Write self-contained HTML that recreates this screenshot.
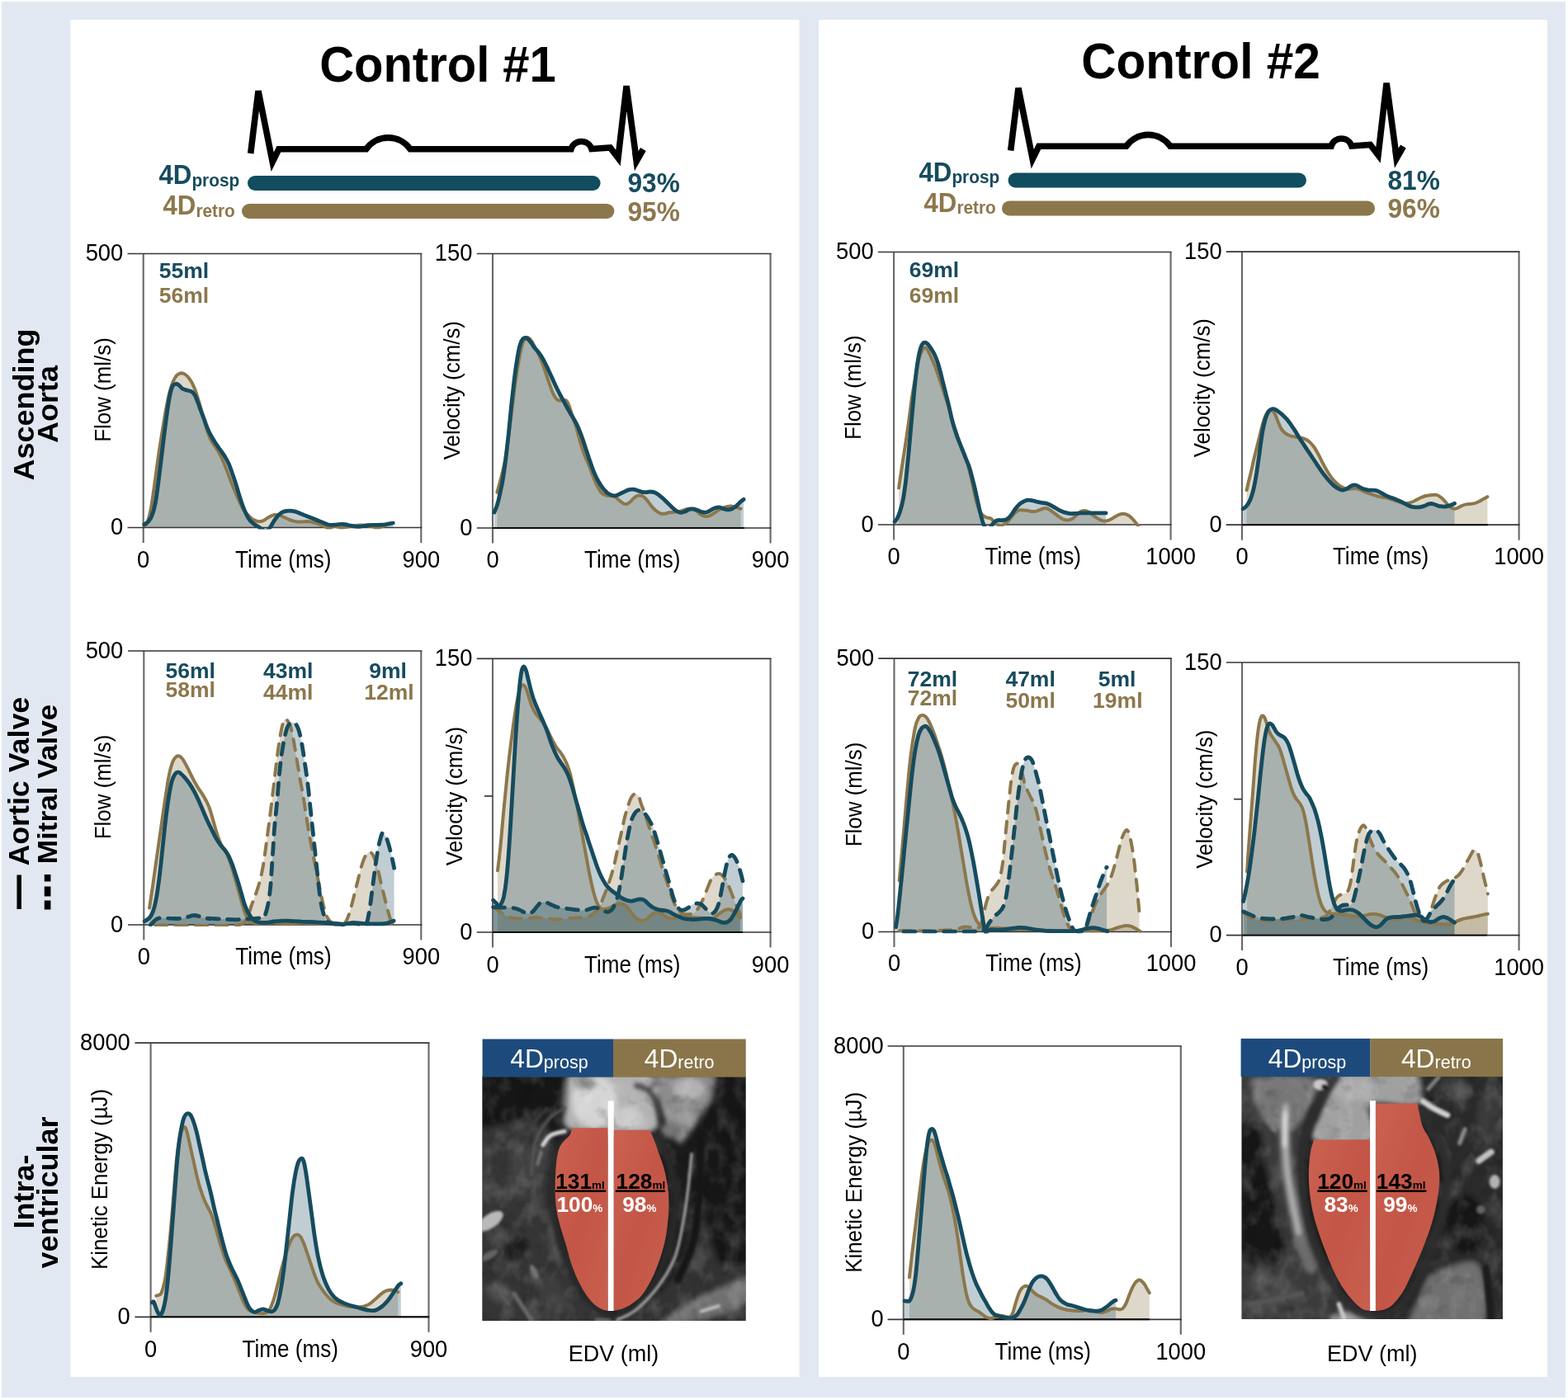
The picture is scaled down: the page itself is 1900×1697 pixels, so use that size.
<!DOCTYPE html>
<html lang="en"><head><meta charset="utf-8"><title>4D flow: prospective vs retrospective gating</title>
<style>html,body{margin:0;padding:0;background:#fff}body{width:1900px;height:1697px;overflow:hidden}svg{display:block}text{font-family:'Liberation Sans', Arial, Helvetica, sans-serif}</style>
</head><body>
<svg width="1900" height="1697" viewBox="0 0 1900 1697">
<rect width="1900" height="1697" fill="#fff"/>
<rect x="2" y="2" width="1895" height="1692" fill="#e2e8f2"/>
<g>
<rect x="85.3" y="24" width="883.2" height="1645" fill="#fff"/>
<rect x="992" y="24" width="883" height="1645" fill="#fff"/>
<text font-size="58" font-weight="bold" text-anchor="middle" transform="translate(530.5 98.7) scale(1 1.04)">Control #1</text>
<text font-size="58.6" font-weight="bold" text-anchor="middle" transform="translate(1455 95) scale(1 1.04)">Control #2</text>
<g transform="translate(0 0)">
<path d="M303.7 186L313 110.2L330.2 196.3L337.8 180.8H443.7A32.6 32.6 0 0 1 497.1 180.8H692A13 13 0 0 1 716.9 180.6L739.4 179L749 191.5L759.1 104.2L770.1 186" fill="none" stroke="#000" stroke-width="7.6" stroke-linejoin="miter" stroke-miterlimit="4"/>
<path d="M768.9 207.2L782.7 183.1L776.2 178.9L773.2 183.5L770 186L765.9 185Z" fill="#000"/>
</g>
<g transform="translate(921 -3.5)">
<path d="M303.7 186L313 110.2L330.2 196.3L337.8 180.8H443.7A32.6 32.6 0 0 1 497.1 180.8H692A13 13 0 0 1 716.9 180.6L739.4 179L749 191.5L759.1 104.2L770.1 186" fill="none" stroke="#000" stroke-width="7.6" stroke-linejoin="miter" stroke-miterlimit="4"/>
<path d="M768.9 207.2L782.7 183.1L776.2 178.9L773.2 183.5L770 186L765.9 185Z" fill="#000"/>
</g>
<path d="M309 222H718.6" stroke="#0f4d5f" stroke-width="18" stroke-linecap="round"/>
<path d="M302 256H735.4" stroke="#8c774c" stroke-width="18" stroke-linecap="round"/>
<text transform="translate(192.5 223) scale(1 1.04)" font-size="31.2" font-weight="bold" fill="#164b5e">4D<tspan font-size="20.8" dy="2.4">prosp</tspan></text>
<text transform="translate(197.5 260) scale(1 1.04)" font-size="31.2" font-weight="bold" fill="#8c774c">4D<tspan font-size="20.8" dy="2.4">retro</tspan></text>
<text transform="translate(760.5 233.4) scale(1 1.055)" font-size="31.6" font-weight="bold" fill="#164b5e">93%</text>
<text transform="translate(760.5 267.9) scale(1 1.055)" font-size="31.6" font-weight="bold" fill="#8c774c">95%</text>
<path d="M1230.5 218.5H1574" stroke="#0f4d5f" stroke-width="18" stroke-linecap="round"/>
<path d="M1223 252.5H1657" stroke="#8c774c" stroke-width="18" stroke-linecap="round"/>
<text transform="translate(1113.5 219.5) scale(1 1.04)" font-size="31.2" font-weight="bold" fill="#164b5e">4D<tspan font-size="20.8" dy="2.4">prosp</tspan></text>
<text transform="translate(1119.5 256.5) scale(1 1.04)" font-size="31.2" font-weight="bold" fill="#8c774c">4D<tspan font-size="20.8" dy="2.4">retro</tspan></text>
<text transform="translate(1681.5 229.9) scale(1 1.055)" font-size="31.6" font-weight="bold" fill="#164b5e">81%</text>
<text transform="translate(1681.5 264.4) scale(1 1.055)" font-size="31.6" font-weight="bold" fill="#8c774c">96%</text>
<text font-size="34.6" font-weight="bold" text-anchor="middle" transform="translate(40.5 490.5) rotate(-90) scale(1.04 1)">Ascending</text>
<text font-size="34.6" font-weight="bold" text-anchor="middle" transform="translate(69.5 490) rotate(-90) scale(1.04 1)">Aorta</text>
<text font-size="34.4" font-weight="bold" text-anchor="middle" transform="translate(35 947.2) rotate(-90) scale(1.04 1)">Aortic Valve</text>
<text font-size="34" font-weight="bold" text-anchor="middle" transform="translate(68.8 950.5) rotate(-90) scale(1.035 1)">Mitral Valve</text>
<path d="M23.2 1060.5V1102" stroke="#000" stroke-width="5.5"/>
<path d="M57.6 1060V1102.6" stroke="#000" stroke-width="7.7" stroke-dasharray="8.5 6 12 5 11 20"/>
<text font-size="34.6" font-weight="bold" text-anchor="middle" transform="translate(40.5 1444.5) rotate(-90) scale(1.04 1)">Intra-</text>
<text font-size="34.6" font-weight="bold" text-anchor="middle" transform="translate(69.7 1445.5) rotate(-90) scale(1.04 1)">ventricular</text>
<g>
<clipPath id="c1"><rect x="171.7" y="307.5" width="340.6" height="334"/></clipPath>
<g clip-path="url(#c1)">
<path d="M175.6 637.1C176 636.5 177.2 636.7 178.4 633.6C179.6 630.4 181.2 625.3 182.6 618C184 610.7 185.5 599.6 186.9 589.7C188.3 579.8 189.7 568.5 191.1 558.6C192.5 548.7 193.9 539.3 195.4 530.3C196.8 521.4 198.2 512.9 199.6 504.9C201 496.8 202.4 488.6 203.8 482.2C205.3 475.9 206.7 470.8 208.1 466.7C209.5 462.5 210.9 459.7 212.3 457.5C213.7 455.2 215.3 454.1 216.6 453.2C217.9 452.4 218.9 452.2 220.1 452.2C221.3 452.3 222.3 452.6 223.6 453.4C224.9 454.2 226.5 455.4 227.9 457.1C229.3 458.7 230.7 460.6 232.1 463.1C233.5 465.7 235.2 469.4 236.4 472.3C237.5 475.3 238 477 239.2 480.8C240.4 484.6 242 490 243.4 495C244.9 499.9 246.3 505.6 247.7 510.5C249.1 515.5 250.5 520.6 251.9 524.7C253.3 528.7 254.8 531.8 256.2 534.6C257.6 537.3 259 538.8 260.4 540.9C261.8 543 263.2 544.8 264.7 547.3C266.1 549.8 267.5 552.7 268.9 555.8C270.3 558.8 271.7 562.1 273.1 565.7C274.6 569.2 276 573.2 277.4 577C278.8 580.8 280.2 584.8 281.6 588.3C283 591.8 284.5 594.9 285.9 598.2C287.3 601.5 288.7 605 290.1 608.1C291.5 611.2 292.9 614.2 294.4 616.6C295.8 618.9 297.2 620.6 298.6 622.2C300 623.9 301.4 625.2 302.8 626.5C304.3 627.8 305.7 629.1 307.1 630C308.5 630.9 309.9 631.4 311.3 631.7C312.7 632.1 314.2 632.3 315.6 632.1C317 632 318.4 631.4 319.8 630.7C321.2 630 322.4 628.9 324.1 627.9C325.7 626.9 327.8 625.5 329.7 624.8C331.6 624.1 333.7 623.7 335.4 623.7C337 623.6 338.2 624.1 339.6 624.6C341 625.2 342.2 626 343.9 626.8C345.5 627.5 347.6 628.5 349.5 629.3C351.4 630.1 353.3 630.9 355.2 631.4C357.1 632 358.9 632.4 360.8 632.6C362.7 632.7 364.6 632.5 366.5 632.4C368.4 632.4 370.3 632.1 372.1 632.1C374 632.2 375.9 632.5 377.8 632.8C379.7 633.2 381.6 633.7 383.5 634.3C385.3 634.8 387.2 635.6 389.1 636.4C391 637.2 393.1 638.2 394.8 638.9C396.4 639.6 397.3 640.8 399 640.6C400.8 640.4 402.8 637.9 405.3 637.8C407.8 637.7 410.6 639.8 413.9 639.8C417.3 639.8 421.7 638.3 425.5 637.8C429.4 637.3 433.2 636.6 437.1 636.6C441 636.6 445.3 637.3 448.7 637.8C452.1 638.3 454.5 639.9 457.4 639.8C460.3 639.7 464.6 637.6 466.1 637.2L466.1 639.5L175.6 639.5Z" fill="#8c774c" fill-opacity="0.29"/>
<path d="M174.8 635.7C175.7 635.1 178.3 633.9 179.8 632.1C181.3 630.4 182.6 628.8 184 625.1C185.5 621.3 186.9 617.1 188.3 609.5C189.7 602 191.1 590.7 192.5 579.8C193.9 569 195.4 556 196.8 544.5C198.2 532.9 199.8 519.5 201 510.5C202.2 501.6 202.9 496.6 203.8 490.7C204.8 484.8 205.7 479 206.7 475.2C207.6 471.3 208.4 469 209.5 467.4C210.6 465.7 211.9 465.4 213 465.3C214.2 465.1 215.3 465.7 216.6 466.7C217.9 467.6 219.4 469.9 220.8 470.9C222.2 471.9 223.6 472.1 225.1 472.6C226.5 473.1 228 473.3 229.3 473.7C230.6 474.2 231.7 474.2 232.8 475.2C234 476.1 235.3 477.5 236.4 479.4C237.4 481.3 238 483.4 239.2 486.5C240.4 489.5 242 494 243.4 497.8C244.9 501.6 246.3 505.3 247.7 509.1C249.1 512.9 250.5 517.1 251.9 520.4C253.3 523.7 254.8 526.3 256.2 528.9C257.6 531.5 259 533.7 260.4 536C261.8 538.2 263.2 540.3 264.7 542.3C266.1 544.3 267.5 546 268.9 548C270.3 550 271.7 551.9 273.1 554.4C274.6 556.8 276 559.5 277.4 562.8C278.8 566.1 280.2 570.1 281.6 574.2C283 578.2 284.5 582.4 285.9 586.9C287.3 591.4 288.7 596.5 290.1 601C291.5 605.5 292.9 610 294.4 613.8C295.8 617.5 297.2 620.8 298.6 623.7C300 626.5 301.2 628.7 302.8 630.7C304.5 632.7 306.6 634.3 308.5 635.7C310.4 637.1 312.4 638 314.2 639.2C315.9 640.4 317.8 641.8 319.1 642.7C320.4 643.7 321 644.9 321.9 644.9C322.9 644.8 323.7 643.5 324.8 642.3C325.8 641.1 327 639.7 328.3 637.8C329.6 635.9 330.9 633.1 332.5 630.7C334.2 628.4 336.3 625.4 338.2 623.7C340.1 621.9 341.7 620.9 343.9 620.1C346 619.4 348.6 619.1 350.9 619.1C353.3 619.1 355.6 619.5 358 620.1C360.4 620.8 362.7 622 365.1 622.9C367.4 623.9 369.8 624.8 372.1 625.8C374.5 626.7 376.9 627.7 379.2 628.6C381.6 629.5 383.9 630.5 386.3 631.4C388.6 632.4 391.1 633.4 393.4 634.3C395.6 635.1 397.5 636.1 400 636.4C402.5 636.6 405.4 635.9 408.2 635.8C411 635.6 413.9 635.2 416.8 635.5C419.7 635.7 422.6 636.7 425.5 637.2C428.4 637.7 430.8 638.5 434.2 638.4C437.6 638.3 441.9 637 445.8 636.6C449.6 636.3 454 636.5 457.4 636.3C460.7 636.2 462.9 636.1 466.1 635.8C469.2 635.4 474.5 634.3 476.2 634L476.2 639.5L174.8 639.5Z" fill="#164b5e" fill-opacity="0.27"/>
</g>
<path d="M510.3 307.5V658M173.7 307.5V658" fill="none" stroke="#686868" stroke-width="2.1"/>
<path d="M154.5 307.5H511.3M154.5 639.5H511.3" fill="none" stroke="#363636" stroke-width="1.7"/>
<g clip-path="url(#c1)">
<path d="M175.6 637.1C176 636.5 177.2 636.7 178.4 633.6C179.6 630.4 181.2 625.3 182.6 618C184 610.7 185.5 599.6 186.9 589.7C188.3 579.8 189.7 568.5 191.1 558.6C192.5 548.7 193.9 539.3 195.4 530.3C196.8 521.4 198.2 512.9 199.6 504.9C201 496.8 202.4 488.6 203.8 482.2C205.3 475.9 206.7 470.8 208.1 466.7C209.5 462.5 210.9 459.7 212.3 457.5C213.7 455.2 215.3 454.1 216.6 453.2C217.9 452.4 218.9 452.2 220.1 452.2C221.3 452.3 222.3 452.6 223.6 453.4C224.9 454.2 226.5 455.4 227.9 457.1C229.3 458.7 230.7 460.6 232.1 463.1C233.5 465.7 235.2 469.4 236.4 472.3C237.5 475.3 238 477 239.2 480.8C240.4 484.6 242 490 243.4 495C244.9 499.9 246.3 505.6 247.7 510.5C249.1 515.5 250.5 520.6 251.9 524.7C253.3 528.7 254.8 531.8 256.2 534.6C257.6 537.3 259 538.8 260.4 540.9C261.8 543 263.2 544.8 264.7 547.3C266.1 549.8 267.5 552.7 268.9 555.8C270.3 558.8 271.7 562.1 273.1 565.7C274.6 569.2 276 573.2 277.4 577C278.8 580.8 280.2 584.8 281.6 588.3C283 591.8 284.5 594.9 285.9 598.2C287.3 601.5 288.7 605 290.1 608.1C291.5 611.2 292.9 614.2 294.4 616.6C295.8 618.9 297.2 620.6 298.6 622.2C300 623.9 301.4 625.2 302.8 626.5C304.3 627.8 305.7 629.1 307.1 630C308.5 630.9 309.9 631.4 311.3 631.7C312.7 632.1 314.2 632.3 315.6 632.1C317 632 318.4 631.4 319.8 630.7C321.2 630 322.4 628.9 324.1 627.9C325.7 626.9 327.8 625.5 329.7 624.8C331.6 624.1 333.7 623.7 335.4 623.7C337 623.6 338.2 624.1 339.6 624.6C341 625.2 342.2 626 343.9 626.8C345.5 627.5 347.6 628.5 349.5 629.3C351.4 630.1 353.3 630.9 355.2 631.4C357.1 632 358.9 632.4 360.8 632.6C362.7 632.7 364.6 632.5 366.5 632.4C368.4 632.4 370.3 632.1 372.1 632.1C374 632.2 375.9 632.5 377.8 632.8C379.7 633.2 381.6 633.7 383.5 634.3C385.3 634.8 387.2 635.6 389.1 636.4C391 637.2 393.1 638.2 394.8 638.9C396.4 639.6 397.3 640.8 399 640.6C400.8 640.4 402.8 637.9 405.3 637.8C407.8 637.7 410.6 639.8 413.9 639.8C417.3 639.8 421.7 638.3 425.5 637.8C429.4 637.3 433.2 636.6 437.1 636.6C441 636.6 445.3 637.3 448.7 637.8C452.1 638.3 454.5 639.9 457.4 639.8C460.3 639.7 464.6 637.6 466.1 637.2" fill="none" stroke="#8c774c" stroke-width="4.0" stroke-linecap="round" stroke-linejoin="round"/>
<path d="M174.8 635.7C175.7 635.1 178.3 633.9 179.8 632.1C181.3 630.4 182.6 628.8 184 625.1C185.5 621.3 186.9 617.1 188.3 609.5C189.7 602 191.1 590.7 192.5 579.8C193.9 569 195.4 556 196.8 544.5C198.2 532.9 199.8 519.5 201 510.5C202.2 501.6 202.9 496.6 203.8 490.7C204.8 484.8 205.7 479 206.7 475.2C207.6 471.3 208.4 469 209.5 467.4C210.6 465.7 211.9 465.4 213 465.3C214.2 465.1 215.3 465.7 216.6 466.7C217.9 467.6 219.4 469.9 220.8 470.9C222.2 471.9 223.6 472.1 225.1 472.6C226.5 473.1 228 473.3 229.3 473.7C230.6 474.2 231.7 474.2 232.8 475.2C234 476.1 235.3 477.5 236.4 479.4C237.4 481.3 238 483.4 239.2 486.5C240.4 489.5 242 494 243.4 497.8C244.9 501.6 246.3 505.3 247.7 509.1C249.1 512.9 250.5 517.1 251.9 520.4C253.3 523.7 254.8 526.3 256.2 528.9C257.6 531.5 259 533.7 260.4 536C261.8 538.2 263.2 540.3 264.7 542.3C266.1 544.3 267.5 546 268.9 548C270.3 550 271.7 551.9 273.1 554.4C274.6 556.8 276 559.5 277.4 562.8C278.8 566.1 280.2 570.1 281.6 574.2C283 578.2 284.5 582.4 285.9 586.9C287.3 591.4 288.7 596.5 290.1 601C291.5 605.5 292.9 610 294.4 613.8C295.8 617.5 297.2 620.8 298.6 623.7C300 626.5 301.2 628.7 302.8 630.7C304.5 632.7 306.6 634.3 308.5 635.7C310.4 637.1 312.4 638 314.2 639.2C315.9 640.4 317.8 641.8 319.1 642.7C320.4 643.7 321 644.9 321.9 644.9C322.9 644.8 323.7 643.5 324.8 642.3C325.8 641.1 327 639.7 328.3 637.8C329.6 635.9 330.9 633.1 332.5 630.7C334.2 628.4 336.3 625.4 338.2 623.7C340.1 621.9 341.7 620.9 343.9 620.1C346 619.4 348.6 619.1 350.9 619.1C353.3 619.1 355.6 619.5 358 620.1C360.4 620.8 362.7 622 365.1 622.9C367.4 623.9 369.8 624.8 372.1 625.8C374.5 626.7 376.9 627.7 379.2 628.6C381.6 629.5 383.9 630.5 386.3 631.4C388.6 632.4 391.1 633.4 393.4 634.3C395.6 635.1 397.5 636.1 400 636.4C402.5 636.6 405.4 635.9 408.2 635.8C411 635.6 413.9 635.2 416.8 635.5C419.7 635.7 422.6 636.7 425.5 637.2C428.4 637.7 430.8 638.5 434.2 638.4C437.6 638.3 441.9 637 445.8 636.6C449.6 636.3 454 636.5 457.4 636.3C460.7 636.2 462.9 636.1 466.1 635.8C469.2 635.4 474.5 634.3 476.2 634" fill="none" stroke="#164b5e" stroke-width="4.8" stroke-linecap="round" stroke-linejoin="round"/>
</g>
<text font-size="27.3" text-anchor="end" transform="translate(149.2 316.1) scale(1 1.05)">500</text>
<text font-size="27.3" text-anchor="end" transform="translate(149.2 648.1) scale(1 1.05)">0</text>
<text font-size="27.3" text-anchor="middle" transform="translate(173.7 687.8) scale(1 1.05)">0</text>
<text font-size="27.3" text-anchor="middle" transform="translate(510.3 687.8) scale(1 1.05)">900</text>
<text font-size="26.1" text-anchor="middle" transform="translate(343.3 687.8) scale(1 1.1)">Time (ms)</text>
<text font-size="25.9" text-anchor="middle" transform="translate(134.3 472.5) rotate(-90) scale(1 1.1)">Flow (ml/s)</text>
</g>
<text x="223" y="337" font-size="26.5" font-weight="bold" fill="#164b5e" text-anchor="middle">55ml</text>
<text x="223" y="367.2" font-size="26.5" font-weight="bold" fill="#8c774c" text-anchor="middle">56ml</text>
<g>
<clipPath id="c2"><rect x="595" y="307.5" width="340.6" height="334.5"/></clipPath>
<g clip-path="url(#c2)">
<path d="M602.4 596.7C603.2 593.5 605.8 584.8 607.6 577.6C609.3 570.3 611.1 563.7 612.8 553.3C614.5 542.8 616.3 528.4 618 515.1C619.7 501.7 621.5 486.1 623.2 473.4C624.9 460.6 626.8 447.9 628.4 438.6C630 429.4 631.3 422.6 632.8 417.8C634.2 413 635.8 411.4 637.1 410C638.4 408.6 639.4 408.9 640.6 409.5C641.7 410 642.6 411.2 644.1 413.4C645.5 415.7 647.5 419.7 649.3 423C651 426.3 652.7 429.4 654.5 433.4C656.2 437.5 657.9 442.4 659.7 447.3C661.4 452.2 663.2 458 664.9 462.9C666.6 467.9 668.4 473.2 670.1 476.8C671.8 480.5 673.6 483.2 675.3 484.7C677.1 486.1 678.8 485.4 680.5 485.5C682.3 485.6 684.3 484.3 685.7 485.2C687.2 486 688.1 488.1 689.2 490.7C690.4 493.4 691.2 496.8 692.7 501.2C694.1 505.5 696.2 511 697.9 516.8C699.6 522.6 701.4 530.1 703.1 535.9C704.8 541.7 706.6 546.9 708.3 551.5C710.1 556.2 711.8 559.3 713.5 563.7C715.3 568 717 573.2 718.7 577.6C720.5 581.9 722.2 586.4 723.9 589.7C725.7 593.1 727.4 595.8 729.2 597.6C730.9 599.3 732.6 599.9 734.4 600.5C736.1 601.1 737.8 600.8 739.6 601C741.3 601.3 743.1 601 744.8 601.9C746.5 602.8 748.3 604.8 750 606.2C751.7 607.6 753.6 609.5 755.2 610.2C756.8 611 758.1 611.3 759.6 610.9C761 610.5 762.3 609.3 763.9 608C765.5 606.6 767.4 604 769.1 602.8C770.8 601.5 772.6 600.6 774.3 600.5C776.1 600.4 777.8 600.8 779.5 601.9C781.3 603 783 605.1 784.7 607.1C786.5 609.1 788.2 612 789.9 614.1C791.7 616.1 793.4 617.9 795.2 619.3C796.9 620.7 798.6 621.8 800.4 622.4C802.1 623 803.8 622.9 805.6 622.7C807.3 622.6 808.8 621.7 810.8 621.3C812.8 621 815.7 620.9 817.7 620.7C819.8 620.5 821.2 620.5 822.9 620.1C824.7 619.8 826.4 619 828.2 618.4C829.9 617.8 831.6 616.9 833.4 616.7C835.1 616.4 836.8 616.2 838.6 616.7C840.3 617.1 842.1 618.1 843.8 619.3C845.5 620.4 847.3 622.5 849 623.6C850.7 624.7 852.5 625.6 854.2 625.9C855.9 626.2 857.7 625.9 859.4 625.3C861.2 624.8 862.9 623.5 864.6 622.4C866.4 621.3 868.1 620 869.8 618.9C871.6 617.8 873.3 616.6 875.1 615.8C876.8 615 878.5 614.4 880.3 614.1C882 613.7 883.7 613.5 885.5 613.5C887.2 613.6 888.9 614 890.7 614.4C892.4 614.8 894.7 615.8 895.9 616.1C897.1 616.5 897.3 616.6 897.6 616.7L897.6 640L602.4 640Z" fill="#8c774c" fill-opacity="0.29"/>
<path d="M598.9 621C599.5 619.6 601.2 616.1 602.4 612.3C603.5 608.6 604.7 603.6 605.8 598.4C607 593.2 608.2 588 609.3 581.1C610.5 574.1 611.6 566 612.8 556.7C613.9 547.5 615.1 536.5 616.3 525.5C617.4 514.5 618.6 501.7 619.7 490.7C620.9 479.7 622.1 468.7 623.2 459.5C624.4 450.2 625.5 442.1 626.7 435.2C627.8 428.2 629 421.8 630.2 417.8C631.3 413.7 632.5 412.2 633.6 410.8C634.8 409.5 635.9 409.3 637.1 409.5C638.3 409.6 639.4 410.6 640.6 411.7C641.7 412.8 642.9 414.5 644.1 416.1C645.2 417.6 646.1 419.4 647.5 421.3C649 423.1 651 425 652.7 427.3C654.5 429.7 656.2 432.1 657.9 435.2C659.7 438.2 661.4 442 663.2 445.6C664.9 449.2 666.6 453.1 668.4 456.9C670.1 460.6 671.8 464.5 673.6 468.2C675.3 471.8 677.1 475.2 678.8 478.6C680.5 481.9 682.3 484.9 684 488.1C685.7 491.3 687.5 494.6 689.2 497.7C690.9 500.7 692.7 503.3 694.4 506.4C696.2 509.4 697.9 512.2 699.6 515.9C701.4 519.7 703.1 524.2 704.8 528.9C706.6 533.7 708.3 539.4 710.1 544.6C711.8 549.8 713.5 555.3 715.3 560.2C717 565.1 718.7 570.1 720.5 574.1C722.2 578.2 723.9 581.5 725.7 584.5C727.4 587.6 729.2 590.2 730.9 592.3C732.6 594.5 734.4 596.2 736.1 597.6C737.8 598.9 739.6 599.6 741.3 600.2C743.1 600.7 744.8 601 746.5 600.7C748.3 600.4 750 599.2 751.7 598.4C753.5 597.6 755.2 596.6 756.9 595.8C758.7 595 760.4 594 762.2 593.6C763.9 593.1 765.6 593 767.4 593.2C769.1 593.4 770.8 594.1 772.6 594.6C774.3 595.1 776.1 596 777.8 596.3C779.5 596.7 781.3 596.7 783 596.7C784.7 596.6 786.5 595.9 788.2 596C789.9 596 791.7 596.3 793.4 597C795.2 597.7 796.9 598.9 798.6 600.2C800.4 601.4 802.1 602.9 803.8 604.5C805.6 606.1 807.3 608 809.1 609.7C810.8 611.4 812.5 613.3 814.3 614.9C816 616.5 817.7 618.2 819.5 619.3C821.2 620.3 822.9 621.2 824.7 621.3C826.4 621.5 828.2 620.8 829.9 620.1C831.6 619.5 833.4 618 835.1 617.5C836.8 617 838.6 616.9 840.3 617C842.1 617.1 843.8 617.8 845.5 618.4C847.3 619 849 620.2 850.7 620.7C852.5 621.1 854.2 621.4 855.9 621C857.7 620.6 859.4 619.3 861.2 618.4C862.9 617.5 864.6 616.4 866.4 615.8C868.1 615.2 869.8 614.8 871.6 614.9C873.3 615.1 875.1 616.2 876.8 616.7C878.5 617.1 880.3 617.9 882 617.9C883.7 617.9 885.5 617.4 887.2 616.7C888.9 615.9 890.7 614.6 892.4 613.2C894.2 611.7 896.2 609.3 897.6 608C899.1 606.7 900.5 605.8 901.1 605.4L901.1 640L598.9 640Z" fill="#164b5e" fill-opacity="0.27"/>
</g>
<path d="M933.6 307.5V658.5M597 307.5V658.5" fill="none" stroke="#686868" stroke-width="2.1"/>
<path d="M577.8 307.5H934.6M577.8 640H934.6" fill="none" stroke="#363636" stroke-width="1.7"/>
<path d="M597 640H902" stroke="#0d0d0d" stroke-width="1.9"/>
<g clip-path="url(#c2)">
<path d="M602.4 596.7C603.2 593.5 605.8 584.8 607.6 577.6C609.3 570.3 611.1 563.7 612.8 553.3C614.5 542.8 616.3 528.4 618 515.1C619.7 501.7 621.5 486.1 623.2 473.4C624.9 460.6 626.8 447.9 628.4 438.6C630 429.4 631.3 422.6 632.8 417.8C634.2 413 635.8 411.4 637.1 410C638.4 408.6 639.4 408.9 640.6 409.5C641.7 410 642.6 411.2 644.1 413.4C645.5 415.7 647.5 419.7 649.3 423C651 426.3 652.7 429.4 654.5 433.4C656.2 437.5 657.9 442.4 659.7 447.3C661.4 452.2 663.2 458 664.9 462.9C666.6 467.9 668.4 473.2 670.1 476.8C671.8 480.5 673.6 483.2 675.3 484.7C677.1 486.1 678.8 485.4 680.5 485.5C682.3 485.6 684.3 484.3 685.7 485.2C687.2 486 688.1 488.1 689.2 490.7C690.4 493.4 691.2 496.8 692.7 501.2C694.1 505.5 696.2 511 697.9 516.8C699.6 522.6 701.4 530.1 703.1 535.9C704.8 541.7 706.6 546.9 708.3 551.5C710.1 556.2 711.8 559.3 713.5 563.7C715.3 568 717 573.2 718.7 577.6C720.5 581.9 722.2 586.4 723.9 589.7C725.7 593.1 727.4 595.8 729.2 597.6C730.9 599.3 732.6 599.9 734.4 600.5C736.1 601.1 737.8 600.8 739.6 601C741.3 601.3 743.1 601 744.8 601.9C746.5 602.8 748.3 604.8 750 606.2C751.7 607.6 753.6 609.5 755.2 610.2C756.8 611 758.1 611.3 759.6 610.9C761 610.5 762.3 609.3 763.9 608C765.5 606.6 767.4 604 769.1 602.8C770.8 601.5 772.6 600.6 774.3 600.5C776.1 600.4 777.8 600.8 779.5 601.9C781.3 603 783 605.1 784.7 607.1C786.5 609.1 788.2 612 789.9 614.1C791.7 616.1 793.4 617.9 795.2 619.3C796.9 620.7 798.6 621.8 800.4 622.4C802.1 623 803.8 622.9 805.6 622.7C807.3 622.6 808.8 621.7 810.8 621.3C812.8 621 815.7 620.9 817.7 620.7C819.8 620.5 821.2 620.5 822.9 620.1C824.7 619.8 826.4 619 828.2 618.4C829.9 617.8 831.6 616.9 833.4 616.7C835.1 616.4 836.8 616.2 838.6 616.7C840.3 617.1 842.1 618.1 843.8 619.3C845.5 620.4 847.3 622.5 849 623.6C850.7 624.7 852.5 625.6 854.2 625.9C855.9 626.2 857.7 625.9 859.4 625.3C861.2 624.8 862.9 623.5 864.6 622.4C866.4 621.3 868.1 620 869.8 618.9C871.6 617.8 873.3 616.6 875.1 615.8C876.8 615 878.5 614.4 880.3 614.1C882 613.7 883.7 613.5 885.5 613.5C887.2 613.6 888.9 614 890.7 614.4C892.4 614.8 894.7 615.8 895.9 616.1C897.1 616.5 897.3 616.6 897.6 616.7" fill="none" stroke="#8c774c" stroke-width="4.0" stroke-linecap="round" stroke-linejoin="round"/>
<path d="M598.9 621C599.5 619.6 601.2 616.1 602.4 612.3C603.5 608.6 604.7 603.6 605.8 598.4C607 593.2 608.2 588 609.3 581.1C610.5 574.1 611.6 566 612.8 556.7C613.9 547.5 615.1 536.5 616.3 525.5C617.4 514.5 618.6 501.7 619.7 490.7C620.9 479.7 622.1 468.7 623.2 459.5C624.4 450.2 625.5 442.1 626.7 435.2C627.8 428.2 629 421.8 630.2 417.8C631.3 413.7 632.5 412.2 633.6 410.8C634.8 409.5 635.9 409.3 637.1 409.5C638.3 409.6 639.4 410.6 640.6 411.7C641.7 412.8 642.9 414.5 644.1 416.1C645.2 417.6 646.1 419.4 647.5 421.3C649 423.1 651 425 652.7 427.3C654.5 429.7 656.2 432.1 657.9 435.2C659.7 438.2 661.4 442 663.2 445.6C664.9 449.2 666.6 453.1 668.4 456.9C670.1 460.6 671.8 464.5 673.6 468.2C675.3 471.8 677.1 475.2 678.8 478.6C680.5 481.9 682.3 484.9 684 488.1C685.7 491.3 687.5 494.6 689.2 497.7C690.9 500.7 692.7 503.3 694.4 506.4C696.2 509.4 697.9 512.2 699.6 515.9C701.4 519.7 703.1 524.2 704.8 528.9C706.6 533.7 708.3 539.4 710.1 544.6C711.8 549.8 713.5 555.3 715.3 560.2C717 565.1 718.7 570.1 720.5 574.1C722.2 578.2 723.9 581.5 725.7 584.5C727.4 587.6 729.2 590.2 730.9 592.3C732.6 594.5 734.4 596.2 736.1 597.6C737.8 598.9 739.6 599.6 741.3 600.2C743.1 600.7 744.8 601 746.5 600.7C748.3 600.4 750 599.2 751.7 598.4C753.5 597.6 755.2 596.6 756.9 595.8C758.7 595 760.4 594 762.2 593.6C763.9 593.1 765.6 593 767.4 593.2C769.1 593.4 770.8 594.1 772.6 594.6C774.3 595.1 776.1 596 777.8 596.3C779.5 596.7 781.3 596.7 783 596.7C784.7 596.6 786.5 595.9 788.2 596C789.9 596 791.7 596.3 793.4 597C795.2 597.7 796.9 598.9 798.6 600.2C800.4 601.4 802.1 602.9 803.8 604.5C805.6 606.1 807.3 608 809.1 609.7C810.8 611.4 812.5 613.3 814.3 614.9C816 616.5 817.7 618.2 819.5 619.3C821.2 620.3 822.9 621.2 824.7 621.3C826.4 621.5 828.2 620.8 829.9 620.1C831.6 619.5 833.4 618 835.1 617.5C836.8 617 838.6 616.9 840.3 617C842.1 617.1 843.8 617.8 845.5 618.4C847.3 619 849 620.2 850.7 620.7C852.5 621.1 854.2 621.4 855.9 621C857.7 620.6 859.4 619.3 861.2 618.4C862.9 617.5 864.6 616.4 866.4 615.8C868.1 615.2 869.8 614.8 871.6 614.9C873.3 615.1 875.1 616.2 876.8 616.7C878.5 617.1 880.3 617.9 882 617.9C883.7 617.9 885.5 617.4 887.2 616.7C888.9 615.9 890.7 614.6 892.4 613.2C894.2 611.7 896.2 609.3 897.6 608C899.1 606.7 900.5 605.8 901.1 605.4" fill="none" stroke="#164b5e" stroke-width="4.8" stroke-linecap="round" stroke-linejoin="round"/>
</g>
<text font-size="27.3" text-anchor="end" transform="translate(572.4 316.1) scale(1 1.05)">150</text>
<text font-size="27.3" text-anchor="end" transform="translate(572.4 648.6) scale(1 1.05)">0</text>
<text font-size="27.3" text-anchor="middle" transform="translate(597 687.8) scale(1 1.05)">0</text>
<text font-size="27.3" text-anchor="middle" transform="translate(933.6 687.8) scale(1 1.05)">900</text>
<text font-size="26.1" text-anchor="middle" transform="translate(766.2 687.8) scale(1 1.1)">Time (ms)</text>
<text font-size="25.9" text-anchor="middle" transform="translate(557.1 473.2) rotate(-90) scale(1 1.1)">Velocity (cm/s)</text>
</g>
<g>
<clipPath id="c3"><rect x="172.3" y="789" width="340" height="334"/></clipPath>
<g clip-path="url(#c3)">
<path d="M181.1 1100.5C181.8 1096.1 183.8 1082.3 185.1 1073.7C186.3 1065 187.4 1057 188.6 1048.6C189.8 1040.3 191 1031.9 192.2 1023.6C193.4 1015.2 194.6 1006.9 195.8 998.5C197 990.2 198.2 981.5 199.4 973.5C200.6 965.4 201.8 957.1 202.9 950.2C204.1 943.4 205.3 937.1 206.5 932.3C207.7 927.5 208.9 924.1 210.1 921.6C211.3 919 212.6 918 213.7 917.1C214.7 916.2 215.3 916 216.4 916.2C217.4 916.4 218.6 916.9 219.9 918.4C221.3 919.8 222.8 922.2 224.4 925.2C226.1 928.1 228 932.3 229.8 935.9C231.6 939.5 233.4 943.4 235.2 946.6C236.9 949.9 238.7 952.7 240.5 955.6C242.3 958.4 244.1 960.6 245.9 963.6C247.7 966.6 249.8 970.3 251.3 973.5C252.8 976.6 253.6 978.8 254.8 982.4C256 986 257.2 990.8 258.4 994.9C259.6 999.1 260.8 1003.6 262 1007.5C263.2 1011.4 264.4 1015.1 265.6 1018.2C266.8 1021.3 267.7 1023.6 269.2 1026.3C270.6 1028.9 273 1031.5 274.5 1034.3C276 1037.1 276.9 1040 278.1 1043.3C279.3 1046.5 280.5 1050.1 281.7 1054C282.9 1057.9 284.1 1062.4 285.3 1066.5C286.5 1070.7 287.6 1074.9 288.8 1079.1C290 1083.2 291.2 1087.4 292.4 1091.6C293.6 1095.8 294.8 1100.5 296 1104.1C297.2 1107.7 298.4 1110.8 299.6 1113.1C300.8 1115.3 301.7 1116.5 303.2 1117.5C304.6 1118.5 306.7 1118.7 308.5 1119C310.3 1119.3 311.8 1119.3 313.9 1119.3C316 1119.3 318.4 1119.1 321.1 1119C323.7 1118.8 327 1118.4 330 1118.4C333 1118.4 336 1118.7 338.9 1119C341.9 1119.3 344.9 1120.2 347.9 1120.2C350.9 1120.3 353.9 1119.6 356.8 1119.3C359.8 1119 362.8 1118.5 365.8 1118.4C368.8 1118.4 371.8 1118.8 374.7 1119C377.7 1119.1 380.7 1119.3 383.7 1119.3C386.7 1119.3 389.9 1119.1 392.6 1119C395.3 1118.8 396.8 1118.4 399.8 1118.4C402.8 1118.5 405.8 1119.1 410.5 1119.3C415.3 1119.6 422.5 1119.8 428.4 1119.9C434.4 1119.9 440.4 1119.9 446.3 1119.9C452.3 1119.9 459.4 1119.9 464.2 1119.9C469 1119.8 473.2 1119.6 474.9 1119.5L474.9 1121L181.1 1121Z" fill="#8c774c" fill-opacity="0.29"/>
<path d="M188.6 1121.6C191.3 1121.6 199.1 1121.6 204.7 1121.6C210.4 1121.7 216.7 1121.9 222.6 1122C228.6 1122.1 234.6 1122 240.5 1122C246.5 1122 252.5 1122.1 258.4 1122C264.4 1121.9 271.2 1121.8 276.3 1121.6C281.4 1121.5 285.6 1121.6 288.8 1121.1C292.1 1120.6 293.9 1120.7 296 1118.4C298.1 1116.2 299.9 1111.3 301.4 1107.7C302.9 1104.1 303.8 1100.2 304.9 1096.9C306.1 1093.7 307.3 1091.3 308.5 1088C309.7 1084.7 310.9 1081.1 312.1 1077.3C313.3 1073.4 314.5 1069.8 315.7 1064.7C316.9 1059.7 318.1 1054 319.3 1046.8C320.5 1039.7 321.6 1030.4 322.8 1021.8C324 1013.1 325.2 1004.2 326.4 994.9C327.6 985.7 328.8 976.2 330 966.3C331.2 956.5 332.4 945.7 333.6 935.9C334.8 926.1 336 915.6 337.2 907.3C338.4 898.9 339.7 891.2 340.7 885.8C341.8 880.4 342.5 877.4 343.4 875.1C344.3 872.7 345.2 871.6 346.1 871.5C347 871.3 347.9 873 348.8 874.2C349.7 875.4 350.6 876.1 351.5 878.6C352.4 881.2 353.3 885.2 354.2 889.4C355.1 893.5 355.8 897.7 356.8 903.7C357.9 909.6 359.2 918 360.4 925.2C361.6 932.3 362.8 939.8 364 946.6C365.2 953.5 366.4 959.2 367.6 966.3C368.8 973.5 370 982.1 371.2 989.6C372.4 997 373.5 1004.2 374.7 1011.1C375.9 1017.9 377.1 1024.5 378.3 1030.7C379.5 1037 380.7 1042.7 381.9 1048.6C383.1 1054.6 384.3 1060.6 385.5 1066.5C386.7 1072.5 387.9 1078.8 389.1 1084.4C390.2 1090.1 391.4 1096.1 392.6 1100.5C393.8 1105 395 1108.6 396.2 1111.3C397.4 1113.9 398.3 1115.3 399.8 1116.6C401.3 1118 403.4 1118.7 405.2 1119.3C406.9 1119.9 408.7 1120.1 410.5 1120.2C412.3 1120.4 414.4 1120.8 415.9 1120.2C417.4 1119.6 418.3 1118.7 419.5 1116.6C420.7 1114.5 421.9 1111.3 423.1 1107.7C424.2 1104.1 425.4 1099.6 426.6 1095.2C427.8 1090.7 429 1085.6 430.2 1080.8C431.4 1076.1 432.6 1071.3 433.8 1066.5C435 1061.8 436.2 1056.4 437.4 1052.2C438.6 1048 439.8 1044.3 440.9 1041.5C442.1 1038.6 443.3 1036.7 444.5 1035.2C445.7 1033.7 446.9 1032.4 448.1 1032.5C449.3 1032.7 450.5 1034 451.7 1036.1C452.9 1038.2 454.1 1041.5 455.3 1045.1C456.5 1048.6 457.6 1052.8 458.8 1057.6C460 1062.4 461.2 1068.6 462.4 1073.7C463.6 1078.8 464.8 1083.2 466 1088C467.2 1092.8 468.4 1097.8 469.6 1102.3C470.8 1106.8 472.1 1111.9 473.2 1114.8C474.2 1117.8 475.4 1119.3 475.8 1120.2L475.8 1121L188.6 1121Z" fill="#8c774c" fill-opacity="0.29"/>
<path d="M175.2 1116.6C176 1116.2 178.3 1115.1 179.7 1113.9C181 1112.8 182.1 1111.7 183.3 1109.5C184.5 1107.2 185.6 1105 186.8 1100.5C188 1096.1 189.2 1090.1 190.4 1082.6C191.6 1075.2 192.8 1065.9 194 1055.8C195.2 1045.6 196.4 1032.8 197.6 1021.8C198.8 1010.8 200 999.1 201.2 989.6C202.4 980 203.5 971.7 204.7 964.5C205.9 957.4 207.1 951 208.3 946.6C209.5 942.3 210.7 940.4 211.9 938.6C213.1 936.8 214.3 936 215.5 935.9C216.7 935.7 217.6 936.5 219.1 937.7C220.5 938.9 222.6 941 224.4 943.1C226.2 945.1 228 947.5 229.8 950.2C231.6 952.9 233.4 955.9 235.2 959.2C236.9 962.4 238.7 966 240.5 969.9C242.3 973.8 244.1 978.2 245.9 982.4C247.7 986.6 249.5 991.1 251.3 994.9C253.1 998.8 254.8 1002.1 256.6 1005.7C258.4 1009.3 260.2 1013.3 262 1016.4C263.8 1019.6 265.6 1022.1 267.4 1024.5C269.2 1026.9 271.1 1028.5 272.7 1030.7C274.4 1033 275.7 1034.9 277.2 1037.9C278.7 1040.9 280.3 1045.1 281.7 1048.6C283 1052.2 284.1 1055.8 285.3 1059.4C286.5 1062.9 287.6 1066.2 288.8 1070.1C290 1074 291.2 1078.5 292.4 1082.6C293.6 1086.8 294.8 1091.6 296 1095.2C297.2 1098.7 298.4 1101.6 299.6 1104.1C300.8 1106.6 302 1108.6 303.2 1110.4C304.4 1112.2 305.2 1113.6 306.7 1114.8C308.2 1116 310.3 1116.9 312.1 1117.5C313.9 1118.1 315.4 1118.3 317.5 1118.4C319.6 1118.5 322.2 1118.3 324.6 1118.1C327 1117.8 329.4 1117.3 331.8 1117C334.2 1116.7 336.3 1116.4 338.9 1116.3C341.6 1116.1 344.9 1116 347.9 1116.1C350.9 1116.2 353.9 1116.5 356.8 1116.6C359.8 1116.8 362.8 1117 365.8 1117.2C368.8 1117.3 371.8 1117.4 374.7 1117.5C377.7 1117.6 380.7 1117.7 383.7 1117.9C386.7 1118 389.6 1118.2 392.6 1118.4C395.6 1118.7 398.6 1119 401.6 1119.3C404.6 1119.6 408.1 1120 410.5 1120.2C412.9 1120.4 414.1 1120.7 415.9 1120.6C417.7 1120.4 419.2 1119.7 421.3 1119.3C423.4 1119 425.4 1118.4 428.4 1118.4C431.4 1118.4 435.6 1119.1 439.2 1119.3C442.7 1119.6 446.3 1119.8 449.9 1119.9C453.5 1119.9 457.6 1119.9 460.6 1119.9C463.6 1119.8 465.7 1119.7 467.8 1119.3C469.9 1118.9 471.6 1118.1 473.2 1117.5C474.7 1117 476.4 1116.3 477.1 1116.1L477.1 1121L175.2 1121Z" fill="#164b5e" fill-opacity="0.27"/>
<path d="M182.4 1121.1C183.1 1120.4 185.2 1118 186.8 1116.6C188.5 1115.3 189.2 1113.6 192.2 1113.1C195.2 1112.5 200.3 1113 204.7 1113.1C209.2 1113.1 215.2 1113.7 219.1 1113.4C222.9 1113.1 225.3 1111.9 228 1111.3C230.7 1110.6 232.8 1109.5 235.2 1109.5C237.5 1109.4 239.9 1110.3 242.3 1110.9C244.7 1111.5 245.3 1112.5 249.5 1113.1C253.6 1113.6 261.4 1113.6 267.4 1113.9C273.3 1114.2 279.9 1114.8 285.3 1114.8C290.6 1114.8 295.1 1114.2 299.6 1113.9C304.1 1113.6 309.1 1113.4 312.1 1113.1C315.1 1112.8 316 1112.8 317.5 1112.2C319 1111.6 319.9 1112 321.1 1109.5C322.2 1106.9 323.6 1102 324.6 1096.9C325.7 1091.9 326.6 1085.9 327.3 1079.1C328.1 1072.2 328.5 1064.1 329.1 1055.8C329.7 1047.4 330.3 1037.9 330.9 1028.9C331.5 1020 331.9 1011.1 332.7 1002.1C333.4 993.2 334.5 985.1 335.4 975.3C336.3 965.4 337.2 952.6 338.1 943.1C338.9 933.5 339.7 925.8 340.7 918C341.8 910.2 343.1 902.5 344.3 896.5C345.5 890.6 346.7 885.5 347.9 882.2C349.1 878.9 350.3 877.9 351.5 876.8C352.7 875.8 353.9 875.8 355.1 875.9C356.2 876.1 357.4 876.1 358.6 877.7C359.8 879.4 361 881.8 362.2 885.8C363.4 889.8 364.6 895.3 365.8 901.9C367 908.5 368.2 917.1 369.4 925.2C370.6 933.2 371.9 941.9 372.9 950.2C374 958.6 374.7 966.9 375.6 975.3C376.5 983.6 377.4 992 378.3 1000.3C379.2 1008.7 380.1 1017 381 1025.4C381.9 1033.7 382.8 1042.1 383.7 1050.4C384.6 1058.8 385.5 1068 386.4 1075.5C387.3 1082.9 388 1089.5 389.1 1095.2C390.1 1100.8 391.4 1105.9 392.6 1109.5C393.8 1113.1 394.7 1115 396.2 1116.6C397.7 1118.3 399.2 1118.7 401.6 1119.3C404 1119.9 406.1 1120.2 410.5 1120.2C415 1120.2 423.4 1119.2 428.4 1119.3C433.5 1119.5 438.3 1121.3 440.9 1121.1C443.6 1121 443.3 1121.9 444.5 1118.4C445.7 1115 446.9 1108 448.1 1100.5C449.3 1093.1 450.5 1082.6 451.7 1073.7C452.9 1064.7 454.1 1054.9 455.3 1046.8C456.5 1038.8 457.6 1031.2 458.8 1025.4C460 1019.6 461.5 1014.5 462.4 1011.9C463.3 1009.4 463.3 1009.7 464.2 1010.2C465.1 1010.6 466.6 1012.1 467.8 1014.6C469 1017.2 470.2 1021.2 471.4 1025.4C472.6 1029.5 473.9 1035.2 474.9 1039.7C476 1044.2 477.2 1050.1 477.6 1052.2L477.6 1121L182.4 1121Z" fill="#164b5e" fill-opacity="0.27"/>
</g>
<path d="M510.3 789V1139.5M174.3 789V1139.5" fill="none" stroke="#686868" stroke-width="2.1"/>
<path d="M155.1 789H511.3M155.1 1121H511.3" fill="none" stroke="#363636" stroke-width="1.7"/>
<g clip-path="url(#c3)">
<path d="M181.1 1100.5C181.8 1096.1 183.8 1082.3 185.1 1073.7C186.3 1065 187.4 1057 188.6 1048.6C189.8 1040.3 191 1031.9 192.2 1023.6C193.4 1015.2 194.6 1006.9 195.8 998.5C197 990.2 198.2 981.5 199.4 973.5C200.6 965.4 201.8 957.1 202.9 950.2C204.1 943.4 205.3 937.1 206.5 932.3C207.7 927.5 208.9 924.1 210.1 921.6C211.3 919 212.6 918 213.7 917.1C214.7 916.2 215.3 916 216.4 916.2C217.4 916.4 218.6 916.9 219.9 918.4C221.3 919.8 222.8 922.2 224.4 925.2C226.1 928.1 228 932.3 229.8 935.9C231.6 939.5 233.4 943.4 235.2 946.6C236.9 949.9 238.7 952.7 240.5 955.6C242.3 958.4 244.1 960.6 245.9 963.6C247.7 966.6 249.8 970.3 251.3 973.5C252.8 976.6 253.6 978.8 254.8 982.4C256 986 257.2 990.8 258.4 994.9C259.6 999.1 260.8 1003.6 262 1007.5C263.2 1011.4 264.4 1015.1 265.6 1018.2C266.8 1021.3 267.7 1023.6 269.2 1026.3C270.6 1028.9 273 1031.5 274.5 1034.3C276 1037.1 276.9 1040 278.1 1043.3C279.3 1046.5 280.5 1050.1 281.7 1054C282.9 1057.9 284.1 1062.4 285.3 1066.5C286.5 1070.7 287.6 1074.9 288.8 1079.1C290 1083.2 291.2 1087.4 292.4 1091.6C293.6 1095.8 294.8 1100.5 296 1104.1C297.2 1107.7 298.4 1110.8 299.6 1113.1C300.8 1115.3 301.7 1116.5 303.2 1117.5C304.6 1118.5 306.7 1118.7 308.5 1119C310.3 1119.3 311.8 1119.3 313.9 1119.3C316 1119.3 318.4 1119.1 321.1 1119C323.7 1118.8 327 1118.4 330 1118.4C333 1118.4 336 1118.7 338.9 1119C341.9 1119.3 344.9 1120.2 347.9 1120.2C350.9 1120.3 353.9 1119.6 356.8 1119.3C359.8 1119 362.8 1118.5 365.8 1118.4C368.8 1118.4 371.8 1118.8 374.7 1119C377.7 1119.1 380.7 1119.3 383.7 1119.3C386.7 1119.3 389.9 1119.1 392.6 1119C395.3 1118.8 396.8 1118.4 399.8 1118.4C402.8 1118.5 405.8 1119.1 410.5 1119.3C415.3 1119.6 422.5 1119.8 428.4 1119.9C434.4 1119.9 440.4 1119.9 446.3 1119.9C452.3 1119.9 459.4 1119.9 464.2 1119.9C469 1119.8 473.2 1119.6 474.9 1119.5" fill="none" stroke="#8c774c" stroke-width="4.0" stroke-linecap="round" stroke-linejoin="round"/>
<path d="M188.6 1121.6C191.3 1121.6 199.1 1121.6 204.7 1121.6C210.4 1121.7 216.7 1121.9 222.6 1122C228.6 1122.1 234.6 1122 240.5 1122C246.5 1122 252.5 1122.1 258.4 1122C264.4 1121.9 271.2 1121.8 276.3 1121.6C281.4 1121.5 285.6 1121.6 288.8 1121.1C292.1 1120.6 293.9 1120.7 296 1118.4C298.1 1116.2 299.9 1111.3 301.4 1107.7C302.9 1104.1 303.8 1100.2 304.9 1096.9C306.1 1093.7 307.3 1091.3 308.5 1088C309.7 1084.7 310.9 1081.1 312.1 1077.3C313.3 1073.4 314.5 1069.8 315.7 1064.7C316.9 1059.7 318.1 1054 319.3 1046.8C320.5 1039.7 321.6 1030.4 322.8 1021.8C324 1013.1 325.2 1004.2 326.4 994.9C327.6 985.7 328.8 976.2 330 966.3C331.2 956.5 332.4 945.7 333.6 935.9C334.8 926.1 336 915.6 337.2 907.3C338.4 898.9 339.7 891.2 340.7 885.8C341.8 880.4 342.5 877.4 343.4 875.1C344.3 872.7 345.2 871.6 346.1 871.5C347 871.3 347.9 873 348.8 874.2C349.7 875.4 350.6 876.1 351.5 878.6C352.4 881.2 353.3 885.2 354.2 889.4C355.1 893.5 355.8 897.7 356.8 903.7C357.9 909.6 359.2 918 360.4 925.2C361.6 932.3 362.8 939.8 364 946.6C365.2 953.5 366.4 959.2 367.6 966.3C368.8 973.5 370 982.1 371.2 989.6C372.4 997 373.5 1004.2 374.7 1011.1C375.9 1017.9 377.1 1024.5 378.3 1030.7C379.5 1037 380.7 1042.7 381.9 1048.6C383.1 1054.6 384.3 1060.6 385.5 1066.5C386.7 1072.5 387.9 1078.8 389.1 1084.4C390.2 1090.1 391.4 1096.1 392.6 1100.5C393.8 1105 395 1108.6 396.2 1111.3C397.4 1113.9 398.3 1115.3 399.8 1116.6C401.3 1118 403.4 1118.7 405.2 1119.3C406.9 1119.9 408.7 1120.1 410.5 1120.2C412.3 1120.4 414.4 1120.8 415.9 1120.2C417.4 1119.6 418.3 1118.7 419.5 1116.6C420.7 1114.5 421.9 1111.3 423.1 1107.7C424.2 1104.1 425.4 1099.6 426.6 1095.2C427.8 1090.7 429 1085.6 430.2 1080.8C431.4 1076.1 432.6 1071.3 433.8 1066.5C435 1061.8 436.2 1056.4 437.4 1052.2C438.6 1048 439.8 1044.3 440.9 1041.5C442.1 1038.6 443.3 1036.7 444.5 1035.2C445.7 1033.7 446.9 1032.4 448.1 1032.5C449.3 1032.7 450.5 1034 451.7 1036.1C452.9 1038.2 454.1 1041.5 455.3 1045.1C456.5 1048.6 457.6 1052.8 458.8 1057.6C460 1062.4 461.2 1068.6 462.4 1073.7C463.6 1078.8 464.8 1083.2 466 1088C467.2 1092.8 468.4 1097.8 469.6 1102.3C470.8 1106.8 472.1 1111.9 473.2 1114.8C474.2 1117.8 475.4 1119.3 475.8 1120.2" fill="none" stroke="#8c774c" stroke-width="4.0" stroke-linecap="round" stroke-linejoin="round" stroke-dasharray="13.8 10.5"/>
<path d="M175.2 1116.6C176 1116.2 178.3 1115.1 179.7 1113.9C181 1112.8 182.1 1111.7 183.3 1109.5C184.5 1107.2 185.6 1105 186.8 1100.5C188 1096.1 189.2 1090.1 190.4 1082.6C191.6 1075.2 192.8 1065.9 194 1055.8C195.2 1045.6 196.4 1032.8 197.6 1021.8C198.8 1010.8 200 999.1 201.2 989.6C202.4 980 203.5 971.7 204.7 964.5C205.9 957.4 207.1 951 208.3 946.6C209.5 942.3 210.7 940.4 211.9 938.6C213.1 936.8 214.3 936 215.5 935.9C216.7 935.7 217.6 936.5 219.1 937.7C220.5 938.9 222.6 941 224.4 943.1C226.2 945.1 228 947.5 229.8 950.2C231.6 952.9 233.4 955.9 235.2 959.2C236.9 962.4 238.7 966 240.5 969.9C242.3 973.8 244.1 978.2 245.9 982.4C247.7 986.6 249.5 991.1 251.3 994.9C253.1 998.8 254.8 1002.1 256.6 1005.7C258.4 1009.3 260.2 1013.3 262 1016.4C263.8 1019.6 265.6 1022.1 267.4 1024.5C269.2 1026.9 271.1 1028.5 272.7 1030.7C274.4 1033 275.7 1034.9 277.2 1037.9C278.7 1040.9 280.3 1045.1 281.7 1048.6C283 1052.2 284.1 1055.8 285.3 1059.4C286.5 1062.9 287.6 1066.2 288.8 1070.1C290 1074 291.2 1078.5 292.4 1082.6C293.6 1086.8 294.8 1091.6 296 1095.2C297.2 1098.7 298.4 1101.6 299.6 1104.1C300.8 1106.6 302 1108.6 303.2 1110.4C304.4 1112.2 305.2 1113.6 306.7 1114.8C308.2 1116 310.3 1116.9 312.1 1117.5C313.9 1118.1 315.4 1118.3 317.5 1118.4C319.6 1118.5 322.2 1118.3 324.6 1118.1C327 1117.8 329.4 1117.3 331.8 1117C334.2 1116.7 336.3 1116.4 338.9 1116.3C341.6 1116.1 344.9 1116 347.9 1116.1C350.9 1116.2 353.9 1116.5 356.8 1116.6C359.8 1116.8 362.8 1117 365.8 1117.2C368.8 1117.3 371.8 1117.4 374.7 1117.5C377.7 1117.6 380.7 1117.7 383.7 1117.9C386.7 1118 389.6 1118.2 392.6 1118.4C395.6 1118.7 398.6 1119 401.6 1119.3C404.6 1119.6 408.1 1120 410.5 1120.2C412.9 1120.4 414.1 1120.7 415.9 1120.6C417.7 1120.4 419.2 1119.7 421.3 1119.3C423.4 1119 425.4 1118.4 428.4 1118.4C431.4 1118.4 435.6 1119.1 439.2 1119.3C442.7 1119.6 446.3 1119.8 449.9 1119.9C453.5 1119.9 457.6 1119.9 460.6 1119.9C463.6 1119.8 465.7 1119.7 467.8 1119.3C469.9 1118.9 471.6 1118.1 473.2 1117.5C474.7 1117 476.4 1116.3 477.1 1116.1" fill="none" stroke="#164b5e" stroke-width="4.8" stroke-linecap="round" stroke-linejoin="round"/>
<path d="M182.4 1121.1C183.1 1120.4 185.2 1118 186.8 1116.6C188.5 1115.3 189.2 1113.6 192.2 1113.1C195.2 1112.5 200.3 1113 204.7 1113.1C209.2 1113.1 215.2 1113.7 219.1 1113.4C222.9 1113.1 225.3 1111.9 228 1111.3C230.7 1110.6 232.8 1109.5 235.2 1109.5C237.5 1109.4 239.9 1110.3 242.3 1110.9C244.7 1111.5 245.3 1112.5 249.5 1113.1C253.6 1113.6 261.4 1113.6 267.4 1113.9C273.3 1114.2 279.9 1114.8 285.3 1114.8C290.6 1114.8 295.1 1114.2 299.6 1113.9C304.1 1113.6 309.1 1113.4 312.1 1113.1C315.1 1112.8 316 1112.8 317.5 1112.2C319 1111.6 319.9 1112 321.1 1109.5C322.2 1106.9 323.6 1102 324.6 1096.9C325.7 1091.9 326.6 1085.9 327.3 1079.1C328.1 1072.2 328.5 1064.1 329.1 1055.8C329.7 1047.4 330.3 1037.9 330.9 1028.9C331.5 1020 331.9 1011.1 332.7 1002.1C333.4 993.2 334.5 985.1 335.4 975.3C336.3 965.4 337.2 952.6 338.1 943.1C338.9 933.5 339.7 925.8 340.7 918C341.8 910.2 343.1 902.5 344.3 896.5C345.5 890.6 346.7 885.5 347.9 882.2C349.1 878.9 350.3 877.9 351.5 876.8C352.7 875.8 353.9 875.8 355.1 875.9C356.2 876.1 357.4 876.1 358.6 877.7C359.8 879.4 361 881.8 362.2 885.8C363.4 889.8 364.6 895.3 365.8 901.9C367 908.5 368.2 917.1 369.4 925.2C370.6 933.2 371.9 941.9 372.9 950.2C374 958.6 374.7 966.9 375.6 975.3C376.5 983.6 377.4 992 378.3 1000.3C379.2 1008.7 380.1 1017 381 1025.4C381.9 1033.7 382.8 1042.1 383.7 1050.4C384.6 1058.8 385.5 1068 386.4 1075.5C387.3 1082.9 388 1089.5 389.1 1095.2C390.1 1100.8 391.4 1105.9 392.6 1109.5C393.8 1113.1 394.7 1115 396.2 1116.6C397.7 1118.3 399.2 1118.7 401.6 1119.3C404 1119.9 406.1 1120.2 410.5 1120.2C415 1120.2 423.4 1119.2 428.4 1119.3C433.5 1119.5 438.3 1121.3 440.9 1121.1C443.6 1121 443.3 1121.9 444.5 1118.4C445.7 1115 446.9 1108 448.1 1100.5C449.3 1093.1 450.5 1082.6 451.7 1073.7C452.9 1064.7 454.1 1054.9 455.3 1046.8C456.5 1038.8 457.6 1031.2 458.8 1025.4C460 1019.6 461.5 1014.5 462.4 1011.9C463.3 1009.4 463.3 1009.7 464.2 1010.2C465.1 1010.6 466.6 1012.1 467.8 1014.6C469 1017.2 470.2 1021.2 471.4 1025.4C472.6 1029.5 473.9 1035.2 474.9 1039.7C476 1044.2 477.2 1050.1 477.6 1052.2" fill="none" stroke="#164b5e" stroke-width="4.8" stroke-linecap="round" stroke-linejoin="round" stroke-dasharray="13.8 10.5"/>
</g>
<text font-size="27.3" text-anchor="end" transform="translate(149.2 797.6) scale(1 1.05)">500</text>
<text font-size="27.3" text-anchor="end" transform="translate(149.2 1129.6) scale(1 1.05)">0</text>
<text font-size="27.3" text-anchor="middle" transform="translate(174.3 1168.9) scale(1 1.05)">0</text>
<text font-size="27.3" text-anchor="middle" transform="translate(510.3 1168.9) scale(1 1.05)">900</text>
<text font-size="26.1" text-anchor="middle" transform="translate(343.4 1168.9) scale(1 1.1)">Time (ms)</text>
<text font-size="25.9" text-anchor="middle" transform="translate(134.4 954) rotate(-90) scale(1 1.1)">Flow (ml/s)</text>
</g>
<text x="230.7" y="845.4" font-size="26.5" font-weight="bold" fill="#8c774c" text-anchor="middle">58ml</text>
<text x="230.7" y="821.7" font-size="26.5" font-weight="bold" fill="#164b5e" text-anchor="middle">56ml</text>
<text x="349.2" y="848.3" font-size="26.5" font-weight="bold" fill="#8c774c" text-anchor="middle">44ml</text>
<text x="349.2" y="821.7" font-size="26.5" font-weight="bold" fill="#164b5e" text-anchor="middle">43ml</text>
<text x="471.4" y="848.3" font-size="26.5" font-weight="bold" fill="#8c774c" text-anchor="middle">12ml</text>
<text x="470.1" y="821.7" font-size="26.5" font-weight="bold" fill="#164b5e" text-anchor="middle">9ml</text>
<g>
<clipPath id="c4"><rect x="595" y="798.4" width="340.6" height="333.6"/></clipPath>
<g clip-path="url(#c4)">
<path d="M603 1055.2C603.6 1050.6 605 1040 606.2 1027.6C607.5 1015.2 609 995.8 610.5 980.9C611.9 966.1 613.3 951.6 614.7 938.5C616.1 925.4 617.5 913.7 618.9 902.4C620.4 891.1 621.8 880.2 623.2 870.6C624.6 861.1 626.2 851.3 627.4 845.2C628.7 839 629.5 836 630.6 833.5C631.7 831 632.7 830.3 633.8 830.3C634.9 830.3 635.9 831.4 637 833.5C638 835.6 638.9 839.3 640.2 843C641.4 846.7 643 852.2 644.4 855.8C645.8 859.3 647.2 862 648.6 864.2C650.1 866.5 651.5 867.8 652.9 869.6C654.3 871.3 655.7 872.9 657.1 874.9C658.5 876.8 660 878.7 661.4 881.2C662.8 883.7 664.2 886.9 665.6 889.7C667 892.5 668.4 895.5 669.9 898.2C671.3 900.8 672.7 903.5 674.1 905.6C675.5 907.7 676.9 909 678.3 910.9C679.8 912.9 681.2 914.8 682.6 917.3C684 919.8 685.4 922.2 686.8 925.8C688.2 929.3 689.7 933.2 691.1 938.5C692.5 943.8 693.9 950.9 695.3 957.6C696.7 964.3 698.1 971.4 699.6 978.8C701 986.2 702.4 994.4 703.8 1002.1C705.2 1009.9 706.6 1017.7 708 1025.5C709.5 1033.3 710.9 1041.4 712.3 1048.8C713.7 1056.2 715.1 1063.7 716.5 1070C717.9 1076.4 719.4 1082.4 720.8 1087C722.2 1091.6 723.6 1095.1 725 1097.6C726.4 1100.1 727.8 1101.1 729.3 1101.8C730.7 1102.6 732.1 1102 733.5 1101.8C734.9 1101.7 736.3 1101.3 737.7 1100.8C739.2 1100.3 740.6 1099.4 742 1098.7C743.4 1098 744.8 1097.1 746.2 1096.5C747.6 1096 749.1 1095.6 750.5 1095.5C751.9 1095.4 753.3 1095.4 754.7 1095.9C756.1 1096.4 757.5 1097.3 759 1098.7C760.4 1100 761.8 1102.2 763.2 1104C764.6 1105.7 766 1107.7 767.4 1109.3C768.9 1110.9 770.3 1112.5 771.7 1113.5C773.1 1114.6 774.5 1115.3 775.9 1115.6C777.3 1116 778.8 1116 780.2 1115.6C781.6 1115.3 783 1114.6 784.4 1113.5C785.8 1112.5 787.2 1110.4 788.7 1109.3C790.1 1108.1 791.5 1107 792.9 1106.5C794.3 1106 795.7 1106 797.1 1106.1C798.6 1106.2 800 1106.4 801.4 1107.1C802.8 1107.9 804.2 1109.4 805.6 1110.3C807 1111.2 808.5 1111.9 809.9 1112.5C811.3 1113 812.7 1113.5 814.1 1113.5C815.5 1113.5 816.9 1113 818.4 1112.5C819.8 1111.9 821.2 1110.9 822.6 1110.3C824 1109.8 825.4 1109.3 826.8 1109.3C828.3 1109.3 829.7 1110 831.1 1110.3C832.5 1110.7 833.9 1111.1 835.3 1111.4C836.7 1111.7 837.8 1111.9 839.6 1112C841.3 1112.2 843.8 1112.3 845.9 1112.5C848.1 1112.6 850.2 1112.7 852.3 1112.9C854.4 1113.1 856.5 1113.6 858.7 1113.5C860.8 1113.4 863.3 1113.2 865 1112.5C866.8 1111.7 867.9 1110.3 869.3 1109.3C870.7 1108.2 872.1 1107 873.5 1106.1C874.9 1105.1 876.3 1104.2 877.8 1103.5C879.2 1102.9 880.6 1102.4 882 1102.3C883.4 1102.2 884.8 1102.3 886.2 1102.9C887.7 1103.5 889.1 1104.8 890.5 1106.1C891.9 1107.3 893.7 1109.3 894.7 1110.3C895.8 1111.4 896.5 1112.1 896.8 1112.5L896.8 1130L603 1130Z" fill="#8c774c" fill-opacity="0.29"/>
<path d="M597.7 1098.7C598.8 1099.5 602 1102.4 604.1 1104C606.2 1105.6 608.3 1107 610.5 1108.2C612.6 1109.4 614.7 1110.6 616.8 1111.4C618.9 1112.2 620.7 1112.5 623.2 1112.9C625.7 1113.2 628.8 1113.5 631.7 1113.5C634.5 1113.5 637.3 1113.1 640.2 1112.9C643 1112.6 645.8 1112.1 648.6 1112C651.5 1112 654.3 1112.2 657.1 1112.5C660 1112.7 662.8 1113.2 665.6 1113.5C668.4 1113.9 671.3 1114.5 674.1 1114.6C676.9 1114.7 679.8 1114.4 682.6 1114.1C685.4 1113.9 688.2 1113.2 691.1 1112.9C693.9 1112.6 696.7 1112.6 699.6 1112.5C702.4 1112.3 705.6 1112.4 708 1112C710.5 1111.7 712.3 1111.3 714.4 1110.3C716.5 1109.3 718.6 1108.2 720.8 1106.1C722.9 1104 725.4 1100.8 727.1 1097.6C728.9 1094.4 730 1090.5 731.4 1087C732.8 1083.5 734.2 1080.3 735.6 1076.4C737 1072.5 738.4 1068.3 739.9 1063.7C741.3 1059.1 742.7 1054.5 744.1 1048.8C745.5 1043.2 746.9 1036.1 748.3 1029.7C749.8 1023.4 751.2 1017 752.6 1010.6C754 1004.3 755.4 997.2 756.8 991.5C758.2 985.9 759.7 980.9 761.1 976.7C762.5 972.4 763.9 968.5 765.3 966.1C766.7 963.7 768.1 962.4 769.6 962.3C771 962.1 772.6 963 773.8 965C775 967.1 775.9 971.6 777 974.6C778 977.6 778.9 979.5 780.2 983C781.4 986.6 783 991.5 784.4 995.8C785.8 1000 787.2 1004.3 788.7 1008.5C790.1 1012.7 791.5 1017 792.9 1021.2C794.3 1025.5 795.7 1029.4 797.1 1034C798.6 1038.6 800 1044.2 801.4 1048.8C802.8 1053.4 804.2 1057.3 805.6 1061.5C807 1065.8 808.5 1070 809.9 1074.3C811.3 1078.5 812.7 1083.1 814.1 1087C815.5 1090.9 816.9 1094.8 818.4 1097.6C819.8 1100.4 821.2 1102.4 822.6 1104C824 1105.6 825.4 1106.4 826.8 1107.1C828.3 1107.9 829.7 1108 831.1 1108.2C832.5 1108.4 833.9 1108.4 835.3 1108.2C836.7 1108 838.2 1107.9 839.6 1107.1C841 1106.4 842.4 1105.6 843.8 1104C845.2 1102.4 846.6 1100.1 848.1 1097.6C849.5 1095.1 850.9 1092.3 852.3 1089.1C853.7 1085.9 855.1 1082 856.5 1078.5C858 1075 859.4 1070.7 860.8 1067.9C862.2 1065.1 863.4 1063 865 1061.5C866.6 1060.1 868.7 1059.2 870.3 1059C871.9 1058.8 873.2 1059.3 874.6 1060.5C876 1061.6 877.4 1063.5 878.8 1065.8C880.2 1068.1 881.6 1071.1 883.1 1074.3C884.5 1077.4 885.9 1081.3 887.3 1084.9C888.7 1088.4 890.1 1091.9 891.5 1095.5C893 1099 894.9 1103.6 895.8 1106.1C896.7 1108.6 896.7 1109.6 896.8 1110.3L896.8 1130L597.7 1130Z" fill="#8c774c" fill-opacity="0.29"/>
<path d="M597.7 1091.2C598.3 1091.8 599.8 1093.4 600.9 1094.4C602 1095.5 603 1097.4 604.1 1097.6C605.2 1097.8 606.2 1097.2 607.3 1095.5C608.3 1093.7 609.4 1091.9 610.5 1087C611.5 1082 612.6 1075.7 613.6 1065.8C614.7 1055.9 615.8 1042.4 616.8 1027.6C617.9 1012.7 618.9 994.4 620 976.7C621.1 959 622.1 939.2 623.2 921.5C624.2 903.8 625.3 885.5 626.4 870.6C627.4 855.8 628.6 842 629.5 832.4C630.5 822.9 631.2 817.4 632.1 813.3C633 809.3 633.9 808 634.9 808C635.8 808 636.7 810.7 637.6 813.3C638.5 816 639.2 820.1 640.2 823.9C641.1 827.8 642.3 832.8 643.3 836.7C644.4 840.6 645.3 843.7 646.5 847.3C647.8 850.8 649.3 854.5 650.8 857.9C652.2 861.2 653.6 864.2 655 867.4C656.4 870.6 657.8 873.6 659.2 877C660.7 880.3 662.1 883.7 663.5 887.6C664.9 891.5 666.3 896.4 667.7 900.3C669.1 904.2 670.6 907.7 672 910.9C673.4 914.1 674.8 916.9 676.2 919.4C677.6 921.9 679 923.6 680.5 925.8C681.9 927.9 683.3 929.7 684.7 932.1C686.1 934.6 687.5 937.1 688.9 940.6C690.4 944.2 691.8 948.8 693.2 953.3C694.6 957.9 696 963.2 697.4 968.2C698.8 973.1 700.3 978.1 701.7 983C703.1 988 704.5 993.3 705.9 997.9C707.3 1002.5 708.7 1006.4 710.2 1010.6C711.6 1014.9 713 1019.1 714.4 1023.4C715.8 1027.6 717.2 1031.8 718.6 1036.1C720.1 1040.3 721.5 1044.9 722.9 1048.8C724.3 1052.7 725.7 1056.2 727.1 1059.4C728.5 1062.6 730 1065.4 731.4 1067.9C732.8 1070.4 734.2 1072.5 735.6 1074.3C737 1076 738.4 1077.3 739.9 1078.5C741.3 1079.7 742.7 1080.6 744.1 1081.7C745.5 1082.8 746.9 1083.8 748.3 1084.9C749.8 1085.9 751.2 1087.2 752.6 1088.1C754 1088.9 755.4 1089.6 756.8 1090.2C758.2 1090.8 759.7 1091.3 761.1 1091.7C762.5 1092 763.9 1092.4 765.3 1092.3C766.7 1092.2 768.1 1091.6 769.6 1091.2C771 1090.9 772.4 1090.4 773.8 1090.2C775.2 1090 776.6 1089.8 778 1090.2C779.5 1090.5 780.9 1091.2 782.3 1092.3C783.7 1093.4 785.1 1095.3 786.5 1096.5C787.9 1097.8 789.4 1098.8 790.8 1099.7C792.2 1100.6 793.6 1101.3 795 1101.8C796.4 1102.4 797.8 1102.6 799.3 1102.9C800.7 1103.2 802.1 1103.4 803.5 1103.5C804.9 1103.7 806.3 1103.6 807.7 1104C809.2 1104.3 810.6 1105 812 1105.7C813.4 1106.4 814.8 1107.4 816.2 1108.2C817.6 1109 819.1 1109.7 820.5 1110.3C821.9 1111 823.3 1111.5 824.7 1112C826.1 1112.6 827.5 1113.2 829 1113.5C830.4 1113.9 831.4 1114 833.2 1114.1C835 1114.3 837.4 1114.6 839.6 1114.6C841.7 1114.6 843.8 1114.3 845.9 1114.1C848.1 1114 850.2 1113.6 852.3 1113.5C854.4 1113.4 856.5 1113.3 858.7 1113.5C860.8 1113.7 862.9 1114 865 1114.6C867.1 1115.1 869.4 1116.1 871.4 1116.7C873.3 1117.3 875.1 1118.2 876.7 1118.4C878.3 1118.6 879.5 1118.4 880.9 1117.8C882.3 1117.1 883.8 1116.2 885.2 1114.6C886.6 1113 888 1110.7 889.4 1108.2C890.8 1105.7 892.2 1102.6 893.7 1099.7C895.1 1096.9 896.8 1093 897.9 1091.2C899 1089.5 899.7 1089.5 900 1089.1L900 1130L597.7 1130Z" fill="#164b5e" fill-opacity="0.27"/>
<path d="M597.7 1099.7C599.1 1099.8 603.4 1100.1 606.2 1100.1C609 1100.2 611.9 1100 614.7 1100.1C617.5 1100.3 620.7 1100.3 623.2 1100.8C625.7 1101.2 627.4 1102 629.5 1102.9C631.7 1103.8 633.8 1105.4 635.9 1106.1C638 1106.8 640.5 1107.5 642.3 1107.1C644 1106.8 645.1 1105.4 646.5 1104C647.9 1102.6 649.3 1100.3 650.8 1098.7C652.2 1097.1 653.6 1095.3 655 1094.4C656.4 1093.5 657.8 1093.4 659.2 1093.4C660.7 1093.4 662.1 1093.9 663.5 1094.4C664.9 1094.9 666 1095.7 667.7 1096.5C669.5 1097.4 671.6 1098.6 674.1 1099.3C676.6 1100 679.8 1100.4 682.6 1100.8C685.4 1101.2 688.2 1101.5 691.1 1101.8C693.9 1102.2 696.7 1102.6 699.6 1102.9C702.4 1103.2 705.6 1103.7 708 1103.5C710.5 1103.4 712.3 1102.4 714.4 1101.8C716.5 1101.3 718.6 1100.1 720.8 1100.1C722.9 1100.1 725 1101 727.1 1101.8C729.3 1102.7 731.7 1104.5 733.5 1105C735.3 1105.6 736.3 1105.6 737.7 1105C739.2 1104.5 740.6 1103.8 742 1101.8C743.4 1099.9 745 1096.5 746.2 1093.4C747.5 1090.2 748.3 1087.3 749.4 1082.8C750.5 1078.2 751.5 1072.1 752.6 1065.8C753.7 1059.4 754.7 1051.6 755.8 1044.6C756.8 1037.5 757.9 1029.7 759 1023.4C760 1017 761.1 1011.3 762.1 1006.4C763.2 1001.4 764.1 997.2 765.3 993.7C766.6 990.1 768.1 987.1 769.6 985.2C771 983.2 772.4 982.3 773.8 982C775.2 981.6 776.6 982.2 778 983C779.5 983.9 780.9 985.5 782.3 987.3C783.7 989.1 785.1 991.2 786.5 993.7C787.9 996.1 789.4 998.6 790.8 1002.1C792.2 1005.7 793.6 1010.3 795 1014.9C796.4 1019.5 797.8 1024.8 799.3 1029.7C800.7 1034.7 802.1 1039.6 803.5 1044.6C804.9 1049.5 806.3 1054.5 807.7 1059.4C809.2 1064.4 810.6 1069.3 812 1074.3C813.4 1079.2 814.8 1085.1 816.2 1089.1C817.6 1093.2 819.1 1096.4 820.5 1098.7C821.9 1101 823.3 1102.2 824.7 1102.9C826.1 1103.6 827.5 1103.3 829 1102.9C830.4 1102.6 831.8 1101.7 833.2 1100.8C834.6 1099.9 836 1098.5 837.4 1097.6C838.9 1096.7 840.3 1095.9 841.7 1095.5C843.1 1095.1 844.5 1094.9 845.9 1095.1C847.3 1095.2 848.8 1095.6 850.2 1096.5C851.6 1097.5 853 1099.4 854.4 1100.8C855.8 1102.2 857.2 1104 858.7 1105C860.1 1106.1 861.5 1107.3 862.9 1107.1C864.3 1107 865.7 1106.3 867.1 1104C868.6 1101.7 870 1098.7 871.4 1093.4C872.8 1088.1 874.4 1078.5 875.6 1072.1C876.9 1065.8 877.8 1060.1 878.8 1055.2C879.9 1050.2 880.9 1045.5 882 1042.4C883.1 1039.4 884.1 1038 885.2 1037.1C886.2 1036.3 887.3 1036.4 888.4 1037.1C889.4 1037.8 890.5 1039.4 891.5 1041.4C892.6 1043.3 893.7 1045.8 894.7 1048.8C895.8 1051.8 897 1056.2 897.9 1059.4C898.8 1062.6 899.7 1066.5 900 1067.9L900 1130L597.7 1130Z" fill="#164b5e" fill-opacity="0.27"/>
</g>
<path d="M933.6 798.4V1148.5M597 798.4V1148.5" fill="none" stroke="#686868" stroke-width="2.1"/>
<path d="M577.8 798.4H934.6M577.8 1130H934.6" fill="none" stroke="#363636" stroke-width="1.7"/>
<path d="M597 1130H900" stroke="#0d0d0d" stroke-width="1.9"/>
<path d="M587 965H597" stroke="#363636" stroke-width="1.7"/>
<g clip-path="url(#c4)">
<path d="M603 1055.2C603.6 1050.6 605 1040 606.2 1027.6C607.5 1015.2 609 995.8 610.5 980.9C611.9 966.1 613.3 951.6 614.7 938.5C616.1 925.4 617.5 913.7 618.9 902.4C620.4 891.1 621.8 880.2 623.2 870.6C624.6 861.1 626.2 851.3 627.4 845.2C628.7 839 629.5 836 630.6 833.5C631.7 831 632.7 830.3 633.8 830.3C634.9 830.3 635.9 831.4 637 833.5C638 835.6 638.9 839.3 640.2 843C641.4 846.7 643 852.2 644.4 855.8C645.8 859.3 647.2 862 648.6 864.2C650.1 866.5 651.5 867.8 652.9 869.6C654.3 871.3 655.7 872.9 657.1 874.9C658.5 876.8 660 878.7 661.4 881.2C662.8 883.7 664.2 886.9 665.6 889.7C667 892.5 668.4 895.5 669.9 898.2C671.3 900.8 672.7 903.5 674.1 905.6C675.5 907.7 676.9 909 678.3 910.9C679.8 912.9 681.2 914.8 682.6 917.3C684 919.8 685.4 922.2 686.8 925.8C688.2 929.3 689.7 933.2 691.1 938.5C692.5 943.8 693.9 950.9 695.3 957.6C696.7 964.3 698.1 971.4 699.6 978.8C701 986.2 702.4 994.4 703.8 1002.1C705.2 1009.9 706.6 1017.7 708 1025.5C709.5 1033.3 710.9 1041.4 712.3 1048.8C713.7 1056.2 715.1 1063.7 716.5 1070C717.9 1076.4 719.4 1082.4 720.8 1087C722.2 1091.6 723.6 1095.1 725 1097.6C726.4 1100.1 727.8 1101.1 729.3 1101.8C730.7 1102.6 732.1 1102 733.5 1101.8C734.9 1101.7 736.3 1101.3 737.7 1100.8C739.2 1100.3 740.6 1099.4 742 1098.7C743.4 1098 744.8 1097.1 746.2 1096.5C747.6 1096 749.1 1095.6 750.5 1095.5C751.9 1095.4 753.3 1095.4 754.7 1095.9C756.1 1096.4 757.5 1097.3 759 1098.7C760.4 1100 761.8 1102.2 763.2 1104C764.6 1105.7 766 1107.7 767.4 1109.3C768.9 1110.9 770.3 1112.5 771.7 1113.5C773.1 1114.6 774.5 1115.3 775.9 1115.6C777.3 1116 778.8 1116 780.2 1115.6C781.6 1115.3 783 1114.6 784.4 1113.5C785.8 1112.5 787.2 1110.4 788.7 1109.3C790.1 1108.1 791.5 1107 792.9 1106.5C794.3 1106 795.7 1106 797.1 1106.1C798.6 1106.2 800 1106.4 801.4 1107.1C802.8 1107.9 804.2 1109.4 805.6 1110.3C807 1111.2 808.5 1111.9 809.9 1112.5C811.3 1113 812.7 1113.5 814.1 1113.5C815.5 1113.5 816.9 1113 818.4 1112.5C819.8 1111.9 821.2 1110.9 822.6 1110.3C824 1109.8 825.4 1109.3 826.8 1109.3C828.3 1109.3 829.7 1110 831.1 1110.3C832.5 1110.7 833.9 1111.1 835.3 1111.4C836.7 1111.7 837.8 1111.9 839.6 1112C841.3 1112.2 843.8 1112.3 845.9 1112.5C848.1 1112.6 850.2 1112.7 852.3 1112.9C854.4 1113.1 856.5 1113.6 858.7 1113.5C860.8 1113.4 863.3 1113.2 865 1112.5C866.8 1111.7 867.9 1110.3 869.3 1109.3C870.7 1108.2 872.1 1107 873.5 1106.1C874.9 1105.1 876.3 1104.2 877.8 1103.5C879.2 1102.9 880.6 1102.4 882 1102.3C883.4 1102.2 884.8 1102.3 886.2 1102.9C887.7 1103.5 889.1 1104.8 890.5 1106.1C891.9 1107.3 893.7 1109.3 894.7 1110.3C895.8 1111.4 896.5 1112.1 896.8 1112.5" fill="none" stroke="#8c774c" stroke-width="4.0" stroke-linecap="round" stroke-linejoin="round"/>
<path d="M597.7 1098.7C598.8 1099.5 602 1102.4 604.1 1104C606.2 1105.6 608.3 1107 610.5 1108.2C612.6 1109.4 614.7 1110.6 616.8 1111.4C618.9 1112.2 620.7 1112.5 623.2 1112.9C625.7 1113.2 628.8 1113.5 631.7 1113.5C634.5 1113.5 637.3 1113.1 640.2 1112.9C643 1112.6 645.8 1112.1 648.6 1112C651.5 1112 654.3 1112.2 657.1 1112.5C660 1112.7 662.8 1113.2 665.6 1113.5C668.4 1113.9 671.3 1114.5 674.1 1114.6C676.9 1114.7 679.8 1114.4 682.6 1114.1C685.4 1113.9 688.2 1113.2 691.1 1112.9C693.9 1112.6 696.7 1112.6 699.6 1112.5C702.4 1112.3 705.6 1112.4 708 1112C710.5 1111.7 712.3 1111.3 714.4 1110.3C716.5 1109.3 718.6 1108.2 720.8 1106.1C722.9 1104 725.4 1100.8 727.1 1097.6C728.9 1094.4 730 1090.5 731.4 1087C732.8 1083.5 734.2 1080.3 735.6 1076.4C737 1072.5 738.4 1068.3 739.9 1063.7C741.3 1059.1 742.7 1054.5 744.1 1048.8C745.5 1043.2 746.9 1036.1 748.3 1029.7C749.8 1023.4 751.2 1017 752.6 1010.6C754 1004.3 755.4 997.2 756.8 991.5C758.2 985.9 759.7 980.9 761.1 976.7C762.5 972.4 763.9 968.5 765.3 966.1C766.7 963.7 768.1 962.4 769.6 962.3C771 962.1 772.6 963 773.8 965C775 967.1 775.9 971.6 777 974.6C778 977.6 778.9 979.5 780.2 983C781.4 986.6 783 991.5 784.4 995.8C785.8 1000 787.2 1004.3 788.7 1008.5C790.1 1012.7 791.5 1017 792.9 1021.2C794.3 1025.5 795.7 1029.4 797.1 1034C798.6 1038.6 800 1044.2 801.4 1048.8C802.8 1053.4 804.2 1057.3 805.6 1061.5C807 1065.8 808.5 1070 809.9 1074.3C811.3 1078.5 812.7 1083.1 814.1 1087C815.5 1090.9 816.9 1094.8 818.4 1097.6C819.8 1100.4 821.2 1102.4 822.6 1104C824 1105.6 825.4 1106.4 826.8 1107.1C828.3 1107.9 829.7 1108 831.1 1108.2C832.5 1108.4 833.9 1108.4 835.3 1108.2C836.7 1108 838.2 1107.9 839.6 1107.1C841 1106.4 842.4 1105.6 843.8 1104C845.2 1102.4 846.6 1100.1 848.1 1097.6C849.5 1095.1 850.9 1092.3 852.3 1089.1C853.7 1085.9 855.1 1082 856.5 1078.5C858 1075 859.4 1070.7 860.8 1067.9C862.2 1065.1 863.4 1063 865 1061.5C866.6 1060.1 868.7 1059.2 870.3 1059C871.9 1058.8 873.2 1059.3 874.6 1060.5C876 1061.6 877.4 1063.5 878.8 1065.8C880.2 1068.1 881.6 1071.1 883.1 1074.3C884.5 1077.4 885.9 1081.3 887.3 1084.9C888.7 1088.4 890.1 1091.9 891.5 1095.5C893 1099 894.9 1103.6 895.8 1106.1C896.7 1108.6 896.7 1109.6 896.8 1110.3" fill="none" stroke="#8c774c" stroke-width="4.0" stroke-linecap="round" stroke-linejoin="round" stroke-dasharray="13.8 10.5"/>
<path d="M597.7 1091.2C598.3 1091.8 599.8 1093.4 600.9 1094.4C602 1095.5 603 1097.4 604.1 1097.6C605.2 1097.8 606.2 1097.2 607.3 1095.5C608.3 1093.7 609.4 1091.9 610.5 1087C611.5 1082 612.6 1075.7 613.6 1065.8C614.7 1055.9 615.8 1042.4 616.8 1027.6C617.9 1012.7 618.9 994.4 620 976.7C621.1 959 622.1 939.2 623.2 921.5C624.2 903.8 625.3 885.5 626.4 870.6C627.4 855.8 628.6 842 629.5 832.4C630.5 822.9 631.2 817.4 632.1 813.3C633 809.3 633.9 808 634.9 808C635.8 808 636.7 810.7 637.6 813.3C638.5 816 639.2 820.1 640.2 823.9C641.1 827.8 642.3 832.8 643.3 836.7C644.4 840.6 645.3 843.7 646.5 847.3C647.8 850.8 649.3 854.5 650.8 857.9C652.2 861.2 653.6 864.2 655 867.4C656.4 870.6 657.8 873.6 659.2 877C660.7 880.3 662.1 883.7 663.5 887.6C664.9 891.5 666.3 896.4 667.7 900.3C669.1 904.2 670.6 907.7 672 910.9C673.4 914.1 674.8 916.9 676.2 919.4C677.6 921.9 679 923.6 680.5 925.8C681.9 927.9 683.3 929.7 684.7 932.1C686.1 934.6 687.5 937.1 688.9 940.6C690.4 944.2 691.8 948.8 693.2 953.3C694.6 957.9 696 963.2 697.4 968.2C698.8 973.1 700.3 978.1 701.7 983C703.1 988 704.5 993.3 705.9 997.9C707.3 1002.5 708.7 1006.4 710.2 1010.6C711.6 1014.9 713 1019.1 714.4 1023.4C715.8 1027.6 717.2 1031.8 718.6 1036.1C720.1 1040.3 721.5 1044.9 722.9 1048.8C724.3 1052.7 725.7 1056.2 727.1 1059.4C728.5 1062.6 730 1065.4 731.4 1067.9C732.8 1070.4 734.2 1072.5 735.6 1074.3C737 1076 738.4 1077.3 739.9 1078.5C741.3 1079.7 742.7 1080.6 744.1 1081.7C745.5 1082.8 746.9 1083.8 748.3 1084.9C749.8 1085.9 751.2 1087.2 752.6 1088.1C754 1088.9 755.4 1089.6 756.8 1090.2C758.2 1090.8 759.7 1091.3 761.1 1091.7C762.5 1092 763.9 1092.4 765.3 1092.3C766.7 1092.2 768.1 1091.6 769.6 1091.2C771 1090.9 772.4 1090.4 773.8 1090.2C775.2 1090 776.6 1089.8 778 1090.2C779.5 1090.5 780.9 1091.2 782.3 1092.3C783.7 1093.4 785.1 1095.3 786.5 1096.5C787.9 1097.8 789.4 1098.8 790.8 1099.7C792.2 1100.6 793.6 1101.3 795 1101.8C796.4 1102.4 797.8 1102.6 799.3 1102.9C800.7 1103.2 802.1 1103.4 803.5 1103.5C804.9 1103.7 806.3 1103.6 807.7 1104C809.2 1104.3 810.6 1105 812 1105.7C813.4 1106.4 814.8 1107.4 816.2 1108.2C817.6 1109 819.1 1109.7 820.5 1110.3C821.9 1111 823.3 1111.5 824.7 1112C826.1 1112.6 827.5 1113.2 829 1113.5C830.4 1113.9 831.4 1114 833.2 1114.1C835 1114.3 837.4 1114.6 839.6 1114.6C841.7 1114.6 843.8 1114.3 845.9 1114.1C848.1 1114 850.2 1113.6 852.3 1113.5C854.4 1113.4 856.5 1113.3 858.7 1113.5C860.8 1113.7 862.9 1114 865 1114.6C867.1 1115.1 869.4 1116.1 871.4 1116.7C873.3 1117.3 875.1 1118.2 876.7 1118.4C878.3 1118.6 879.5 1118.4 880.9 1117.8C882.3 1117.1 883.8 1116.2 885.2 1114.6C886.6 1113 888 1110.7 889.4 1108.2C890.8 1105.7 892.2 1102.6 893.7 1099.7C895.1 1096.9 896.8 1093 897.9 1091.2C899 1089.5 899.7 1089.5 900 1089.1" fill="none" stroke="#164b5e" stroke-width="4.8" stroke-linecap="round" stroke-linejoin="round"/>
<path d="M597.7 1099.7C599.1 1099.8 603.4 1100.1 606.2 1100.1C609 1100.2 611.9 1100 614.7 1100.1C617.5 1100.3 620.7 1100.3 623.2 1100.8C625.7 1101.2 627.4 1102 629.5 1102.9C631.7 1103.8 633.8 1105.4 635.9 1106.1C638 1106.8 640.5 1107.5 642.3 1107.1C644 1106.8 645.1 1105.4 646.5 1104C647.9 1102.6 649.3 1100.3 650.8 1098.7C652.2 1097.1 653.6 1095.3 655 1094.4C656.4 1093.5 657.8 1093.4 659.2 1093.4C660.7 1093.4 662.1 1093.9 663.5 1094.4C664.9 1094.9 666 1095.7 667.7 1096.5C669.5 1097.4 671.6 1098.6 674.1 1099.3C676.6 1100 679.8 1100.4 682.6 1100.8C685.4 1101.2 688.2 1101.5 691.1 1101.8C693.9 1102.2 696.7 1102.6 699.6 1102.9C702.4 1103.2 705.6 1103.7 708 1103.5C710.5 1103.4 712.3 1102.4 714.4 1101.8C716.5 1101.3 718.6 1100.1 720.8 1100.1C722.9 1100.1 725 1101 727.1 1101.8C729.3 1102.7 731.7 1104.5 733.5 1105C735.3 1105.6 736.3 1105.6 737.7 1105C739.2 1104.5 740.6 1103.8 742 1101.8C743.4 1099.9 745 1096.5 746.2 1093.4C747.5 1090.2 748.3 1087.3 749.4 1082.8C750.5 1078.2 751.5 1072.1 752.6 1065.8C753.7 1059.4 754.7 1051.6 755.8 1044.6C756.8 1037.5 757.9 1029.7 759 1023.4C760 1017 761.1 1011.3 762.1 1006.4C763.2 1001.4 764.1 997.2 765.3 993.7C766.6 990.1 768.1 987.1 769.6 985.2C771 983.2 772.4 982.3 773.8 982C775.2 981.6 776.6 982.2 778 983C779.5 983.9 780.9 985.5 782.3 987.3C783.7 989.1 785.1 991.2 786.5 993.7C787.9 996.1 789.4 998.6 790.8 1002.1C792.2 1005.7 793.6 1010.3 795 1014.9C796.4 1019.5 797.8 1024.8 799.3 1029.7C800.7 1034.7 802.1 1039.6 803.5 1044.6C804.9 1049.5 806.3 1054.5 807.7 1059.4C809.2 1064.4 810.6 1069.3 812 1074.3C813.4 1079.2 814.8 1085.1 816.2 1089.1C817.6 1093.2 819.1 1096.4 820.5 1098.7C821.9 1101 823.3 1102.2 824.7 1102.9C826.1 1103.6 827.5 1103.3 829 1102.9C830.4 1102.6 831.8 1101.7 833.2 1100.8C834.6 1099.9 836 1098.5 837.4 1097.6C838.9 1096.7 840.3 1095.9 841.7 1095.5C843.1 1095.1 844.5 1094.9 845.9 1095.1C847.3 1095.2 848.8 1095.6 850.2 1096.5C851.6 1097.5 853 1099.4 854.4 1100.8C855.8 1102.2 857.2 1104 858.7 1105C860.1 1106.1 861.5 1107.3 862.9 1107.1C864.3 1107 865.7 1106.3 867.1 1104C868.6 1101.7 870 1098.7 871.4 1093.4C872.8 1088.1 874.4 1078.5 875.6 1072.1C876.9 1065.8 877.8 1060.1 878.8 1055.2C879.9 1050.2 880.9 1045.5 882 1042.4C883.1 1039.4 884.1 1038 885.2 1037.1C886.2 1036.3 887.3 1036.4 888.4 1037.1C889.4 1037.8 890.5 1039.4 891.5 1041.4C892.6 1043.3 893.7 1045.8 894.7 1048.8C895.8 1051.8 897 1056.2 897.9 1059.4C898.8 1062.6 899.7 1066.5 900 1067.9" fill="none" stroke="#164b5e" stroke-width="4.8" stroke-linecap="round" stroke-linejoin="round" stroke-dasharray="13.8 10.5"/>
</g>
<text font-size="27.3" text-anchor="end" transform="translate(572.4 807) scale(1 1.05)">150</text>
<text font-size="27.3" text-anchor="end" transform="translate(572.4 1138.6) scale(1 1.05)">0</text>
<text font-size="27.3" text-anchor="middle" transform="translate(597 1178.5) scale(1 1.05)">0</text>
<text font-size="27.3" text-anchor="middle" transform="translate(933.6 1178.5) scale(1 1.05)">900</text>
<text font-size="26.1" text-anchor="middle" transform="translate(766.2 1178.5) scale(1 1.1)">Time (ms)</text>
<text font-size="25.9" text-anchor="middle" transform="translate(560.3 965) rotate(-90) scale(1 1.1)">Velocity (cm/s)</text>
</g>
<g>
<clipPath id="c5"><rect x="180.6" y="1264.2" width="340.9" height="334.1"/></clipPath>
<g clip-path="url(#c5)">
<path d="M189.3 1570.7C189.8 1570.5 191.4 1570.2 192.4 1569.8C193.3 1569.3 194.2 1569.5 195.1 1568C195.9 1566.5 196.8 1564.1 197.7 1560.8C198.6 1557.6 199.5 1554 200.4 1548.3C201.3 1542.6 202.2 1534.6 203.1 1526.8C204 1519.1 204.9 1511 205.8 1501.8C206.7 1492.5 207.6 1482.1 208.5 1471.4C209.4 1460.6 210.3 1448.1 211.2 1437.4C212.1 1426.6 212.9 1415.6 213.8 1406.9C214.7 1398.3 215.6 1391.1 216.5 1385.5C217.4 1379.8 218.3 1375.9 219.2 1372.9C220.1 1370 221 1368.6 221.9 1367.6C222.8 1366.5 223.7 1365.5 224.6 1366.7C225.5 1367.9 226.2 1370.7 227.3 1374.7C228.3 1378.8 229.6 1385.5 230.8 1390.8C232 1396.2 233.2 1401.6 234.4 1406.9C235.6 1412.3 236.8 1418 238 1423.1C239.2 1428.1 240.4 1433.2 241.6 1437.4C242.8 1441.5 244 1444.8 245.2 1448.1C246.4 1451.4 247.5 1454.4 248.7 1457.1C249.9 1459.7 251.1 1461.8 252.3 1464.2C253.5 1466.6 254.7 1468.4 255.9 1471.4C257.1 1474.4 258.3 1478.2 259.5 1482.1C260.7 1486 261.9 1490.5 263.1 1494.6C264.2 1498.8 265.4 1503.3 266.6 1507.2C267.8 1511 269 1514.3 270.2 1517.9C271.4 1521.5 272.6 1525.6 273.8 1528.6C275 1531.6 276.2 1533.3 277.4 1535.8C278.6 1538.3 279.8 1541.2 280.9 1543.8C282.1 1546.5 283.3 1549.1 284.5 1551.9C285.7 1554.7 286.9 1557.9 288.1 1560.8C289.3 1563.8 290.5 1566.8 291.7 1569.8C292.9 1572.8 294.1 1576.2 295.3 1578.7C296.5 1581.3 297.6 1583.4 298.8 1585C300 1586.6 300.9 1587.7 302.4 1588.6C303.9 1589.5 306 1589.9 307.8 1590.4C309.6 1590.9 311.4 1591.3 313.2 1591.6C314.9 1591.9 316.7 1592.4 318.5 1592.2C320.3 1591.9 322.4 1591.4 323.9 1590.4C325.4 1589.3 326.3 1588.1 327.5 1585.9C328.7 1583.7 329.9 1580.5 331.1 1576.9C332.2 1573.4 333.4 1568.9 334.6 1564.4C335.8 1559.9 337 1554.9 338.2 1550.1C339.4 1545.3 340.6 1540.3 341.8 1535.8C343 1531.3 344.2 1527.1 345.4 1523.3C346.6 1519.4 347.8 1515.8 348.9 1512.5C350.1 1509.2 351.3 1506 352.5 1503.6C353.7 1501.2 354.8 1499.4 356.1 1498.2C357.4 1497 359.2 1496.3 360.6 1496.4C361.9 1496.6 363 1497.5 364.2 1499.1C365.4 1500.7 366.5 1503.4 367.7 1506.3C368.9 1509.1 370.1 1512.7 371.3 1516.1C372.5 1519.5 373.7 1523.3 374.9 1526.8C376.1 1530.4 377.3 1534.1 378.5 1537.6C379.7 1541 380.9 1544.4 382.1 1547.4C383.2 1550.4 384.3 1552.9 385.6 1555.5C387 1558 388.5 1560.2 390.1 1562.6C391.7 1565 393.7 1567.7 395.5 1569.8C397.3 1571.9 399.1 1573.7 400.8 1575.2C402.6 1576.6 404.1 1577.7 406.2 1578.7C408.3 1579.8 411 1580.7 413.4 1581.4C415.8 1582.2 418.1 1582.8 420.5 1583.2C422.9 1583.7 425.3 1583.9 427.7 1584.1C430.1 1584.3 432.5 1584.6 434.8 1584.5C437.2 1584.3 439.6 1584 442 1583.2C444.4 1582.4 446.8 1581.3 449.2 1579.6C451.5 1578 453.9 1575.5 456.3 1573.4C458.7 1571.3 461.4 1568.6 463.5 1567.1C465.6 1565.6 467.1 1565 468.8 1564.4C470.6 1563.8 472.4 1563.5 474.2 1563.5C476 1563.6 478.2 1564.3 479.6 1564.8C480.9 1565.2 481.8 1566 482.3 1566.2L482.3 1596.3L189.3 1596.3Z" fill="#8c774c" fill-opacity="0.29"/>
<path d="M184.3 1578.7C184.6 1578.6 185.5 1577.2 186.1 1577.8C186.7 1578.4 187.1 1580.4 187.9 1582.3C188.6 1584.3 189.7 1587.5 190.6 1589.5C191.5 1591.4 192.4 1593.5 193.3 1593.9C194.2 1594.4 195.1 1593.8 195.9 1592.2C196.8 1590.5 197.7 1587.8 198.6 1584.1C199.5 1580.4 200.4 1576.4 201.3 1569.8C202.2 1563.2 203.1 1554.3 204 1544.7C204.9 1535.2 205.8 1523.9 206.7 1512.5C207.6 1501.2 208.5 1488.7 209.4 1476.7C210.3 1464.8 211.2 1452.6 212.1 1440.9C212.9 1429.3 213.8 1416.8 214.7 1406.9C215.6 1397.1 216.5 1388.8 217.4 1381.9C218.3 1375 219.2 1370.3 220.1 1365.8C221 1361.3 221.9 1357.6 222.8 1355.1C223.7 1352.5 224.6 1351.5 225.5 1350.6C226.4 1349.7 227.3 1349.5 228.2 1349.7C229.1 1349.8 229.9 1350.3 230.8 1351.5C231.7 1352.7 232.6 1354.6 233.5 1356.8C234.4 1359.1 235.3 1361.9 236.2 1364.9C237.1 1367.9 238 1371 238.9 1374.7C239.8 1378.5 240.5 1382.5 241.6 1387.3C242.6 1392 244 1398 245.2 1403.4C246.4 1408.7 247.5 1414.4 248.7 1419.5C249.9 1424.5 251.1 1429 252.3 1433.8C253.5 1438.6 254.7 1443 255.9 1448.1C257.1 1453.2 258.3 1459.1 259.5 1464.2C260.7 1469.3 261.9 1473.8 263.1 1478.5C264.2 1483.3 265.4 1488.1 266.6 1492.8C267.8 1497.6 269 1502.7 270.2 1507.2C271.4 1511.6 272.6 1516 273.8 1519.7C275 1523.4 276.2 1526.5 277.4 1529.5C278.6 1532.5 279.8 1535 280.9 1537.6C282.1 1540.1 283.3 1542.4 284.5 1544.7C285.7 1547.1 286.9 1549.2 288.1 1551.9C289.3 1554.6 290.5 1557.9 291.7 1560.8C292.9 1563.8 294.1 1566.8 295.3 1569.8C296.5 1572.8 297.6 1576.1 298.8 1578.7C300 1581.4 301.2 1584.1 302.4 1585.9C303.6 1587.7 304.8 1588.7 306 1589.5C307.2 1590.2 308.4 1590.5 309.6 1590.4C310.8 1590.2 311.7 1589.2 313.2 1588.6C314.6 1588 316.7 1586.8 318.5 1586.8C320.3 1586.8 322.1 1588.1 323.9 1588.6C325.7 1589.1 327.8 1590 329.3 1589.8C330.8 1589.7 331.6 1589.2 332.8 1587.7C334 1586.1 335.2 1584.4 336.4 1580.5C337.6 1576.6 338.8 1571 340 1564.4C341.2 1557.9 342.4 1550.1 343.6 1541.2C344.8 1532.2 346 1521.2 347.2 1510.7C348.4 1500.3 349.5 1489.3 350.7 1478.5C351.9 1467.8 353.1 1455.6 354.3 1446.3C355.5 1437.1 356.7 1429.3 357.9 1423.1C359.1 1416.8 360.3 1411.9 361.5 1408.7C362.7 1405.6 364 1404.6 365.1 1404.3C366.1 1404 366.8 1404.4 367.7 1406.9C368.6 1409.5 369.4 1413.2 370.4 1419.5C371.5 1425.7 372.8 1435.9 374 1444.5C375.2 1453.2 376.4 1462.4 377.6 1471.4C378.8 1480.3 380 1490.2 381.2 1498.2C382.4 1506.3 383.5 1513.4 384.7 1519.7C385.9 1525.9 387.1 1531 388.3 1535.8C389.5 1540.6 390.7 1544.7 391.9 1548.3C393.1 1551.9 394.3 1554.6 395.5 1557.3C396.7 1559.9 397.6 1562 399.1 1564.4C400.5 1566.8 402.6 1569.6 404.4 1571.6C406.2 1573.5 407.7 1574.7 409.8 1576.1C411.9 1577.4 414.6 1578.6 416.9 1579.6C419.3 1580.7 421.7 1581.6 424.1 1582.3C426.5 1583.1 428.9 1583.4 431.3 1584.1C433.6 1584.8 436 1585.6 438.4 1586.3C440.8 1586.9 443.2 1587.7 445.6 1588C448 1588.4 450.6 1588.8 452.7 1588.6C454.8 1588.4 456.3 1587.7 458.1 1586.8C459.9 1585.9 461.7 1584.7 463.5 1583.2C465.3 1581.7 467.1 1579.9 468.8 1577.8C470.6 1575.8 472.4 1573.2 474.2 1570.7C476 1568.1 478.1 1564.8 479.6 1562.6C481.1 1560.5 482.1 1558.8 483.2 1557.6C484.2 1556.5 485.4 1556.1 485.8 1555.8L485.8 1596.3L184.3 1596.3Z" fill="#164b5e" fill-opacity="0.27"/>
</g>
<path d="M519.5 1264.2V1614.8M182.6 1264.2V1614.8" fill="none" stroke="#686868" stroke-width="2.1"/>
<path d="M163.4 1264.2H520.5M163.4 1596.3H520.5" fill="none" stroke="#363636" stroke-width="1.7"/>
<path d="M182.6 1596.3H519.5" stroke="#0d0d0d" stroke-width="1.9"/>
<g clip-path="url(#c5)">
<path d="M189.3 1570.7C189.8 1570.5 191.4 1570.2 192.4 1569.8C193.3 1569.3 194.2 1569.5 195.1 1568C195.9 1566.5 196.8 1564.1 197.7 1560.8C198.6 1557.6 199.5 1554 200.4 1548.3C201.3 1542.6 202.2 1534.6 203.1 1526.8C204 1519.1 204.9 1511 205.8 1501.8C206.7 1492.5 207.6 1482.1 208.5 1471.4C209.4 1460.6 210.3 1448.1 211.2 1437.4C212.1 1426.6 212.9 1415.6 213.8 1406.9C214.7 1398.3 215.6 1391.1 216.5 1385.5C217.4 1379.8 218.3 1375.9 219.2 1372.9C220.1 1370 221 1368.6 221.9 1367.6C222.8 1366.5 223.7 1365.5 224.6 1366.7C225.5 1367.9 226.2 1370.7 227.3 1374.7C228.3 1378.8 229.6 1385.5 230.8 1390.8C232 1396.2 233.2 1401.6 234.4 1406.9C235.6 1412.3 236.8 1418 238 1423.1C239.2 1428.1 240.4 1433.2 241.6 1437.4C242.8 1441.5 244 1444.8 245.2 1448.1C246.4 1451.4 247.5 1454.4 248.7 1457.1C249.9 1459.7 251.1 1461.8 252.3 1464.2C253.5 1466.6 254.7 1468.4 255.9 1471.4C257.1 1474.4 258.3 1478.2 259.5 1482.1C260.7 1486 261.9 1490.5 263.1 1494.6C264.2 1498.8 265.4 1503.3 266.6 1507.2C267.8 1511 269 1514.3 270.2 1517.9C271.4 1521.5 272.6 1525.6 273.8 1528.6C275 1531.6 276.2 1533.3 277.4 1535.8C278.6 1538.3 279.8 1541.2 280.9 1543.8C282.1 1546.5 283.3 1549.1 284.5 1551.9C285.7 1554.7 286.9 1557.9 288.1 1560.8C289.3 1563.8 290.5 1566.8 291.7 1569.8C292.9 1572.8 294.1 1576.2 295.3 1578.7C296.5 1581.3 297.6 1583.4 298.8 1585C300 1586.6 300.9 1587.7 302.4 1588.6C303.9 1589.5 306 1589.9 307.8 1590.4C309.6 1590.9 311.4 1591.3 313.2 1591.6C314.9 1591.9 316.7 1592.4 318.5 1592.2C320.3 1591.9 322.4 1591.4 323.9 1590.4C325.4 1589.3 326.3 1588.1 327.5 1585.9C328.7 1583.7 329.9 1580.5 331.1 1576.9C332.2 1573.4 333.4 1568.9 334.6 1564.4C335.8 1559.9 337 1554.9 338.2 1550.1C339.4 1545.3 340.6 1540.3 341.8 1535.8C343 1531.3 344.2 1527.1 345.4 1523.3C346.6 1519.4 347.8 1515.8 348.9 1512.5C350.1 1509.2 351.3 1506 352.5 1503.6C353.7 1501.2 354.8 1499.4 356.1 1498.2C357.4 1497 359.2 1496.3 360.6 1496.4C361.9 1496.6 363 1497.5 364.2 1499.1C365.4 1500.7 366.5 1503.4 367.7 1506.3C368.9 1509.1 370.1 1512.7 371.3 1516.1C372.5 1519.5 373.7 1523.3 374.9 1526.8C376.1 1530.4 377.3 1534.1 378.5 1537.6C379.7 1541 380.9 1544.4 382.1 1547.4C383.2 1550.4 384.3 1552.9 385.6 1555.5C387 1558 388.5 1560.2 390.1 1562.6C391.7 1565 393.7 1567.7 395.5 1569.8C397.3 1571.9 399.1 1573.7 400.8 1575.2C402.6 1576.6 404.1 1577.7 406.2 1578.7C408.3 1579.8 411 1580.7 413.4 1581.4C415.8 1582.2 418.1 1582.8 420.5 1583.2C422.9 1583.7 425.3 1583.9 427.7 1584.1C430.1 1584.3 432.5 1584.6 434.8 1584.5C437.2 1584.3 439.6 1584 442 1583.2C444.4 1582.4 446.8 1581.3 449.2 1579.6C451.5 1578 453.9 1575.5 456.3 1573.4C458.7 1571.3 461.4 1568.6 463.5 1567.1C465.6 1565.6 467.1 1565 468.8 1564.4C470.6 1563.8 472.4 1563.5 474.2 1563.5C476 1563.6 478.2 1564.3 479.6 1564.8C480.9 1565.2 481.8 1566 482.3 1566.2" fill="none" stroke="#8c774c" stroke-width="4.0" stroke-linecap="round" stroke-linejoin="round"/>
<path d="M184.3 1578.7C184.6 1578.6 185.5 1577.2 186.1 1577.8C186.7 1578.4 187.1 1580.4 187.9 1582.3C188.6 1584.3 189.7 1587.5 190.6 1589.5C191.5 1591.4 192.4 1593.5 193.3 1593.9C194.2 1594.4 195.1 1593.8 195.9 1592.2C196.8 1590.5 197.7 1587.8 198.6 1584.1C199.5 1580.4 200.4 1576.4 201.3 1569.8C202.2 1563.2 203.1 1554.3 204 1544.7C204.9 1535.2 205.8 1523.9 206.7 1512.5C207.6 1501.2 208.5 1488.7 209.4 1476.7C210.3 1464.8 211.2 1452.6 212.1 1440.9C212.9 1429.3 213.8 1416.8 214.7 1406.9C215.6 1397.1 216.5 1388.8 217.4 1381.9C218.3 1375 219.2 1370.3 220.1 1365.8C221 1361.3 221.9 1357.6 222.8 1355.1C223.7 1352.5 224.6 1351.5 225.5 1350.6C226.4 1349.7 227.3 1349.5 228.2 1349.7C229.1 1349.8 229.9 1350.3 230.8 1351.5C231.7 1352.7 232.6 1354.6 233.5 1356.8C234.4 1359.1 235.3 1361.9 236.2 1364.9C237.1 1367.9 238 1371 238.9 1374.7C239.8 1378.5 240.5 1382.5 241.6 1387.3C242.6 1392 244 1398 245.2 1403.4C246.4 1408.7 247.5 1414.4 248.7 1419.5C249.9 1424.5 251.1 1429 252.3 1433.8C253.5 1438.6 254.7 1443 255.9 1448.1C257.1 1453.2 258.3 1459.1 259.5 1464.2C260.7 1469.3 261.9 1473.8 263.1 1478.5C264.2 1483.3 265.4 1488.1 266.6 1492.8C267.8 1497.6 269 1502.7 270.2 1507.2C271.4 1511.6 272.6 1516 273.8 1519.7C275 1523.4 276.2 1526.5 277.4 1529.5C278.6 1532.5 279.8 1535 280.9 1537.6C282.1 1540.1 283.3 1542.4 284.5 1544.7C285.7 1547.1 286.9 1549.2 288.1 1551.9C289.3 1554.6 290.5 1557.9 291.7 1560.8C292.9 1563.8 294.1 1566.8 295.3 1569.8C296.5 1572.8 297.6 1576.1 298.8 1578.7C300 1581.4 301.2 1584.1 302.4 1585.9C303.6 1587.7 304.8 1588.7 306 1589.5C307.2 1590.2 308.4 1590.5 309.6 1590.4C310.8 1590.2 311.7 1589.2 313.2 1588.6C314.6 1588 316.7 1586.8 318.5 1586.8C320.3 1586.8 322.1 1588.1 323.9 1588.6C325.7 1589.1 327.8 1590 329.3 1589.8C330.8 1589.7 331.6 1589.2 332.8 1587.7C334 1586.1 335.2 1584.4 336.4 1580.5C337.6 1576.6 338.8 1571 340 1564.4C341.2 1557.9 342.4 1550.1 343.6 1541.2C344.8 1532.2 346 1521.2 347.2 1510.7C348.4 1500.3 349.5 1489.3 350.7 1478.5C351.9 1467.8 353.1 1455.6 354.3 1446.3C355.5 1437.1 356.7 1429.3 357.9 1423.1C359.1 1416.8 360.3 1411.9 361.5 1408.7C362.7 1405.6 364 1404.6 365.1 1404.3C366.1 1404 366.8 1404.4 367.7 1406.9C368.6 1409.5 369.4 1413.2 370.4 1419.5C371.5 1425.7 372.8 1435.9 374 1444.5C375.2 1453.2 376.4 1462.4 377.6 1471.4C378.8 1480.3 380 1490.2 381.2 1498.2C382.4 1506.3 383.5 1513.4 384.7 1519.7C385.9 1525.9 387.1 1531 388.3 1535.8C389.5 1540.6 390.7 1544.7 391.9 1548.3C393.1 1551.9 394.3 1554.6 395.5 1557.3C396.7 1559.9 397.6 1562 399.1 1564.4C400.5 1566.8 402.6 1569.6 404.4 1571.6C406.2 1573.5 407.7 1574.7 409.8 1576.1C411.9 1577.4 414.6 1578.6 416.9 1579.6C419.3 1580.7 421.7 1581.6 424.1 1582.3C426.5 1583.1 428.9 1583.4 431.3 1584.1C433.6 1584.8 436 1585.6 438.4 1586.3C440.8 1586.9 443.2 1587.7 445.6 1588C448 1588.4 450.6 1588.8 452.7 1588.6C454.8 1588.4 456.3 1587.7 458.1 1586.8C459.9 1585.9 461.7 1584.7 463.5 1583.2C465.3 1581.7 467.1 1579.9 468.8 1577.8C470.6 1575.8 472.4 1573.2 474.2 1570.7C476 1568.1 478.1 1564.8 479.6 1562.6C481.1 1560.5 482.1 1558.8 483.2 1557.6C484.2 1556.5 485.4 1556.1 485.8 1555.8" fill="none" stroke="#164b5e" stroke-width="4.8" stroke-linecap="round" stroke-linejoin="round"/>
</g>
<text font-size="27.3" text-anchor="end" transform="translate(157.8 1272.8) scale(1 1.05)">8000</text>
<text font-size="27.3" text-anchor="end" transform="translate(157.8 1604.9) scale(1 1.05)">0</text>
<text font-size="27.3" text-anchor="middle" transform="translate(182.6 1644.7) scale(1 1.05)">0</text>
<text font-size="27.3" text-anchor="middle" transform="translate(519.5 1644.7) scale(1 1.05)">900</text>
<text font-size="26.1" text-anchor="middle" transform="translate(351.7 1644.7) scale(1 1.1)">Time (ms)</text>
<text font-size="25.9" text-anchor="middle" transform="translate(129.9 1429.5) rotate(-90) scale(1 1.1)">Kinetic Energy (µJ)</text>
</g>
<g>
<clipPath id="c6"><rect x="1081.1" y="305.5" width="339.5" height="332.5"/></clipPath>
<g clip-path="url(#c6)">
<path d="M1089.1 591.5C1089.5 588.6 1090.8 579.9 1091.7 574.1C1092.6 568.3 1093.3 563.4 1094.3 556.7C1095.3 550.1 1096.6 542 1097.8 534.2C1098.9 526.3 1100.1 518.2 1101.3 509.8C1102.4 501.4 1103.6 491.6 1104.7 483.8C1105.9 476 1107.1 469.6 1108.2 462.9C1109.4 456.3 1110.5 449.3 1111.7 443.8C1112.8 438.3 1114 433.4 1115.2 429.9C1116.3 426.5 1117.6 424.4 1118.6 423C1119.6 421.6 1120.4 421.1 1121.2 421.3C1122.1 421.4 1122.8 422.3 1123.8 423.9C1124.9 425.5 1126.2 428.4 1127.3 430.8C1128.5 433.3 1129.6 435.9 1130.8 438.6C1131.9 441.4 1133.1 444.1 1134.3 447.3C1135.4 450.5 1136.6 454.3 1137.7 457.7C1138.9 461.2 1140.1 464.7 1141.2 468.2C1142.4 471.6 1143.5 475.1 1144.7 478.6C1145.8 482.1 1147 485.2 1148.2 489C1149.3 492.8 1150.5 497.1 1151.6 501.2C1152.8 505.2 1153.9 509.6 1155.1 513.3C1156.3 517.1 1157.4 520.3 1158.6 523.7C1159.7 527.2 1160.9 531 1162.1 534.2C1163.2 537.3 1164.4 539.9 1165.5 542.8C1166.7 545.7 1167.8 548.3 1169 551.5C1170.2 554.7 1171.3 557.9 1172.5 561.9C1173.6 566 1174.8 570.9 1175.9 575.8C1177.1 580.8 1178.3 586.3 1179.4 591.5C1180.6 596.7 1181.7 602.8 1182.9 607.1C1184.1 611.4 1185.2 614.8 1186.4 617.5C1187.5 620.3 1188.7 622.2 1189.8 623.6C1191 625.1 1192.2 625.5 1193.3 626.2C1194.5 626.9 1195.6 627.3 1196.8 627.6C1197.9 627.9 1199.1 627.7 1200.3 628.3C1201.4 628.9 1202.6 630.3 1203.7 631.4C1204.9 632.5 1206.1 634 1207.2 634.9C1208.4 635.8 1209.5 636.3 1210.7 636.6C1211.8 636.9 1213 636.9 1214.2 636.6C1215.3 636.3 1216.5 635.6 1217.6 634.9C1218.8 634.2 1219.9 633.4 1221.1 632.3C1222.3 631.1 1223.4 629.4 1224.6 627.9C1225.7 626.5 1226.9 624.9 1228.1 623.6C1229.2 622.3 1230.4 621 1231.5 620.1C1232.7 619.3 1233.6 618.7 1235 618.4C1236.4 618.1 1238.5 618.3 1240.2 618.4C1241.9 618.5 1243.7 618.6 1245.4 618.9C1247.2 619.2 1248.9 620 1250.6 620.1C1252.4 620.2 1254.1 620 1255.8 619.6C1257.6 619.2 1259.3 618.1 1261.1 617.5C1262.8 616.9 1264.8 616.3 1266.3 616.1C1267.7 616 1268.6 616.2 1269.7 616.7C1270.9 617.1 1271.8 617.9 1273.2 618.9C1274.7 619.9 1276.7 621.5 1278.4 622.7C1280.2 624 1281.9 625.4 1283.6 626.6C1285.4 627.7 1287.1 629 1288.8 629.7C1290.6 630.4 1292.3 630.7 1294.1 630.6C1295.8 630.4 1297.5 629.8 1299.3 628.8C1301 627.8 1302.7 625.9 1304.5 624.5C1306.2 623 1307.9 621.1 1309.7 620.1C1311.4 619.2 1313.2 618.8 1314.9 618.9C1316.6 619.1 1318.4 619.9 1320.1 621C1321.8 622.1 1323.6 624 1325.3 625.3C1327.1 626.6 1328.8 627.9 1330.5 628.8C1332.3 629.8 1334 630.6 1335.7 631.1C1337.5 631.5 1339.2 631.7 1340.9 631.4C1342.7 631.1 1344.4 630.2 1346.2 629.3C1347.9 628.5 1349.6 627.2 1351.4 626.2C1353.1 625.3 1354.8 624.2 1356.6 623.6C1358.3 623 1360.1 622.6 1361.8 622.7C1363.5 622.9 1365.3 623.5 1367 624.5C1368.7 625.5 1370.6 627.2 1372.2 628.8C1373.8 630.4 1375.4 632.6 1376.6 634C1377.7 635.5 1378.7 636.9 1379.2 637.5L1379.2 636L1089.1 636Z" fill="#8c774c" fill-opacity="0.29"/>
<path d="M1084.2 632.3C1084.8 631.6 1086.3 630.1 1087.4 627.9C1088.5 625.8 1089.7 623 1090.8 619.3C1092 615.5 1093.2 611.7 1094.3 605.4C1095.5 599 1096.6 590.9 1097.8 581.1C1098.9 571.2 1100.1 558.5 1101.3 546.3C1102.4 534.2 1103.6 520.8 1104.7 508.1C1105.9 495.4 1107.1 481.2 1108.2 469.9C1109.4 458.6 1110.5 448.2 1111.7 440.4C1112.8 432.6 1114.1 426.9 1115.2 423C1116.2 419.1 1116.9 418.2 1117.8 416.9C1118.6 415.6 1119.5 415.3 1120.4 415.2C1121.2 415 1122.1 415.5 1123 416.1C1123.8 416.6 1124.6 417.4 1125.6 418.7C1126.6 420 1127.9 422 1129.1 423.9C1130.2 425.8 1131.4 427.5 1132.5 429.9C1133.7 432.4 1134.8 435.2 1136 438.6C1137.2 442.1 1138.3 446.4 1139.5 450.8C1140.6 455.1 1141.8 460.1 1142.9 464.7C1144.1 469.3 1145.3 473.9 1146.4 478.6C1147.6 483.2 1148.7 487.6 1149.9 492.5C1151.1 497.4 1152.2 503.5 1153.4 508.1C1154.5 512.7 1155.7 516.5 1156.8 520.3C1158 524 1159.2 527.5 1160.3 530.7C1161.5 533.9 1162.6 536.5 1163.8 539.4C1164.9 542.3 1166.1 545.2 1167.3 548.1C1168.4 550.9 1169.6 553.8 1170.7 556.7C1171.9 559.6 1173.1 561.9 1174.2 565.4C1175.4 568.9 1176.5 573.2 1177.7 577.6C1178.8 581.9 1180 586.6 1181.2 591.5C1182.3 596.4 1183.5 601.9 1184.6 607.1C1185.8 612.3 1186.9 618 1188.1 622.7C1189.3 627.4 1190.5 632.3 1191.6 635.2C1192.7 638.2 1193.8 639.3 1194.7 640.5C1195.6 641.6 1196.3 642.2 1197.1 642.2C1197.9 642.1 1198.8 641.1 1199.6 640.1C1200.4 639.1 1201 637.6 1202 636.3C1203 635 1204.3 633.2 1205.5 632.3C1206.6 631.3 1207.5 630.8 1208.9 630.6C1210.4 630.3 1212.4 630.7 1214.2 630.6C1215.9 630.4 1217.6 630.6 1219.4 629.7C1221.1 628.8 1222.8 627.4 1224.6 625.3C1226.3 623.3 1228.1 619.8 1229.8 617.5C1231.5 615.2 1233.3 613 1235 611.4C1236.7 609.9 1238.5 608.8 1240.2 608C1241.9 607.1 1243.7 606.5 1245.4 606.2C1247.2 606 1248.9 606.3 1250.6 606.6C1252.4 606.9 1254.1 607.5 1255.8 608C1257.6 608.4 1259 608.8 1261.1 609.2C1263.1 609.6 1266 609.7 1268 610.2C1270 610.8 1271.5 611.5 1273.2 612.3C1274.9 613.2 1276.7 614.3 1278.4 615.3C1280.2 616.3 1281.9 617.5 1283.6 618.4C1285.4 619.3 1286.8 620 1288.8 620.7C1290.9 621.3 1293.5 622.1 1295.8 622.4C1298.1 622.7 1300.4 622.5 1302.7 622.4C1305.1 622.3 1307.4 622 1309.7 621.9C1312 621.8 1314.3 621.9 1316.6 621.9C1318.9 621.9 1321.3 621.9 1323.6 621.9C1325.9 621.9 1328.2 621.9 1330.5 621.9C1332.8 621.9 1335.9 621.9 1337.5 621.9C1339.1 621.9 1339.6 621.9 1340.1 621.9L1340.1 636L1084.2 636Z" fill="#164b5e" fill-opacity="0.27"/>
</g>
<path d="M1418.6 305.5V654.5M1083.1 305.5V654.5" fill="none" stroke="#686868" stroke-width="2.1"/>
<path d="M1063.9 305.5H1419.6M1063.9 636H1419.6" fill="none" stroke="#363636" stroke-width="1.7"/>
<g clip-path="url(#c6)">
<path d="M1089.1 591.5C1089.5 588.6 1090.8 579.9 1091.7 574.1C1092.6 568.3 1093.3 563.4 1094.3 556.7C1095.3 550.1 1096.6 542 1097.8 534.2C1098.9 526.3 1100.1 518.2 1101.3 509.8C1102.4 501.4 1103.6 491.6 1104.7 483.8C1105.9 476 1107.1 469.6 1108.2 462.9C1109.4 456.3 1110.5 449.3 1111.7 443.8C1112.8 438.3 1114 433.4 1115.2 429.9C1116.3 426.5 1117.6 424.4 1118.6 423C1119.6 421.6 1120.4 421.1 1121.2 421.3C1122.1 421.4 1122.8 422.3 1123.8 423.9C1124.9 425.5 1126.2 428.4 1127.3 430.8C1128.5 433.3 1129.6 435.9 1130.8 438.6C1131.9 441.4 1133.1 444.1 1134.3 447.3C1135.4 450.5 1136.6 454.3 1137.7 457.7C1138.9 461.2 1140.1 464.7 1141.2 468.2C1142.4 471.6 1143.5 475.1 1144.7 478.6C1145.8 482.1 1147 485.2 1148.2 489C1149.3 492.8 1150.5 497.1 1151.6 501.2C1152.8 505.2 1153.9 509.6 1155.1 513.3C1156.3 517.1 1157.4 520.3 1158.6 523.7C1159.7 527.2 1160.9 531 1162.1 534.2C1163.2 537.3 1164.4 539.9 1165.5 542.8C1166.7 545.7 1167.8 548.3 1169 551.5C1170.2 554.7 1171.3 557.9 1172.5 561.9C1173.6 566 1174.8 570.9 1175.9 575.8C1177.1 580.8 1178.3 586.3 1179.4 591.5C1180.6 596.7 1181.7 602.8 1182.9 607.1C1184.1 611.4 1185.2 614.8 1186.4 617.5C1187.5 620.3 1188.7 622.2 1189.8 623.6C1191 625.1 1192.2 625.5 1193.3 626.2C1194.5 626.9 1195.6 627.3 1196.8 627.6C1197.9 627.9 1199.1 627.7 1200.3 628.3C1201.4 628.9 1202.6 630.3 1203.7 631.4C1204.9 632.5 1206.1 634 1207.2 634.9C1208.4 635.8 1209.5 636.3 1210.7 636.6C1211.8 636.9 1213 636.9 1214.2 636.6C1215.3 636.3 1216.5 635.6 1217.6 634.9C1218.8 634.2 1219.9 633.4 1221.1 632.3C1222.3 631.1 1223.4 629.4 1224.6 627.9C1225.7 626.5 1226.9 624.9 1228.1 623.6C1229.2 622.3 1230.4 621 1231.5 620.1C1232.7 619.3 1233.6 618.7 1235 618.4C1236.4 618.1 1238.5 618.3 1240.2 618.4C1241.9 618.5 1243.7 618.6 1245.4 618.9C1247.2 619.2 1248.9 620 1250.6 620.1C1252.4 620.2 1254.1 620 1255.8 619.6C1257.6 619.2 1259.3 618.1 1261.1 617.5C1262.8 616.9 1264.8 616.3 1266.3 616.1C1267.7 616 1268.6 616.2 1269.7 616.7C1270.9 617.1 1271.8 617.9 1273.2 618.9C1274.7 619.9 1276.7 621.5 1278.4 622.7C1280.2 624 1281.9 625.4 1283.6 626.6C1285.4 627.7 1287.1 629 1288.8 629.7C1290.6 630.4 1292.3 630.7 1294.1 630.6C1295.8 630.4 1297.5 629.8 1299.3 628.8C1301 627.8 1302.7 625.9 1304.5 624.5C1306.2 623 1307.9 621.1 1309.7 620.1C1311.4 619.2 1313.2 618.8 1314.9 618.9C1316.6 619.1 1318.4 619.9 1320.1 621C1321.8 622.1 1323.6 624 1325.3 625.3C1327.1 626.6 1328.8 627.9 1330.5 628.8C1332.3 629.8 1334 630.6 1335.7 631.1C1337.5 631.5 1339.2 631.7 1340.9 631.4C1342.7 631.1 1344.4 630.2 1346.2 629.3C1347.9 628.5 1349.6 627.2 1351.4 626.2C1353.1 625.3 1354.8 624.2 1356.6 623.6C1358.3 623 1360.1 622.6 1361.8 622.7C1363.5 622.9 1365.3 623.5 1367 624.5C1368.7 625.5 1370.6 627.2 1372.2 628.8C1373.8 630.4 1375.4 632.6 1376.6 634C1377.7 635.5 1378.7 636.9 1379.2 637.5" fill="none" stroke="#8c774c" stroke-width="4.0" stroke-linecap="round" stroke-linejoin="round"/>
<path d="M1084.2 632.3C1084.8 631.6 1086.3 630.1 1087.4 627.9C1088.5 625.8 1089.7 623 1090.8 619.3C1092 615.5 1093.2 611.7 1094.3 605.4C1095.5 599 1096.6 590.9 1097.8 581.1C1098.9 571.2 1100.1 558.5 1101.3 546.3C1102.4 534.2 1103.6 520.8 1104.7 508.1C1105.9 495.4 1107.1 481.2 1108.2 469.9C1109.4 458.6 1110.5 448.2 1111.7 440.4C1112.8 432.6 1114.1 426.9 1115.2 423C1116.2 419.1 1116.9 418.2 1117.8 416.9C1118.6 415.6 1119.5 415.3 1120.4 415.2C1121.2 415 1122.1 415.5 1123 416.1C1123.8 416.6 1124.6 417.4 1125.6 418.7C1126.6 420 1127.9 422 1129.1 423.9C1130.2 425.8 1131.4 427.5 1132.5 429.9C1133.7 432.4 1134.8 435.2 1136 438.6C1137.2 442.1 1138.3 446.4 1139.5 450.8C1140.6 455.1 1141.8 460.1 1142.9 464.7C1144.1 469.3 1145.3 473.9 1146.4 478.6C1147.6 483.2 1148.7 487.6 1149.9 492.5C1151.1 497.4 1152.2 503.5 1153.4 508.1C1154.5 512.7 1155.7 516.5 1156.8 520.3C1158 524 1159.2 527.5 1160.3 530.7C1161.5 533.9 1162.6 536.5 1163.8 539.4C1164.9 542.3 1166.1 545.2 1167.3 548.1C1168.4 550.9 1169.6 553.8 1170.7 556.7C1171.9 559.6 1173.1 561.9 1174.2 565.4C1175.4 568.9 1176.5 573.2 1177.7 577.6C1178.8 581.9 1180 586.6 1181.2 591.5C1182.3 596.4 1183.5 601.9 1184.6 607.1C1185.8 612.3 1186.9 618 1188.1 622.7C1189.3 627.4 1190.5 632.3 1191.6 635.2C1192.7 638.2 1193.8 639.3 1194.7 640.5C1195.6 641.6 1196.3 642.2 1197.1 642.2C1197.9 642.1 1198.8 641.1 1199.6 640.1C1200.4 639.1 1201 637.6 1202 636.3C1203 635 1204.3 633.2 1205.5 632.3C1206.6 631.3 1207.5 630.8 1208.9 630.6C1210.4 630.3 1212.4 630.7 1214.2 630.6C1215.9 630.4 1217.6 630.6 1219.4 629.7C1221.1 628.8 1222.8 627.4 1224.6 625.3C1226.3 623.3 1228.1 619.8 1229.8 617.5C1231.5 615.2 1233.3 613 1235 611.4C1236.7 609.9 1238.5 608.8 1240.2 608C1241.9 607.1 1243.7 606.5 1245.4 606.2C1247.2 606 1248.9 606.3 1250.6 606.6C1252.4 606.9 1254.1 607.5 1255.8 608C1257.6 608.4 1259 608.8 1261.1 609.2C1263.1 609.6 1266 609.7 1268 610.2C1270 610.8 1271.5 611.5 1273.2 612.3C1274.9 613.2 1276.7 614.3 1278.4 615.3C1280.2 616.3 1281.9 617.5 1283.6 618.4C1285.4 619.3 1286.8 620 1288.8 620.7C1290.9 621.3 1293.5 622.1 1295.8 622.4C1298.1 622.7 1300.4 622.5 1302.7 622.4C1305.1 622.3 1307.4 622 1309.7 621.9C1312 621.8 1314.3 621.9 1316.6 621.9C1318.9 621.9 1321.3 621.9 1323.6 621.9C1325.9 621.9 1328.2 621.9 1330.5 621.9C1332.8 621.9 1335.9 621.9 1337.5 621.9C1339.1 621.9 1339.6 621.9 1340.1 621.9" fill="none" stroke="#164b5e" stroke-width="4.8" stroke-linecap="round" stroke-linejoin="round"/>
</g>
<text font-size="27.3" text-anchor="end" transform="translate(1058.6 314.1) scale(1 1.05)">500</text>
<text font-size="27.3" text-anchor="end" transform="translate(1058.6 644.6) scale(1 1.05)">0</text>
<text font-size="27.3" text-anchor="middle" transform="translate(1083.1 684.4) scale(1 1.05)">0</text>
<text font-size="27.3" text-anchor="middle" transform="translate(1418.6 684.4) scale(1 1.05)">1000</text>
<text font-size="26.1" text-anchor="middle" transform="translate(1251.8 684.4) scale(1 1.1)">Time (ms)</text>
<text font-size="25.9" text-anchor="middle" transform="translate(1043.3 469.6) rotate(-90) scale(1 1.1)">Flow (ml/s)</text>
</g>
<text x="1132" y="335.6" font-size="26.5" font-weight="bold" fill="#164b5e" text-anchor="middle">69ml</text>
<text x="1132" y="366.8" font-size="26.5" font-weight="bold" fill="#8c774c" text-anchor="middle">69ml</text>
<g>
<clipPath id="c7"><rect x="1503" y="305.2" width="339.6" height="333"/></clipPath>
<g clip-path="url(#c7)">
<path d="M1510.6 594.1C1511.1 592.2 1512.4 586.4 1513.2 582.8C1514.1 579.2 1514.8 576.7 1515.8 572.4C1516.9 568 1518.2 561.7 1519.3 556.7C1520.5 551.8 1521.6 547.5 1522.8 542.8C1523.9 538.2 1525.1 533.6 1526.3 528.9C1527.4 524.3 1528.6 519.1 1529.7 515.1C1530.9 511 1532.1 507.4 1533.2 504.6C1534.4 501.9 1535.5 499.9 1536.7 498.6C1537.8 497.2 1539.1 496.8 1540.2 496.8C1541.2 496.8 1541.9 497.5 1542.8 498.6C1543.6 499.6 1544.4 500.7 1545.4 502.9C1546.4 505.1 1547.7 508.8 1548.8 511.6C1550 514.3 1551.2 517.4 1552.3 519.4C1553.5 521.4 1554.3 522.4 1555.8 523.7C1557.2 525 1559.3 526.3 1561 527.2C1562.7 528.1 1564.5 528.5 1566.2 528.9C1567.9 529.4 1569.7 529.5 1571.4 529.8C1573.2 530.1 1574.9 530.2 1576.6 530.7C1578.4 531.1 1580.1 531.6 1581.8 532.4C1583.6 533.3 1585.3 534.3 1587.1 535.9C1588.8 537.5 1590.5 539.5 1592.3 542C1594 544.4 1595.7 547.5 1597.5 550.7C1599.2 553.8 1600.9 557.8 1602.7 561.1C1604.4 564.4 1606.2 567.7 1607.9 570.6C1609.6 573.5 1611.4 576.1 1613.1 578.4C1614.8 580.8 1616.6 582.8 1618.3 584.5C1620.1 586.3 1621.8 587.7 1623.5 588.9C1625.3 590 1627 590.8 1628.7 591.5C1630.5 592.1 1632.2 592.7 1633.9 592.9C1635.7 593 1637.4 592.4 1639.2 592.3C1640.9 592.3 1642.6 592.1 1644.4 592.3C1646.1 592.6 1647.8 593.4 1649.6 594.1C1651.3 594.8 1653.1 596 1654.8 596.7C1656.5 597.4 1658.3 597.8 1660 598.4C1661.7 599 1663.5 599.6 1665.2 600.2C1666.9 600.7 1668.7 601.5 1670.4 601.9C1672.2 602.3 1673.9 602.5 1675.6 602.8C1677.4 603.1 1679.1 603.2 1680.8 603.6C1682.6 604.1 1684.3 604.8 1686.1 605.4C1687.8 605.9 1689.5 606.5 1691.3 607.1C1693 607.7 1694.7 608.3 1696.5 608.8C1698.2 609.4 1699.9 610.1 1701.7 610.2C1703.4 610.4 1705.2 610.1 1706.9 609.7C1708.6 609.3 1710.4 608.7 1712.1 608C1713.8 607.2 1715.6 606.2 1717.3 605.4C1719.1 604.5 1720.8 603.5 1722.5 602.8C1724.3 602 1726 601.5 1727.7 601C1729.5 600.6 1731.2 600.4 1732.9 600.2C1734.7 600 1736.6 599.8 1738.2 599.8C1739.8 599.9 1741.1 599.9 1742.5 600.5C1743.9 601.1 1745.4 602.4 1746.8 603.6C1748.3 604.9 1749.7 606.4 1751.2 608C1752.6 609.6 1754.2 611.9 1755.5 613.2C1756.8 614.5 1757.8 615.2 1759 615.8C1760.2 616.4 1761.3 616.7 1762.5 616.7C1763.6 616.7 1764.5 616.4 1765.9 615.8C1767.4 615.2 1769.4 613.9 1771.2 613.2C1772.9 612.5 1774.6 611.8 1776.4 611.4C1778.1 611.1 1779.8 611.1 1781.6 610.9C1783.3 610.7 1785.1 610.7 1786.8 610.2C1788.5 609.7 1790.3 608.8 1792 608C1793.7 607.1 1795.5 606 1797.2 605C1798.9 604.1 1801.6 602.7 1802.4 602.2L1802.4 636.2L1510.6 636.2Z" fill="#8c774c" fill-opacity="0.29"/>
<path d="M1506.3 616.7C1506.7 616.4 1507.9 615.9 1508.9 614.9C1509.9 613.9 1511.2 612.5 1512.4 610.6C1513.5 608.7 1514.7 606.8 1515.8 603.6C1517 600.4 1518.2 596.7 1519.3 591.5C1520.5 586.3 1521.6 579.6 1522.8 572.4C1523.9 565.1 1525.1 556.2 1526.3 548.1C1527.4 539.9 1528.6 530.4 1529.7 523.7C1530.9 517.1 1532.1 512.2 1533.2 508.1C1534.4 504.1 1535.5 501.4 1536.7 499.4C1537.8 497.5 1539.1 496.9 1540.2 496.3C1541.2 495.7 1541.9 495.6 1542.8 495.6C1543.6 495.6 1544.4 495.8 1545.4 496.3C1546.4 496.8 1547.4 497.5 1548.8 498.6C1550.3 499.7 1552.3 501.3 1554.1 502.9C1555.8 504.5 1557.5 506.1 1559.3 508.1C1561 510.1 1562.7 512.6 1564.5 515.1C1566.2 517.5 1567.9 520.1 1569.7 522.9C1571.4 525.6 1573.2 528.8 1574.9 531.6C1576.6 534.3 1578.4 536.8 1580.1 539.4C1581.8 542 1583.6 544.6 1585.3 547.2C1587.1 549.8 1588.8 552.4 1590.5 555C1592.3 557.6 1594 560.2 1595.7 562.8C1597.5 565.4 1599.2 568.2 1600.9 570.6C1602.7 573.1 1604.4 575.4 1606.2 577.6C1607.9 579.8 1609.6 581.8 1611.4 583.7C1613.1 585.5 1614.8 587.4 1616.6 588.9C1618.3 590.3 1620.1 591.5 1621.8 592.3C1623.5 593.2 1625.3 594.1 1627 594.1C1628.7 594.1 1630.5 593.2 1632.2 592.3C1633.9 591.5 1635.7 589.6 1637.4 588.9C1639.2 588.1 1640.9 587.7 1642.6 588C1644.4 588.3 1646.1 589.8 1647.8 590.6C1649.6 591.4 1651.3 592.3 1653.1 592.9C1654.8 593.4 1656.5 593.9 1658.3 594.1C1660 594.3 1661.7 593.9 1663.5 594.1C1665.2 594.2 1666.9 594.4 1668.7 594.9C1670.4 595.5 1672.2 596.6 1673.9 597.6C1675.6 598.5 1677.4 599.6 1679.1 600.5C1680.8 601.4 1682.6 602.1 1684.3 602.8C1686.1 603.4 1687.8 603.8 1689.5 604.5C1691.3 605.2 1693 606 1694.7 606.8C1696.5 607.5 1698.2 608.3 1699.9 609.2C1701.7 610.1 1703.4 611.2 1705.2 612C1706.9 612.8 1708.6 613.6 1710.4 614.1C1712.1 614.5 1713.8 614.8 1715.6 614.9C1717.3 615 1719.1 614.9 1720.8 614.6C1722.5 614.3 1724.3 613.8 1726 613.2C1727.7 612.6 1729.6 611.4 1731.2 610.9C1732.8 610.5 1734.1 610.4 1735.6 610.6C1737 610.8 1738.3 611.4 1739.9 612C1741.5 612.5 1743.4 613.4 1745.1 613.7C1746.8 614.1 1748.6 614.1 1750.3 614.1C1752.1 614 1753.9 613.6 1755.5 613.2C1757.1 612.8 1758.7 611.9 1759.9 611.4C1761 611 1762 610.4 1762.5 610.2L1762.5 636.2L1506.3 636.2Z" fill="#164b5e" fill-opacity="0.27"/>
</g>
<path d="M1840.6 305.2V654.7M1505 305.2V654.7" fill="none" stroke="#686868" stroke-width="2.1"/>
<path d="M1485.8 305.2H1841.6M1485.8 636.2H1841.6" fill="none" stroke="#363636" stroke-width="1.7"/>
<path d="M1505 636.2H1803" stroke="#0d0d0d" stroke-width="1.9"/>
<g clip-path="url(#c7)">
<path d="M1510.6 594.1C1511.1 592.2 1512.4 586.4 1513.2 582.8C1514.1 579.2 1514.8 576.7 1515.8 572.4C1516.9 568 1518.2 561.7 1519.3 556.7C1520.5 551.8 1521.6 547.5 1522.8 542.8C1523.9 538.2 1525.1 533.6 1526.3 528.9C1527.4 524.3 1528.6 519.1 1529.7 515.1C1530.9 511 1532.1 507.4 1533.2 504.6C1534.4 501.9 1535.5 499.9 1536.7 498.6C1537.8 497.2 1539.1 496.8 1540.2 496.8C1541.2 496.8 1541.9 497.5 1542.8 498.6C1543.6 499.6 1544.4 500.7 1545.4 502.9C1546.4 505.1 1547.7 508.8 1548.8 511.6C1550 514.3 1551.2 517.4 1552.3 519.4C1553.5 521.4 1554.3 522.4 1555.8 523.7C1557.2 525 1559.3 526.3 1561 527.2C1562.7 528.1 1564.5 528.5 1566.2 528.9C1567.9 529.4 1569.7 529.5 1571.4 529.8C1573.2 530.1 1574.9 530.2 1576.6 530.7C1578.4 531.1 1580.1 531.6 1581.8 532.4C1583.6 533.3 1585.3 534.3 1587.1 535.9C1588.8 537.5 1590.5 539.5 1592.3 542C1594 544.4 1595.7 547.5 1597.5 550.7C1599.2 553.8 1600.9 557.8 1602.7 561.1C1604.4 564.4 1606.2 567.7 1607.9 570.6C1609.6 573.5 1611.4 576.1 1613.1 578.4C1614.8 580.8 1616.6 582.8 1618.3 584.5C1620.1 586.3 1621.8 587.7 1623.5 588.9C1625.3 590 1627 590.8 1628.7 591.5C1630.5 592.1 1632.2 592.7 1633.9 592.9C1635.7 593 1637.4 592.4 1639.2 592.3C1640.9 592.3 1642.6 592.1 1644.4 592.3C1646.1 592.6 1647.8 593.4 1649.6 594.1C1651.3 594.8 1653.1 596 1654.8 596.7C1656.5 597.4 1658.3 597.8 1660 598.4C1661.7 599 1663.5 599.6 1665.2 600.2C1666.9 600.7 1668.7 601.5 1670.4 601.9C1672.2 602.3 1673.9 602.5 1675.6 602.8C1677.4 603.1 1679.1 603.2 1680.8 603.6C1682.6 604.1 1684.3 604.8 1686.1 605.4C1687.8 605.9 1689.5 606.5 1691.3 607.1C1693 607.7 1694.7 608.3 1696.5 608.8C1698.2 609.4 1699.9 610.1 1701.7 610.2C1703.4 610.4 1705.2 610.1 1706.9 609.7C1708.6 609.3 1710.4 608.7 1712.1 608C1713.8 607.2 1715.6 606.2 1717.3 605.4C1719.1 604.5 1720.8 603.5 1722.5 602.8C1724.3 602 1726 601.5 1727.7 601C1729.5 600.6 1731.2 600.4 1732.9 600.2C1734.7 600 1736.6 599.8 1738.2 599.8C1739.8 599.9 1741.1 599.9 1742.5 600.5C1743.9 601.1 1745.4 602.4 1746.8 603.6C1748.3 604.9 1749.7 606.4 1751.2 608C1752.6 609.6 1754.2 611.9 1755.5 613.2C1756.8 614.5 1757.8 615.2 1759 615.8C1760.2 616.4 1761.3 616.7 1762.5 616.7C1763.6 616.7 1764.5 616.4 1765.9 615.8C1767.4 615.2 1769.4 613.9 1771.2 613.2C1772.9 612.5 1774.6 611.8 1776.4 611.4C1778.1 611.1 1779.8 611.1 1781.6 610.9C1783.3 610.7 1785.1 610.7 1786.8 610.2C1788.5 609.7 1790.3 608.8 1792 608C1793.7 607.1 1795.5 606 1797.2 605C1798.9 604.1 1801.6 602.7 1802.4 602.2" fill="none" stroke="#8c774c" stroke-width="4.0" stroke-linecap="round" stroke-linejoin="round"/>
<path d="M1506.3 616.7C1506.7 616.4 1507.9 615.9 1508.9 614.9C1509.9 613.9 1511.2 612.5 1512.4 610.6C1513.5 608.7 1514.7 606.8 1515.8 603.6C1517 600.4 1518.2 596.7 1519.3 591.5C1520.5 586.3 1521.6 579.6 1522.8 572.4C1523.9 565.1 1525.1 556.2 1526.3 548.1C1527.4 539.9 1528.6 530.4 1529.7 523.7C1530.9 517.1 1532.1 512.2 1533.2 508.1C1534.4 504.1 1535.5 501.4 1536.7 499.4C1537.8 497.5 1539.1 496.9 1540.2 496.3C1541.2 495.7 1541.9 495.6 1542.8 495.6C1543.6 495.6 1544.4 495.8 1545.4 496.3C1546.4 496.8 1547.4 497.5 1548.8 498.6C1550.3 499.7 1552.3 501.3 1554.1 502.9C1555.8 504.5 1557.5 506.1 1559.3 508.1C1561 510.1 1562.7 512.6 1564.5 515.1C1566.2 517.5 1567.9 520.1 1569.7 522.9C1571.4 525.6 1573.2 528.8 1574.9 531.6C1576.6 534.3 1578.4 536.8 1580.1 539.4C1581.8 542 1583.6 544.6 1585.3 547.2C1587.1 549.8 1588.8 552.4 1590.5 555C1592.3 557.6 1594 560.2 1595.7 562.8C1597.5 565.4 1599.2 568.2 1600.9 570.6C1602.7 573.1 1604.4 575.4 1606.2 577.6C1607.9 579.8 1609.6 581.8 1611.4 583.7C1613.1 585.5 1614.8 587.4 1616.6 588.9C1618.3 590.3 1620.1 591.5 1621.8 592.3C1623.5 593.2 1625.3 594.1 1627 594.1C1628.7 594.1 1630.5 593.2 1632.2 592.3C1633.9 591.5 1635.7 589.6 1637.4 588.9C1639.2 588.1 1640.9 587.7 1642.6 588C1644.4 588.3 1646.1 589.8 1647.8 590.6C1649.6 591.4 1651.3 592.3 1653.1 592.9C1654.8 593.4 1656.5 593.9 1658.3 594.1C1660 594.3 1661.7 593.9 1663.5 594.1C1665.2 594.2 1666.9 594.4 1668.7 594.9C1670.4 595.5 1672.2 596.6 1673.9 597.6C1675.6 598.5 1677.4 599.6 1679.1 600.5C1680.8 601.4 1682.6 602.1 1684.3 602.8C1686.1 603.4 1687.8 603.8 1689.5 604.5C1691.3 605.2 1693 606 1694.7 606.8C1696.5 607.5 1698.2 608.3 1699.9 609.2C1701.7 610.1 1703.4 611.2 1705.2 612C1706.9 612.8 1708.6 613.6 1710.4 614.1C1712.1 614.5 1713.8 614.8 1715.6 614.9C1717.3 615 1719.1 614.9 1720.8 614.6C1722.5 614.3 1724.3 613.8 1726 613.2C1727.7 612.6 1729.6 611.4 1731.2 610.9C1732.8 610.5 1734.1 610.4 1735.6 610.6C1737 610.8 1738.3 611.4 1739.9 612C1741.5 612.5 1743.4 613.4 1745.1 613.7C1746.8 614.1 1748.6 614.1 1750.3 614.1C1752.1 614 1753.9 613.6 1755.5 613.2C1757.1 612.8 1758.7 611.9 1759.9 611.4C1761 611 1762 610.4 1762.5 610.2" fill="none" stroke="#164b5e" stroke-width="4.8" stroke-linecap="round" stroke-linejoin="round"/>
</g>
<text font-size="27.3" text-anchor="end" transform="translate(1480.6 313.8) scale(1 1.05)">150</text>
<text font-size="27.3" text-anchor="end" transform="translate(1480.6 644.8) scale(1 1.05)">0</text>
<text font-size="27.3" text-anchor="middle" transform="translate(1505 683.9) scale(1 1.05)">0</text>
<text font-size="27.3" text-anchor="middle" transform="translate(1840.6 683.9) scale(1 1.05)">1000</text>
<text font-size="26.1" text-anchor="middle" transform="translate(1673.1 683.9) scale(1 1.1)">Time (ms)</text>
<text font-size="25.9" text-anchor="middle" transform="translate(1466 470.2) rotate(-90) scale(1 1.1)">Velocity (cm/s)</text>
</g>
<g>
<clipPath id="c8"><rect x="1081.5" y="798.2" width="339.5" height="333.3"/></clipPath>
<g clip-path="url(#c8)">
<path d="M1089.7 1067.4C1090.1 1062.5 1091.5 1047.9 1092.4 1037.9C1093.3 1027.9 1094.2 1017.6 1095.1 1007.5C1095.9 997.3 1096.8 987.2 1097.7 977.1C1098.6 966.9 1099.5 956.2 1100.4 946.6C1101.3 937.1 1102.2 927.5 1103.1 919.8C1104 912 1104.9 906.1 1105.8 900.1C1106.7 894.1 1107.6 888.3 1108.5 884C1109.4 879.7 1110.1 876.8 1111.2 874.2C1112.2 871.5 1113.5 869.1 1114.7 867.9C1115.9 866.7 1117.1 866.9 1118.3 867C1119.5 867.1 1120.7 867.6 1121.9 868.8C1123.1 870 1124.3 871.9 1125.5 874.2C1126.7 876.4 1127.9 879.4 1129.1 882.2C1130.2 885 1131.4 887.9 1132.6 891.2C1133.8 894.4 1135 898.3 1136.2 901.9C1137.4 905.5 1138.6 908.8 1139.8 912.6C1141 916.5 1142.2 920.7 1143.4 925.2C1144.6 929.6 1145.8 934.4 1146.9 939.5C1148.1 944.5 1149.3 950.2 1150.5 955.6C1151.7 960.9 1152.9 966 1154.1 971.7C1155.3 977.4 1156.5 983.3 1157.7 989.6C1158.9 995.8 1160.1 1002.4 1161.3 1009.3C1162.5 1016.1 1163.6 1023.6 1164.8 1030.7C1166 1037.9 1167.2 1045.1 1168.4 1052.2C1169.6 1059.4 1170.8 1067.1 1172 1073.7C1173.2 1080.2 1174.4 1086.2 1175.6 1091.6C1176.8 1096.9 1178 1102 1179.2 1105.9C1180.4 1109.8 1181.5 1112.5 1182.7 1114.8C1183.9 1117.2 1185.1 1118.7 1186.3 1120.2C1187.5 1121.7 1188.7 1122.9 1189.9 1123.8C1191.1 1124.7 1192 1125.3 1193.5 1125.6C1195 1125.9 1196.8 1125.7 1198.8 1125.6C1200.9 1125.4 1203.6 1124.7 1206 1124.7C1208.4 1124.6 1210.5 1125.1 1213.2 1125.2C1215.8 1125.4 1219.1 1125.4 1222.1 1125.6C1225.1 1125.8 1228.1 1126.3 1231.1 1126.5C1234 1126.6 1237 1126.5 1240 1126.5C1243 1126.5 1246 1126.4 1248.9 1126.5C1251.9 1126.6 1254.9 1126.8 1257.9 1127C1260.9 1127.2 1262.4 1127.5 1266.8 1127.7C1271.3 1127.9 1278.8 1128.2 1284.7 1128.3C1290.7 1128.4 1296.7 1128.3 1302.6 1128.3C1308.6 1128.3 1314.6 1128.3 1320.5 1128.3C1326.5 1128.3 1334.2 1128.4 1338.4 1128.3C1342.6 1128.1 1343.5 1127.8 1345.6 1127.4C1347.7 1126.9 1349.2 1126.2 1350.9 1125.6C1352.7 1125 1354.5 1124.3 1356.3 1123.8C1358.1 1123.3 1360.2 1122.7 1361.7 1122.4C1363.2 1122.1 1363.8 1121.9 1365.3 1122C1366.8 1122.1 1368.8 1122.3 1370.6 1122.9C1372.4 1123.5 1374.2 1124.6 1376 1125.6C1377.8 1126.6 1380.5 1128.3 1381.4 1128.8L1381.4 1129.5L1089.7 1129.5Z" fill="#8c774c" fill-opacity="0.29"/>
<path d="M1089.7 1128.3C1092.4 1128.3 1100.1 1128.3 1105.8 1128.3C1111.5 1128.3 1117.7 1128.4 1123.7 1128.3C1129.6 1128.2 1135.6 1128 1141.6 1127.7C1147.5 1127.4 1155.3 1127.1 1159.5 1126.5C1163.6 1125.8 1164.2 1124.2 1166.6 1123.8C1169 1123.3 1171.4 1123.5 1173.8 1123.8C1176.2 1124.1 1178.9 1125.6 1180.9 1125.6C1183 1125.6 1184.8 1125.3 1186.3 1123.8C1187.8 1122.3 1189 1119 1189.9 1116.6C1190.8 1114.2 1191.1 1112.2 1191.7 1109.5C1192.3 1106.8 1192.6 1104.1 1193.5 1100.5C1194.4 1096.9 1195.9 1091.3 1197.1 1088C1198.2 1084.7 1199.4 1082.8 1200.6 1080.8C1201.8 1078.9 1203 1077.9 1204.2 1076.4C1205.4 1074.9 1206.6 1073.8 1207.8 1071.9C1209 1070 1210.2 1068.9 1211.4 1064.7C1212.6 1060.6 1213.9 1054.3 1214.9 1046.8C1216 1039.4 1216.7 1028.9 1217.6 1020C1218.5 1011.1 1219.4 1002.1 1220.3 993.2C1221.2 984.2 1222.1 974.7 1223 966.3C1223.9 958 1224.8 949 1225.7 943.1C1226.6 937.1 1227.5 933.4 1228.4 930.5C1229.3 927.7 1230.2 926.8 1231.1 926.1C1231.9 925.3 1232.8 925.3 1233.7 926.1C1234.6 926.8 1235.5 928.3 1236.4 930.5C1237.3 932.8 1238.2 936.2 1239.1 939.5C1240 942.8 1240.7 946.9 1241.8 950.2C1242.8 953.5 1244.2 956.5 1245.4 959.2C1246.6 961.8 1247.8 963.9 1248.9 966.3C1250.1 968.7 1251.3 970.5 1252.5 973.5C1253.7 976.5 1254.9 979.7 1256.1 984.2C1257.3 988.7 1258.5 994.9 1259.7 1000.3C1260.9 1005.7 1262.1 1011.1 1263.3 1016.4C1264.5 1021.8 1265.6 1027.5 1266.8 1032.5C1268 1037.6 1269.2 1042.4 1270.4 1046.8C1271.6 1051.3 1272.8 1055.5 1274 1059.4C1275.2 1063.2 1276.4 1066.5 1277.6 1070.1C1278.8 1073.7 1280 1077 1281.2 1080.8C1282.4 1084.7 1283.5 1089.2 1284.7 1093.4C1285.9 1097.5 1287.1 1102 1288.3 1105.9C1289.5 1109.8 1290.7 1113.6 1291.9 1116.6C1293.1 1119.6 1294.3 1122 1295.5 1123.8C1296.7 1125.6 1297.3 1126.6 1299.1 1127.4C1300.8 1128.1 1303.8 1128.3 1306.2 1128.3C1308.6 1128.3 1311.6 1128.4 1313.4 1127.4C1315.2 1126.3 1315.8 1124.4 1316.9 1122C1318.1 1119.6 1319.3 1116 1320.5 1113.1C1321.7 1110.1 1322.9 1107.1 1324.1 1104.1C1325.3 1101.1 1326.5 1097.8 1327.7 1095.2C1328.9 1092.5 1330.1 1090.1 1331.3 1088C1332.5 1085.9 1333.6 1084.4 1334.8 1082.6C1336 1080.8 1337.2 1079.1 1338.4 1077.3C1339.6 1075.5 1340.8 1074 1342 1071.9C1343.2 1069.8 1344.4 1067.7 1345.6 1064.7C1346.8 1061.8 1348 1057.9 1349.2 1054C1350.4 1050.1 1351.5 1045.9 1352.7 1041.5C1353.9 1037 1355.1 1031.6 1356.3 1027.2C1357.5 1022.7 1358.7 1017.9 1359.9 1014.6C1361.1 1011.4 1362.4 1008.8 1363.5 1007.5C1364.5 1006.1 1365.3 1005.7 1366.2 1006.6C1367.1 1007.5 1367.9 1009.7 1368.8 1012.8C1369.7 1016 1370.6 1020.3 1371.5 1025.4C1372.4 1030.4 1373.5 1037.6 1374.2 1043.3C1375 1048.9 1375.4 1054 1376 1059.4C1376.6 1064.7 1377.3 1070.1 1377.8 1075.5C1378.3 1080.8 1378.8 1086.5 1379.2 1091.6C1379.7 1096.6 1380.3 1103.5 1380.5 1105.9L1380.5 1129.5L1089.7 1129.5Z" fill="#8c774c" fill-opacity="0.29"/>
<path d="M1085.7 1123.8C1086.1 1121.1 1087.1 1114.5 1087.9 1107.7C1088.7 1100.8 1089.7 1091.3 1090.6 1082.6C1091.5 1074 1092.4 1064.7 1093.3 1055.8C1094.2 1046.8 1095.1 1037.9 1095.9 1028.9C1096.8 1020 1097.7 1011.1 1098.6 1002.1C1099.5 993.2 1100.4 984.2 1101.3 975.3C1102.2 966.3 1103.1 956.8 1104 948.4C1104.9 940.1 1105.8 932 1106.7 925.2C1107.6 918.3 1108.3 912.9 1109.4 907.3C1110.4 901.6 1111.8 895.2 1112.9 891.2C1114.1 887.1 1115.3 884.9 1116.5 883.1C1117.7 881.3 1119.1 880.8 1120.1 880.4C1121.1 880 1121.9 880.2 1122.8 880.8C1123.7 881.4 1124.4 882.4 1125.5 884C1126.5 885.6 1127.9 887.9 1129.1 890.3C1130.2 892.6 1131.4 895.5 1132.6 898.3C1133.8 901.1 1135 904 1136.2 907.3C1137.4 910.5 1138.6 914.1 1139.8 918C1141 921.9 1142.2 926.4 1143.4 930.5C1144.6 934.7 1145.8 938.9 1146.9 943.1C1148.1 947.2 1149.3 951.4 1150.5 955.6C1151.7 959.8 1152.9 964.5 1154.1 968.1C1155.3 971.7 1156.5 974.4 1157.7 977.1C1158.9 979.7 1160.1 981.8 1161.3 984.2C1162.5 986.6 1163.6 988.7 1164.8 991.4C1166 994.1 1167.2 997 1168.4 1000.3C1169.6 1003.6 1170.8 1006.9 1172 1011.1C1173.2 1015.2 1174.4 1020 1175.6 1025.4C1176.8 1030.7 1178 1037 1179.2 1043.3C1180.4 1049.5 1181.5 1056.1 1182.7 1062.9C1183.9 1069.8 1185.1 1077 1186.3 1084.4C1187.5 1091.9 1188.9 1101.1 1189.9 1107.7C1190.9 1114.2 1191.8 1120.1 1192.6 1123.8C1193.3 1127.5 1193.6 1129.3 1194.4 1130.1C1195.1 1130.8 1196 1128.8 1197.1 1128.3C1198.1 1127.8 1198.5 1127.2 1200.6 1127C1202.7 1126.9 1206.6 1127.5 1209.6 1127.4C1212.6 1127.3 1215.5 1126.8 1218.5 1126.5C1221.5 1126.1 1224.8 1125.6 1227.5 1125.2C1230.2 1124.9 1232.2 1124.4 1234.6 1124.3C1237 1124.2 1239.4 1124.4 1241.8 1124.7C1244.2 1125 1246.3 1125.5 1248.9 1125.9C1251.6 1126.4 1254.9 1127 1257.9 1127.4C1260.9 1127.8 1263.9 1128.1 1266.8 1128.3C1269.8 1128.5 1272.8 1128.6 1275.8 1128.6C1278.8 1128.7 1281.8 1128.6 1284.7 1128.6C1287.7 1128.6 1290.7 1128.6 1293.7 1128.6C1296.7 1128.6 1299.9 1128.8 1302.6 1128.6C1305.3 1128.4 1307.4 1127.9 1309.8 1127.4C1312.2 1126.9 1314.6 1126 1316.9 1125.6C1319.3 1125.1 1321.7 1124.7 1324.1 1124.7C1326.5 1124.7 1329.2 1125.1 1331.3 1125.6C1333.4 1126 1334.8 1126.8 1336.6 1127.4C1338.4 1127.9 1341.1 1128.6 1342 1128.8L1342 1129.5L1085.7 1129.5Z" fill="#164b5e" fill-opacity="0.27"/>
<path d="M1095.1 1129.2C1098.3 1129.2 1108.5 1129.2 1114.7 1129.2C1121 1129.2 1126.7 1129.2 1132.6 1129.2C1138.6 1129.2 1144.6 1129.2 1150.5 1129.2C1156.5 1129.2 1162.5 1129.2 1168.4 1129.2C1174.4 1129.1 1182.1 1129.2 1186.3 1128.8C1190.5 1128.4 1191.4 1128.2 1193.5 1126.5C1195.6 1124.7 1197.1 1121 1198.8 1118.4C1200.6 1115.9 1202.4 1113.2 1204.2 1111.3C1206 1109.3 1207.8 1108.6 1209.6 1106.8C1211.4 1105 1213.5 1103.4 1214.9 1100.5C1216.4 1097.7 1217.5 1094.3 1218.5 1089.8C1219.6 1085.3 1220.3 1079.9 1221.2 1073.7C1222.1 1067.4 1223 1059.7 1223.9 1052.2C1224.8 1044.8 1225.7 1037 1226.6 1028.9C1227.5 1020.9 1228.4 1012.2 1229.3 1003.9C1230.2 995.5 1231.1 986.6 1231.9 978.8C1232.8 971.1 1233.7 963.9 1234.6 957.4C1235.5 950.8 1236.4 944.5 1237.3 939.5C1238.2 934.4 1239.1 930.2 1240 926.9C1240.9 923.7 1241.6 921.3 1242.7 919.8C1243.7 918.3 1245.1 917.9 1246.3 918C1247.5 918.1 1248.8 919.2 1249.8 920.7C1250.9 922.2 1251.5 923.8 1252.5 926.9C1253.6 930.1 1254.9 935 1256.1 939.5C1257.3 943.9 1258.5 948.4 1259.7 953.8C1260.9 959.2 1262.1 965.7 1263.3 971.7C1264.5 977.6 1265.6 983.6 1266.8 989.6C1268 995.5 1269.2 1001.5 1270.4 1007.5C1271.6 1013.4 1272.8 1019.4 1274 1025.4C1275.2 1031.3 1276.4 1037.3 1277.6 1043.3C1278.8 1049.2 1280 1055.5 1281.2 1061.2C1282.4 1066.8 1283.5 1072.2 1284.7 1077.3C1285.9 1082.3 1287.1 1087.1 1288.3 1091.6C1289.5 1096.1 1290.7 1100.2 1291.9 1104.1C1293.1 1108 1294.3 1111.6 1295.5 1114.8C1296.7 1118.1 1297.9 1121.6 1299.1 1123.8C1300.2 1126 1300.8 1127.4 1302.6 1128.3C1304.4 1129.1 1307.7 1129.2 1309.8 1128.8C1311.9 1128.4 1313.7 1127.9 1315.2 1125.6C1316.6 1123.3 1317.5 1118.7 1318.7 1114.8C1319.9 1111 1321.1 1106.2 1322.3 1102.3C1323.5 1098.4 1324.7 1095.2 1325.9 1091.6C1327.1 1088 1328.3 1084.4 1329.5 1080.8C1330.7 1077.3 1331.9 1073.4 1333.1 1070.1C1334.2 1066.8 1335.6 1063.8 1336.6 1061.2C1337.7 1058.5 1338.6 1055.6 1339.3 1054C1340.1 1052.4 1340.8 1051.8 1341.1 1051.3L1341.1 1129.5L1095.1 1129.5Z" fill="#164b5e" fill-opacity="0.27"/>
</g>
<path d="M1419 798.2V1148M1083.5 798.2V1148" fill="none" stroke="#686868" stroke-width="2.1"/>
<path d="M1064.3 798.2H1420M1064.3 1129.5H1420" fill="none" stroke="#363636" stroke-width="1.7"/>
<g clip-path="url(#c8)">
<path d="M1089.7 1067.4C1090.1 1062.5 1091.5 1047.9 1092.4 1037.9C1093.3 1027.9 1094.2 1017.6 1095.1 1007.5C1095.9 997.3 1096.8 987.2 1097.7 977.1C1098.6 966.9 1099.5 956.2 1100.4 946.6C1101.3 937.1 1102.2 927.5 1103.1 919.8C1104 912 1104.9 906.1 1105.8 900.1C1106.7 894.1 1107.6 888.3 1108.5 884C1109.4 879.7 1110.1 876.8 1111.2 874.2C1112.2 871.5 1113.5 869.1 1114.7 867.9C1115.9 866.7 1117.1 866.9 1118.3 867C1119.5 867.1 1120.7 867.6 1121.9 868.8C1123.1 870 1124.3 871.9 1125.5 874.2C1126.7 876.4 1127.9 879.4 1129.1 882.2C1130.2 885 1131.4 887.9 1132.6 891.2C1133.8 894.4 1135 898.3 1136.2 901.9C1137.4 905.5 1138.6 908.8 1139.8 912.6C1141 916.5 1142.2 920.7 1143.4 925.2C1144.6 929.6 1145.8 934.4 1146.9 939.5C1148.1 944.5 1149.3 950.2 1150.5 955.6C1151.7 960.9 1152.9 966 1154.1 971.7C1155.3 977.4 1156.5 983.3 1157.7 989.6C1158.9 995.8 1160.1 1002.4 1161.3 1009.3C1162.5 1016.1 1163.6 1023.6 1164.8 1030.7C1166 1037.9 1167.2 1045.1 1168.4 1052.2C1169.6 1059.4 1170.8 1067.1 1172 1073.7C1173.2 1080.2 1174.4 1086.2 1175.6 1091.6C1176.8 1096.9 1178 1102 1179.2 1105.9C1180.4 1109.8 1181.5 1112.5 1182.7 1114.8C1183.9 1117.2 1185.1 1118.7 1186.3 1120.2C1187.5 1121.7 1188.7 1122.9 1189.9 1123.8C1191.1 1124.7 1192 1125.3 1193.5 1125.6C1195 1125.9 1196.8 1125.7 1198.8 1125.6C1200.9 1125.4 1203.6 1124.7 1206 1124.7C1208.4 1124.6 1210.5 1125.1 1213.2 1125.2C1215.8 1125.4 1219.1 1125.4 1222.1 1125.6C1225.1 1125.8 1228.1 1126.3 1231.1 1126.5C1234 1126.6 1237 1126.5 1240 1126.5C1243 1126.5 1246 1126.4 1248.9 1126.5C1251.9 1126.6 1254.9 1126.8 1257.9 1127C1260.9 1127.2 1262.4 1127.5 1266.8 1127.7C1271.3 1127.9 1278.8 1128.2 1284.7 1128.3C1290.7 1128.4 1296.7 1128.3 1302.6 1128.3C1308.6 1128.3 1314.6 1128.3 1320.5 1128.3C1326.5 1128.3 1334.2 1128.4 1338.4 1128.3C1342.6 1128.1 1343.5 1127.8 1345.6 1127.4C1347.7 1126.9 1349.2 1126.2 1350.9 1125.6C1352.7 1125 1354.5 1124.3 1356.3 1123.8C1358.1 1123.3 1360.2 1122.7 1361.7 1122.4C1363.2 1122.1 1363.8 1121.9 1365.3 1122C1366.8 1122.1 1368.8 1122.3 1370.6 1122.9C1372.4 1123.5 1374.2 1124.6 1376 1125.6C1377.8 1126.6 1380.5 1128.3 1381.4 1128.8" fill="none" stroke="#8c774c" stroke-width="4.0" stroke-linecap="round" stroke-linejoin="round"/>
<path d="M1089.7 1128.3C1092.4 1128.3 1100.1 1128.3 1105.8 1128.3C1111.5 1128.3 1117.7 1128.4 1123.7 1128.3C1129.6 1128.2 1135.6 1128 1141.6 1127.7C1147.5 1127.4 1155.3 1127.1 1159.5 1126.5C1163.6 1125.8 1164.2 1124.2 1166.6 1123.8C1169 1123.3 1171.4 1123.5 1173.8 1123.8C1176.2 1124.1 1178.9 1125.6 1180.9 1125.6C1183 1125.6 1184.8 1125.3 1186.3 1123.8C1187.8 1122.3 1189 1119 1189.9 1116.6C1190.8 1114.2 1191.1 1112.2 1191.7 1109.5C1192.3 1106.8 1192.6 1104.1 1193.5 1100.5C1194.4 1096.9 1195.9 1091.3 1197.1 1088C1198.2 1084.7 1199.4 1082.8 1200.6 1080.8C1201.8 1078.9 1203 1077.9 1204.2 1076.4C1205.4 1074.9 1206.6 1073.8 1207.8 1071.9C1209 1070 1210.2 1068.9 1211.4 1064.7C1212.6 1060.6 1213.9 1054.3 1214.9 1046.8C1216 1039.4 1216.7 1028.9 1217.6 1020C1218.5 1011.1 1219.4 1002.1 1220.3 993.2C1221.2 984.2 1222.1 974.7 1223 966.3C1223.9 958 1224.8 949 1225.7 943.1C1226.6 937.1 1227.5 933.4 1228.4 930.5C1229.3 927.7 1230.2 926.8 1231.1 926.1C1231.9 925.3 1232.8 925.3 1233.7 926.1C1234.6 926.8 1235.5 928.3 1236.4 930.5C1237.3 932.8 1238.2 936.2 1239.1 939.5C1240 942.8 1240.7 946.9 1241.8 950.2C1242.8 953.5 1244.2 956.5 1245.4 959.2C1246.6 961.8 1247.8 963.9 1248.9 966.3C1250.1 968.7 1251.3 970.5 1252.5 973.5C1253.7 976.5 1254.9 979.7 1256.1 984.2C1257.3 988.7 1258.5 994.9 1259.7 1000.3C1260.9 1005.7 1262.1 1011.1 1263.3 1016.4C1264.5 1021.8 1265.6 1027.5 1266.8 1032.5C1268 1037.6 1269.2 1042.4 1270.4 1046.8C1271.6 1051.3 1272.8 1055.5 1274 1059.4C1275.2 1063.2 1276.4 1066.5 1277.6 1070.1C1278.8 1073.7 1280 1077 1281.2 1080.8C1282.4 1084.7 1283.5 1089.2 1284.7 1093.4C1285.9 1097.5 1287.1 1102 1288.3 1105.9C1289.5 1109.8 1290.7 1113.6 1291.9 1116.6C1293.1 1119.6 1294.3 1122 1295.5 1123.8C1296.7 1125.6 1297.3 1126.6 1299.1 1127.4C1300.8 1128.1 1303.8 1128.3 1306.2 1128.3C1308.6 1128.3 1311.6 1128.4 1313.4 1127.4C1315.2 1126.3 1315.8 1124.4 1316.9 1122C1318.1 1119.6 1319.3 1116 1320.5 1113.1C1321.7 1110.1 1322.9 1107.1 1324.1 1104.1C1325.3 1101.1 1326.5 1097.8 1327.7 1095.2C1328.9 1092.5 1330.1 1090.1 1331.3 1088C1332.5 1085.9 1333.6 1084.4 1334.8 1082.6C1336 1080.8 1337.2 1079.1 1338.4 1077.3C1339.6 1075.5 1340.8 1074 1342 1071.9C1343.2 1069.8 1344.4 1067.7 1345.6 1064.7C1346.8 1061.8 1348 1057.9 1349.2 1054C1350.4 1050.1 1351.5 1045.9 1352.7 1041.5C1353.9 1037 1355.1 1031.6 1356.3 1027.2C1357.5 1022.7 1358.7 1017.9 1359.9 1014.6C1361.1 1011.4 1362.4 1008.8 1363.5 1007.5C1364.5 1006.1 1365.3 1005.7 1366.2 1006.6C1367.1 1007.5 1367.9 1009.7 1368.8 1012.8C1369.7 1016 1370.6 1020.3 1371.5 1025.4C1372.4 1030.4 1373.5 1037.6 1374.2 1043.3C1375 1048.9 1375.4 1054 1376 1059.4C1376.6 1064.7 1377.3 1070.1 1377.8 1075.5C1378.3 1080.8 1378.8 1086.5 1379.2 1091.6C1379.7 1096.6 1380.3 1103.5 1380.5 1105.9" fill="none" stroke="#8c774c" stroke-width="4.0" stroke-linecap="round" stroke-linejoin="round" stroke-dasharray="13.8 10.5"/>
<path d="M1085.7 1123.8C1086.1 1121.1 1087.1 1114.5 1087.9 1107.7C1088.7 1100.8 1089.7 1091.3 1090.6 1082.6C1091.5 1074 1092.4 1064.7 1093.3 1055.8C1094.2 1046.8 1095.1 1037.9 1095.9 1028.9C1096.8 1020 1097.7 1011.1 1098.6 1002.1C1099.5 993.2 1100.4 984.2 1101.3 975.3C1102.2 966.3 1103.1 956.8 1104 948.4C1104.9 940.1 1105.8 932 1106.7 925.2C1107.6 918.3 1108.3 912.9 1109.4 907.3C1110.4 901.6 1111.8 895.2 1112.9 891.2C1114.1 887.1 1115.3 884.9 1116.5 883.1C1117.7 881.3 1119.1 880.8 1120.1 880.4C1121.1 880 1121.9 880.2 1122.8 880.8C1123.7 881.4 1124.4 882.4 1125.5 884C1126.5 885.6 1127.9 887.9 1129.1 890.3C1130.2 892.6 1131.4 895.5 1132.6 898.3C1133.8 901.1 1135 904 1136.2 907.3C1137.4 910.5 1138.6 914.1 1139.8 918C1141 921.9 1142.2 926.4 1143.4 930.5C1144.6 934.7 1145.8 938.9 1146.9 943.1C1148.1 947.2 1149.3 951.4 1150.5 955.6C1151.7 959.8 1152.9 964.5 1154.1 968.1C1155.3 971.7 1156.5 974.4 1157.7 977.1C1158.9 979.7 1160.1 981.8 1161.3 984.2C1162.5 986.6 1163.6 988.7 1164.8 991.4C1166 994.1 1167.2 997 1168.4 1000.3C1169.6 1003.6 1170.8 1006.9 1172 1011.1C1173.2 1015.2 1174.4 1020 1175.6 1025.4C1176.8 1030.7 1178 1037 1179.2 1043.3C1180.4 1049.5 1181.5 1056.1 1182.7 1062.9C1183.9 1069.8 1185.1 1077 1186.3 1084.4C1187.5 1091.9 1188.9 1101.1 1189.9 1107.7C1190.9 1114.2 1191.8 1120.1 1192.6 1123.8C1193.3 1127.5 1193.6 1129.3 1194.4 1130.1C1195.1 1130.8 1196 1128.8 1197.1 1128.3C1198.1 1127.8 1198.5 1127.2 1200.6 1127C1202.7 1126.9 1206.6 1127.5 1209.6 1127.4C1212.6 1127.3 1215.5 1126.8 1218.5 1126.5C1221.5 1126.1 1224.8 1125.6 1227.5 1125.2C1230.2 1124.9 1232.2 1124.4 1234.6 1124.3C1237 1124.2 1239.4 1124.4 1241.8 1124.7C1244.2 1125 1246.3 1125.5 1248.9 1125.9C1251.6 1126.4 1254.9 1127 1257.9 1127.4C1260.9 1127.8 1263.9 1128.1 1266.8 1128.3C1269.8 1128.5 1272.8 1128.6 1275.8 1128.6C1278.8 1128.7 1281.8 1128.6 1284.7 1128.6C1287.7 1128.6 1290.7 1128.6 1293.7 1128.6C1296.7 1128.6 1299.9 1128.8 1302.6 1128.6C1305.3 1128.4 1307.4 1127.9 1309.8 1127.4C1312.2 1126.9 1314.6 1126 1316.9 1125.6C1319.3 1125.1 1321.7 1124.7 1324.1 1124.7C1326.5 1124.7 1329.2 1125.1 1331.3 1125.6C1333.4 1126 1334.8 1126.8 1336.6 1127.4C1338.4 1127.9 1341.1 1128.6 1342 1128.8" fill="none" stroke="#164b5e" stroke-width="4.8" stroke-linecap="round" stroke-linejoin="round"/>
<path d="M1095.1 1129.2C1098.3 1129.2 1108.5 1129.2 1114.7 1129.2C1121 1129.2 1126.7 1129.2 1132.6 1129.2C1138.6 1129.2 1144.6 1129.2 1150.5 1129.2C1156.5 1129.2 1162.5 1129.2 1168.4 1129.2C1174.4 1129.1 1182.1 1129.2 1186.3 1128.8C1190.5 1128.4 1191.4 1128.2 1193.5 1126.5C1195.6 1124.7 1197.1 1121 1198.8 1118.4C1200.6 1115.9 1202.4 1113.2 1204.2 1111.3C1206 1109.3 1207.8 1108.6 1209.6 1106.8C1211.4 1105 1213.5 1103.4 1214.9 1100.5C1216.4 1097.7 1217.5 1094.3 1218.5 1089.8C1219.6 1085.3 1220.3 1079.9 1221.2 1073.7C1222.1 1067.4 1223 1059.7 1223.9 1052.2C1224.8 1044.8 1225.7 1037 1226.6 1028.9C1227.5 1020.9 1228.4 1012.2 1229.3 1003.9C1230.2 995.5 1231.1 986.6 1231.9 978.8C1232.8 971.1 1233.7 963.9 1234.6 957.4C1235.5 950.8 1236.4 944.5 1237.3 939.5C1238.2 934.4 1239.1 930.2 1240 926.9C1240.9 923.7 1241.6 921.3 1242.7 919.8C1243.7 918.3 1245.1 917.9 1246.3 918C1247.5 918.1 1248.8 919.2 1249.8 920.7C1250.9 922.2 1251.5 923.8 1252.5 926.9C1253.6 930.1 1254.9 935 1256.1 939.5C1257.3 943.9 1258.5 948.4 1259.7 953.8C1260.9 959.2 1262.1 965.7 1263.3 971.7C1264.5 977.6 1265.6 983.6 1266.8 989.6C1268 995.5 1269.2 1001.5 1270.4 1007.5C1271.6 1013.4 1272.8 1019.4 1274 1025.4C1275.2 1031.3 1276.4 1037.3 1277.6 1043.3C1278.8 1049.2 1280 1055.5 1281.2 1061.2C1282.4 1066.8 1283.5 1072.2 1284.7 1077.3C1285.9 1082.3 1287.1 1087.1 1288.3 1091.6C1289.5 1096.1 1290.7 1100.2 1291.9 1104.1C1293.1 1108 1294.3 1111.6 1295.5 1114.8C1296.7 1118.1 1297.9 1121.6 1299.1 1123.8C1300.2 1126 1300.8 1127.4 1302.6 1128.3C1304.4 1129.1 1307.7 1129.2 1309.8 1128.8C1311.9 1128.4 1313.7 1127.9 1315.2 1125.6C1316.6 1123.3 1317.5 1118.7 1318.7 1114.8C1319.9 1111 1321.1 1106.2 1322.3 1102.3C1323.5 1098.4 1324.7 1095.2 1325.9 1091.6C1327.1 1088 1328.3 1084.4 1329.5 1080.8C1330.7 1077.3 1331.9 1073.4 1333.1 1070.1C1334.2 1066.8 1335.6 1063.8 1336.6 1061.2C1337.7 1058.5 1338.6 1055.6 1339.3 1054C1340.1 1052.4 1340.8 1051.8 1341.1 1051.3" fill="none" stroke="#164b5e" stroke-width="4.8" stroke-linecap="round" stroke-linejoin="round" stroke-dasharray="13.8 10.5"/>
</g>
<text font-size="27.3" text-anchor="end" transform="translate(1059.1 806.8) scale(1 1.05)">500</text>
<text font-size="27.3" text-anchor="end" transform="translate(1059.1 1138.1) scale(1 1.05)">0</text>
<text font-size="27.3" text-anchor="middle" transform="translate(1083.5 1177) scale(1 1.05)">0</text>
<text font-size="27.3" text-anchor="middle" transform="translate(1419 1177) scale(1 1.05)">1000</text>
<text font-size="26.1" text-anchor="middle" transform="translate(1252.4 1177) scale(1 1.1)">Time (ms)</text>
<text font-size="25.9" text-anchor="middle" transform="translate(1043.5 963) rotate(-90) scale(1 1.1)">Flow (ml/s)</text>
</g>
<text x="1130" y="855" font-size="26.5" font-weight="bold" fill="#8c774c" text-anchor="middle">72ml</text>
<text x="1130" y="831.5" font-size="26.5" font-weight="bold" fill="#164b5e" text-anchor="middle">72ml</text>
<text x="1248.6" y="858.4" font-size="26.5" font-weight="bold" fill="#8c774c" text-anchor="middle">50ml</text>
<text x="1248.6" y="831.5" font-size="26.5" font-weight="bold" fill="#164b5e" text-anchor="middle">47ml</text>
<text x="1354.3" y="858.4" font-size="26.5" font-weight="bold" fill="#8c774c" text-anchor="middle">19ml</text>
<text x="1353.6" y="831.5" font-size="26.5" font-weight="bold" fill="#164b5e" text-anchor="middle">5ml</text>
<g>
<clipPath id="c9"><rect x="1503.1" y="803" width="339.5" height="332.6"/></clipPath>
<g clip-path="url(#c9)">
<path d="M1511.1 1056.7C1511.4 1052.1 1512.1 1039.5 1512.9 1028.9C1513.6 1018.4 1514.7 1005.1 1515.6 993.2C1516.5 981.2 1517.4 969.3 1518.3 957.4C1519.2 945.4 1520.1 932.3 1520.9 921.6C1521.8 910.8 1522.7 900.7 1523.6 892.9C1524.5 885.2 1525.4 879.2 1526.3 875.1C1527.2 870.9 1528.1 868.9 1529 867.9C1529.9 866.9 1530.8 867.6 1531.7 868.8C1532.6 870 1533.5 872.5 1534.4 875.1C1535.3 877.6 1536.2 881.5 1537.1 884C1537.9 886.5 1538.7 888.3 1539.7 890.3C1540.8 892.2 1542.1 893.8 1543.3 895.6C1544.5 897.4 1545.7 899.1 1546.9 901C1548.1 902.9 1549.3 904.4 1550.5 907.3C1551.7 910.1 1552.9 914.1 1554.1 918C1555.2 921.9 1556.4 926.4 1557.6 930.5C1558.8 934.7 1560 938.9 1561.2 943.1C1562.4 947.2 1563.6 952 1564.8 955.6C1566 959.2 1567.2 962.1 1568.4 964.5C1569.6 966.9 1570.8 968.3 1571.9 969.9C1573.1 971.5 1574.3 972.3 1575.5 974.4C1576.7 976.5 1577.9 978.4 1579.1 982.4C1580.3 986.4 1581.5 992.3 1582.7 998.5C1583.9 1004.8 1585.1 1012.5 1586.3 1020C1587.5 1027.5 1588.6 1035.8 1589.8 1043.3C1591 1050.7 1592.2 1058.2 1593.4 1064.7C1594.6 1071.3 1595.8 1077.6 1597 1082.6C1598.2 1087.7 1599.4 1091.9 1600.6 1095.2C1601.8 1098.4 1603 1100.5 1604.2 1102.3C1605.4 1104.1 1606.2 1105 1607.7 1105.9C1609.2 1106.8 1611.3 1107.4 1613.1 1107.7C1614.9 1108 1616.7 1107.7 1618.5 1107.7C1620.3 1107.7 1622.1 1107.5 1623.8 1107.7C1625.6 1107.8 1627.4 1108.3 1629.2 1108.6C1631 1108.9 1632.8 1109.2 1634.6 1109.5C1636.4 1109.8 1638.2 1110.1 1639.9 1110.4C1641.7 1110.6 1643.5 1110.9 1645.3 1110.9C1647.1 1110.9 1648.9 1110.7 1650.7 1110.4C1652.5 1110.1 1654.3 1109.5 1656.1 1109.1C1657.8 1108.7 1659.6 1108.2 1661.4 1108C1663.2 1107.9 1665 1107.9 1666.8 1108C1668.6 1108.2 1670.4 1108.6 1672.2 1109.1C1673.9 1109.7 1675.7 1110.6 1677.5 1111.3C1679.3 1111.9 1681.1 1112.5 1682.9 1113.1C1684.7 1113.6 1686.8 1114.2 1688.3 1114.5C1689.8 1114.7 1690.4 1114.7 1691.8 1114.5C1693.3 1114.2 1695.4 1113.5 1697.2 1113.1C1699 1112.6 1700.8 1111.9 1702.6 1111.6C1704.4 1111.4 1706.2 1111.2 1707.9 1111.6C1709.7 1112 1711.5 1113.2 1713.3 1113.9C1715.1 1114.7 1716.9 1115.7 1718.7 1116.3C1720.5 1116.9 1722.3 1117.2 1724.1 1117.5C1725.8 1117.9 1727.3 1118.1 1729.4 1118.4C1731.5 1118.7 1733.9 1119 1736.6 1119.3C1739.3 1119.6 1742.8 1120.1 1745.5 1120.2C1748.2 1120.4 1750.3 1120.4 1752.7 1120.2C1755.1 1120.1 1757.8 1119.9 1759.8 1119.3C1761.9 1118.7 1763.4 1117.4 1765.2 1116.6C1767 1115.8 1768.8 1115.1 1770.6 1114.5C1772.4 1113.9 1774.2 1113.4 1775.9 1113.1C1777.7 1112.7 1779.2 1112.5 1781.3 1112.2C1783.4 1111.8 1786.1 1111.4 1788.5 1110.9C1790.9 1110.4 1793.2 1109.7 1795.6 1109.1C1798 1108.6 1801.6 1107.9 1802.8 1107.7L1802.8 1133.6L1511.1 1133.6Z" fill="#8c774c" fill-opacity="0.29"/>
<path d="M1506.6 1105.9C1507.7 1106.8 1510.4 1109.8 1512.9 1111.3C1515.4 1112.8 1518.9 1114.1 1521.8 1114.8C1524.8 1115.6 1527.8 1115.6 1530.8 1115.7C1533.8 1115.9 1536.8 1115.9 1539.7 1115.7C1542.7 1115.5 1545.7 1114.7 1548.7 1114.5C1551.7 1114.3 1554.6 1114.4 1557.6 1114.5C1560.6 1114.5 1563.6 1114.8 1566.6 1114.8C1569.6 1114.8 1572.5 1114.7 1575.5 1114.5C1578.5 1114.2 1581.5 1113.6 1584.5 1113.4C1587.5 1113.2 1590.4 1113.3 1593.4 1113.1C1596.4 1112.8 1600 1112.8 1602.4 1112.2C1604.8 1111.6 1606.2 1110.8 1607.7 1109.5C1609.2 1108.1 1610.1 1106.2 1611.3 1104.1C1612.5 1102 1613.7 1099.3 1614.9 1096.9C1616.1 1094.6 1617.3 1091.6 1618.5 1089.8C1619.7 1087.9 1620.6 1086.9 1622.1 1085.9C1623.5 1084.8 1625.6 1084.4 1627.4 1083.5C1629.2 1082.7 1631.3 1083.1 1632.8 1080.8C1634.3 1078.6 1635.3 1074.9 1636.4 1070.1C1637.4 1065.3 1638.2 1058.5 1639.1 1052.2C1639.9 1045.9 1640.8 1038.5 1641.7 1032.5C1642.6 1026.6 1643.5 1020.6 1644.4 1016.4C1645.3 1012.2 1646.2 1009.9 1647.1 1007.5C1648 1005.1 1648.9 1003.3 1649.8 1002.1C1650.7 1000.9 1651.6 1000 1652.5 1000.3C1653.4 1000.6 1654.3 1002.1 1655.2 1003.9C1656.1 1005.7 1656.9 1008.7 1657.8 1011.1C1658.7 1013.4 1659.6 1016 1660.5 1018.2C1661.4 1020.4 1662.2 1022.4 1663.2 1024.5C1664.3 1026.6 1665.6 1028.8 1666.8 1030.7C1668 1032.7 1668.9 1034.3 1670.4 1036.1C1671.9 1037.9 1673.9 1039.7 1675.7 1041.5C1677.5 1043.3 1679.3 1044.9 1681.1 1046.8C1682.9 1048.8 1684.7 1051 1686.5 1053.1C1688.3 1055.2 1690.1 1056.8 1691.8 1059.4C1693.6 1061.9 1695.4 1065 1697.2 1068.3C1699 1071.6 1700.8 1075.5 1702.6 1079.1C1704.4 1082.6 1706.5 1086.5 1707.9 1089.8C1709.4 1093.1 1710.3 1095.8 1711.5 1098.7C1712.7 1101.7 1713.9 1105.3 1715.1 1107.7C1716.3 1110.1 1717.5 1111.7 1718.7 1113.1C1719.9 1114.4 1720.8 1115.4 1722.3 1115.7C1723.8 1116 1726.1 1115.9 1727.6 1114.8C1729.1 1113.8 1730 1111.9 1731.2 1109.5C1732.4 1107.1 1733.6 1103.8 1734.8 1100.5C1736 1097.2 1737.2 1093.1 1738.4 1089.8C1739.6 1086.5 1740.8 1083.5 1741.9 1080.8C1743.1 1078.2 1744 1075.6 1745.5 1073.7C1747 1071.7 1749.1 1070.4 1750.9 1069.2C1752.7 1068 1754.5 1067.3 1756.3 1066.5C1758.1 1065.8 1759.8 1065.6 1761.6 1064.7C1763.4 1063.8 1765.2 1062.9 1767 1061.2C1768.8 1059.4 1770.7 1056.5 1772.4 1054C1774 1051.5 1775.4 1048.6 1776.8 1045.9C1778.3 1043.3 1780 1040.3 1781.3 1037.9C1782.7 1035.5 1783.9 1032.9 1784.9 1031.6C1785.9 1030.4 1786.7 1030.1 1787.6 1030.4C1788.5 1030.7 1789.4 1031.6 1790.3 1033.4C1791.2 1035.3 1792.1 1038.3 1792.9 1041.5C1793.8 1044.6 1794.7 1048.3 1795.6 1052.2C1796.5 1056.1 1797.4 1060.9 1798.3 1064.7C1799.2 1068.6 1800.3 1072.3 1801 1075.5C1801.7 1078.6 1802.5 1082.2 1802.8 1083.5L1802.8 1133.6L1506.6 1133.6Z" fill="#8c774c" fill-opacity="0.29"/>
<path d="M1506.6 1092.5C1507.1 1090.5 1508.3 1086.1 1509.3 1080.8C1510.4 1075.6 1511.7 1068.6 1512.9 1061.2C1514.1 1053.7 1515.3 1045.1 1516.5 1036.1C1517.7 1027.2 1518.9 1017.6 1520.1 1007.5C1521.2 997.3 1522.4 986.6 1523.6 975.3C1524.8 963.9 1526 950.8 1527.2 939.5C1528.4 928.1 1529.7 915.6 1530.8 907.3C1531.8 898.9 1532.6 894 1533.5 889.4C1534.4 884.7 1535.3 881.6 1536.2 879.5C1537.1 877.4 1537.9 877 1538.8 876.8C1539.7 876.7 1540.6 877.6 1541.5 878.6C1542.4 879.7 1543.3 881.6 1544.2 883.1C1545.1 884.6 1545.9 886.3 1546.9 887.6C1547.9 888.9 1549.3 890 1550.5 890.8C1551.7 891.6 1552.9 891.8 1554.1 892.6C1555.2 893.4 1556.4 894.1 1557.6 895.6C1558.8 897.2 1560 899.1 1561.2 901.9C1562.4 904.7 1563.6 908.8 1564.8 912.6C1566 916.5 1567.2 921 1568.4 925.2C1569.6 929.3 1570.8 933.8 1571.9 937.7C1573.1 941.6 1574.3 945.3 1575.5 948.4C1576.7 951.6 1577.9 954.2 1579.1 956.5C1580.3 958.7 1581.5 960.2 1582.7 961.8C1583.9 963.5 1585.1 964.4 1586.3 966.3C1587.5 968.3 1588.6 970.8 1589.8 973.5C1591 976.2 1592.2 978.8 1593.4 982.4C1594.6 986 1595.8 990.2 1597 994.9C1598.2 999.7 1599.4 1005.1 1600.6 1011.1C1601.8 1017 1603 1023.9 1604.2 1030.7C1605.4 1037.6 1606.5 1045.1 1607.7 1052.2C1608.9 1059.4 1610.1 1067.4 1611.3 1073.7C1612.5 1079.9 1613.7 1085.5 1614.9 1089.8C1616.1 1094.1 1617.3 1097.4 1618.5 1099.6C1619.7 1101.9 1620.9 1102.5 1622.1 1103.2C1623.2 1104 1624.1 1104.1 1625.6 1104.1C1627.1 1104.1 1629.2 1103.4 1631 1103.2C1632.8 1103 1634.6 1102.5 1636.4 1102.7C1638.2 1102.8 1639.9 1103.3 1641.7 1104.1C1643.5 1104.9 1645.3 1106.2 1647.1 1107.7C1648.9 1109.2 1650.7 1111.3 1652.5 1113.1C1654.3 1114.8 1656.1 1116.9 1657.8 1118.4C1659.6 1120 1661.6 1121.5 1663.2 1122.4C1664.9 1123.3 1666.2 1123.8 1667.7 1123.8C1669.2 1123.7 1670.8 1122.9 1672.2 1122C1673.5 1121.1 1674.5 1119.7 1675.7 1118.4C1676.9 1117.2 1677.8 1115.5 1679.3 1114.5C1680.8 1113.4 1682.9 1112.6 1684.7 1112.2C1686.5 1111.7 1688 1111.8 1690.1 1111.6C1692.1 1111.5 1694.8 1111.5 1697.2 1111.3C1699.6 1111.1 1702 1110.7 1704.4 1110.4C1706.8 1110.1 1709.4 1109.7 1711.5 1109.5C1713.6 1109.3 1715.1 1108.8 1716.9 1109.1C1718.7 1109.4 1720.5 1110.2 1722.3 1111.3C1724.1 1112.4 1725.8 1114.7 1727.6 1115.7C1729.4 1116.8 1731.2 1117.4 1733 1117.5C1734.8 1117.7 1736.6 1117.4 1738.4 1116.6C1740.2 1115.9 1741.9 1113.9 1743.7 1113.1C1745.5 1112.2 1747.3 1111.3 1749.1 1111.3C1750.9 1111.3 1752.7 1112.2 1754.5 1113.1C1756.3 1113.9 1758.5 1115.7 1759.8 1116.6C1761.2 1117.5 1762.1 1118.1 1762.5 1118.4L1762.5 1133.6L1506.6 1133.6Z" fill="#164b5e" fill-opacity="0.27"/>
<path d="M1506.6 1105C1507.7 1105.4 1510.4 1106.6 1512.9 1107.7C1515.4 1108.8 1518.9 1110.7 1521.8 1111.6C1524.8 1112.6 1527.8 1113 1530.8 1113.4C1533.8 1113.8 1536.8 1113.9 1539.7 1113.9C1542.7 1114 1545.7 1114.1 1548.7 1113.9C1551.7 1113.8 1554.6 1113.4 1557.6 1113.1C1560.6 1112.7 1563.6 1112.2 1566.6 1111.6C1569.6 1111 1572.5 1109.5 1575.5 1109.5C1578.5 1109.4 1581.5 1110.7 1584.5 1111.3C1587.5 1111.9 1590.4 1112.5 1593.4 1113.1C1596.4 1113.6 1599.7 1114.3 1602.4 1114.5C1605.1 1114.6 1607.4 1114.6 1609.5 1113.9C1611.6 1113.3 1613.1 1112.3 1614.9 1110.4C1616.7 1108.4 1618.5 1104.4 1620.3 1102.3C1622.1 1100.2 1623.8 1098.7 1625.6 1097.8C1627.4 1096.9 1629.2 1097.1 1631 1096.9C1632.8 1096.8 1634.9 1097.8 1636.4 1096.9C1637.9 1096.1 1638.8 1094.9 1639.9 1091.6C1641.1 1088.3 1642.3 1082.3 1643.5 1077.3C1644.7 1072.2 1645.9 1066.8 1647.1 1061.2C1648.3 1055.5 1649.5 1049.2 1650.7 1043.3C1651.9 1037.3 1653.1 1030.4 1654.3 1025.4C1655.5 1020.3 1656.6 1015.8 1657.8 1012.8C1659 1009.9 1660.2 1008.6 1661.4 1007.5C1662.6 1006.3 1663.8 1006.1 1665 1006C1666.2 1006 1667.4 1006.3 1668.6 1007.1C1669.8 1008 1671 1009.2 1672.2 1011.1C1673.4 1012.9 1674.2 1015.5 1675.7 1018.2C1677.2 1020.9 1679.3 1024.3 1681.1 1027.2C1682.9 1030 1684.7 1032.7 1686.5 1035.2C1688.3 1037.7 1690.1 1040.3 1691.8 1042.4C1693.6 1044.5 1695.4 1045.8 1697.2 1047.7C1699 1049.7 1700.8 1051.2 1702.6 1054C1704.4 1056.8 1706.5 1060.9 1707.9 1064.7C1709.4 1068.6 1710.3 1072.8 1711.5 1077.3C1712.7 1081.7 1713.9 1087.1 1715.1 1091.6C1716.3 1096.1 1717.5 1100.5 1718.7 1104.1C1719.9 1107.7 1721.1 1111 1722.3 1113.1C1723.5 1115.1 1724.6 1116.6 1725.8 1116.6C1727 1116.6 1727.9 1115.1 1729.4 1113.1C1730.9 1111 1733 1106.5 1734.8 1104.1C1736.6 1101.7 1738.4 1100.5 1740.2 1098.7C1741.9 1096.9 1743.7 1095.5 1745.5 1093.4C1747.3 1091.3 1749.1 1089.2 1750.9 1086.2C1752.7 1083.2 1754.6 1078.5 1756.3 1075.5C1757.9 1072.5 1759.7 1069.8 1760.7 1068.3C1761.8 1066.8 1762.2 1066.8 1762.5 1066.5L1762.5 1133.6L1506.6 1133.6Z" fill="#164b5e" fill-opacity="0.27"/>
</g>
<path d="M1840.6 803V1152.1M1505.1 803V1152.1" fill="none" stroke="#686868" stroke-width="2.1"/>
<path d="M1485.9 803H1841.6M1485.9 1133.6H1841.6" fill="none" stroke="#363636" stroke-width="1.7"/>
<path d="M1505.1 1133.6H1802" stroke="#0d0d0d" stroke-width="1.9"/>
<path d="M1495.1 968.7H1505.1" stroke="#363636" stroke-width="1.7"/>
<g clip-path="url(#c9)">
<path d="M1511.1 1056.7C1511.4 1052.1 1512.1 1039.5 1512.9 1028.9C1513.6 1018.4 1514.7 1005.1 1515.6 993.2C1516.5 981.2 1517.4 969.3 1518.3 957.4C1519.2 945.4 1520.1 932.3 1520.9 921.6C1521.8 910.8 1522.7 900.7 1523.6 892.9C1524.5 885.2 1525.4 879.2 1526.3 875.1C1527.2 870.9 1528.1 868.9 1529 867.9C1529.9 866.9 1530.8 867.6 1531.7 868.8C1532.6 870 1533.5 872.5 1534.4 875.1C1535.3 877.6 1536.2 881.5 1537.1 884C1537.9 886.5 1538.7 888.3 1539.7 890.3C1540.8 892.2 1542.1 893.8 1543.3 895.6C1544.5 897.4 1545.7 899.1 1546.9 901C1548.1 902.9 1549.3 904.4 1550.5 907.3C1551.7 910.1 1552.9 914.1 1554.1 918C1555.2 921.9 1556.4 926.4 1557.6 930.5C1558.8 934.7 1560 938.9 1561.2 943.1C1562.4 947.2 1563.6 952 1564.8 955.6C1566 959.2 1567.2 962.1 1568.4 964.5C1569.6 966.9 1570.8 968.3 1571.9 969.9C1573.1 971.5 1574.3 972.3 1575.5 974.4C1576.7 976.5 1577.9 978.4 1579.1 982.4C1580.3 986.4 1581.5 992.3 1582.7 998.5C1583.9 1004.8 1585.1 1012.5 1586.3 1020C1587.5 1027.5 1588.6 1035.8 1589.8 1043.3C1591 1050.7 1592.2 1058.2 1593.4 1064.7C1594.6 1071.3 1595.8 1077.6 1597 1082.6C1598.2 1087.7 1599.4 1091.9 1600.6 1095.2C1601.8 1098.4 1603 1100.5 1604.2 1102.3C1605.4 1104.1 1606.2 1105 1607.7 1105.9C1609.2 1106.8 1611.3 1107.4 1613.1 1107.7C1614.9 1108 1616.7 1107.7 1618.5 1107.7C1620.3 1107.7 1622.1 1107.5 1623.8 1107.7C1625.6 1107.8 1627.4 1108.3 1629.2 1108.6C1631 1108.9 1632.8 1109.2 1634.6 1109.5C1636.4 1109.8 1638.2 1110.1 1639.9 1110.4C1641.7 1110.6 1643.5 1110.9 1645.3 1110.9C1647.1 1110.9 1648.9 1110.7 1650.7 1110.4C1652.5 1110.1 1654.3 1109.5 1656.1 1109.1C1657.8 1108.7 1659.6 1108.2 1661.4 1108C1663.2 1107.9 1665 1107.9 1666.8 1108C1668.6 1108.2 1670.4 1108.6 1672.2 1109.1C1673.9 1109.7 1675.7 1110.6 1677.5 1111.3C1679.3 1111.9 1681.1 1112.5 1682.9 1113.1C1684.7 1113.6 1686.8 1114.2 1688.3 1114.5C1689.8 1114.7 1690.4 1114.7 1691.8 1114.5C1693.3 1114.2 1695.4 1113.5 1697.2 1113.1C1699 1112.6 1700.8 1111.9 1702.6 1111.6C1704.4 1111.4 1706.2 1111.2 1707.9 1111.6C1709.7 1112 1711.5 1113.2 1713.3 1113.9C1715.1 1114.7 1716.9 1115.7 1718.7 1116.3C1720.5 1116.9 1722.3 1117.2 1724.1 1117.5C1725.8 1117.9 1727.3 1118.1 1729.4 1118.4C1731.5 1118.7 1733.9 1119 1736.6 1119.3C1739.3 1119.6 1742.8 1120.1 1745.5 1120.2C1748.2 1120.4 1750.3 1120.4 1752.7 1120.2C1755.1 1120.1 1757.8 1119.9 1759.8 1119.3C1761.9 1118.7 1763.4 1117.4 1765.2 1116.6C1767 1115.8 1768.8 1115.1 1770.6 1114.5C1772.4 1113.9 1774.2 1113.4 1775.9 1113.1C1777.7 1112.7 1779.2 1112.5 1781.3 1112.2C1783.4 1111.8 1786.1 1111.4 1788.5 1110.9C1790.9 1110.4 1793.2 1109.7 1795.6 1109.1C1798 1108.6 1801.6 1107.9 1802.8 1107.7" fill="none" stroke="#8c774c" stroke-width="4.0" stroke-linecap="round" stroke-linejoin="round"/>
<path d="M1506.6 1105.9C1507.7 1106.8 1510.4 1109.8 1512.9 1111.3C1515.4 1112.8 1518.9 1114.1 1521.8 1114.8C1524.8 1115.6 1527.8 1115.6 1530.8 1115.7C1533.8 1115.9 1536.8 1115.9 1539.7 1115.7C1542.7 1115.5 1545.7 1114.7 1548.7 1114.5C1551.7 1114.3 1554.6 1114.4 1557.6 1114.5C1560.6 1114.5 1563.6 1114.8 1566.6 1114.8C1569.6 1114.8 1572.5 1114.7 1575.5 1114.5C1578.5 1114.2 1581.5 1113.6 1584.5 1113.4C1587.5 1113.2 1590.4 1113.3 1593.4 1113.1C1596.4 1112.8 1600 1112.8 1602.4 1112.2C1604.8 1111.6 1606.2 1110.8 1607.7 1109.5C1609.2 1108.1 1610.1 1106.2 1611.3 1104.1C1612.5 1102 1613.7 1099.3 1614.9 1096.9C1616.1 1094.6 1617.3 1091.6 1618.5 1089.8C1619.7 1087.9 1620.6 1086.9 1622.1 1085.9C1623.5 1084.8 1625.6 1084.4 1627.4 1083.5C1629.2 1082.7 1631.3 1083.1 1632.8 1080.8C1634.3 1078.6 1635.3 1074.9 1636.4 1070.1C1637.4 1065.3 1638.2 1058.5 1639.1 1052.2C1639.9 1045.9 1640.8 1038.5 1641.7 1032.5C1642.6 1026.6 1643.5 1020.6 1644.4 1016.4C1645.3 1012.2 1646.2 1009.9 1647.1 1007.5C1648 1005.1 1648.9 1003.3 1649.8 1002.1C1650.7 1000.9 1651.6 1000 1652.5 1000.3C1653.4 1000.6 1654.3 1002.1 1655.2 1003.9C1656.1 1005.7 1656.9 1008.7 1657.8 1011.1C1658.7 1013.4 1659.6 1016 1660.5 1018.2C1661.4 1020.4 1662.2 1022.4 1663.2 1024.5C1664.3 1026.6 1665.6 1028.8 1666.8 1030.7C1668 1032.7 1668.9 1034.3 1670.4 1036.1C1671.9 1037.9 1673.9 1039.7 1675.7 1041.5C1677.5 1043.3 1679.3 1044.9 1681.1 1046.8C1682.9 1048.8 1684.7 1051 1686.5 1053.1C1688.3 1055.2 1690.1 1056.8 1691.8 1059.4C1693.6 1061.9 1695.4 1065 1697.2 1068.3C1699 1071.6 1700.8 1075.5 1702.6 1079.1C1704.4 1082.6 1706.5 1086.5 1707.9 1089.8C1709.4 1093.1 1710.3 1095.8 1711.5 1098.7C1712.7 1101.7 1713.9 1105.3 1715.1 1107.7C1716.3 1110.1 1717.5 1111.7 1718.7 1113.1C1719.9 1114.4 1720.8 1115.4 1722.3 1115.7C1723.8 1116 1726.1 1115.9 1727.6 1114.8C1729.1 1113.8 1730 1111.9 1731.2 1109.5C1732.4 1107.1 1733.6 1103.8 1734.8 1100.5C1736 1097.2 1737.2 1093.1 1738.4 1089.8C1739.6 1086.5 1740.8 1083.5 1741.9 1080.8C1743.1 1078.2 1744 1075.6 1745.5 1073.7C1747 1071.7 1749.1 1070.4 1750.9 1069.2C1752.7 1068 1754.5 1067.3 1756.3 1066.5C1758.1 1065.8 1759.8 1065.6 1761.6 1064.7C1763.4 1063.8 1765.2 1062.9 1767 1061.2C1768.8 1059.4 1770.7 1056.5 1772.4 1054C1774 1051.5 1775.4 1048.6 1776.8 1045.9C1778.3 1043.3 1780 1040.3 1781.3 1037.9C1782.7 1035.5 1783.9 1032.9 1784.9 1031.6C1785.9 1030.4 1786.7 1030.1 1787.6 1030.4C1788.5 1030.7 1789.4 1031.6 1790.3 1033.4C1791.2 1035.3 1792.1 1038.3 1792.9 1041.5C1793.8 1044.6 1794.7 1048.3 1795.6 1052.2C1796.5 1056.1 1797.4 1060.9 1798.3 1064.7C1799.2 1068.6 1800.3 1072.3 1801 1075.5C1801.7 1078.6 1802.5 1082.2 1802.8 1083.5" fill="none" stroke="#8c774c" stroke-width="4.0" stroke-linecap="round" stroke-linejoin="round" stroke-dasharray="13.8 10.5"/>
<path d="M1506.6 1092.5C1507.1 1090.5 1508.3 1086.1 1509.3 1080.8C1510.4 1075.6 1511.7 1068.6 1512.9 1061.2C1514.1 1053.7 1515.3 1045.1 1516.5 1036.1C1517.7 1027.2 1518.9 1017.6 1520.1 1007.5C1521.2 997.3 1522.4 986.6 1523.6 975.3C1524.8 963.9 1526 950.8 1527.2 939.5C1528.4 928.1 1529.7 915.6 1530.8 907.3C1531.8 898.9 1532.6 894 1533.5 889.4C1534.4 884.7 1535.3 881.6 1536.2 879.5C1537.1 877.4 1537.9 877 1538.8 876.8C1539.7 876.7 1540.6 877.6 1541.5 878.6C1542.4 879.7 1543.3 881.6 1544.2 883.1C1545.1 884.6 1545.9 886.3 1546.9 887.6C1547.9 888.9 1549.3 890 1550.5 890.8C1551.7 891.6 1552.9 891.8 1554.1 892.6C1555.2 893.4 1556.4 894.1 1557.6 895.6C1558.8 897.2 1560 899.1 1561.2 901.9C1562.4 904.7 1563.6 908.8 1564.8 912.6C1566 916.5 1567.2 921 1568.4 925.2C1569.6 929.3 1570.8 933.8 1571.9 937.7C1573.1 941.6 1574.3 945.3 1575.5 948.4C1576.7 951.6 1577.9 954.2 1579.1 956.5C1580.3 958.7 1581.5 960.2 1582.7 961.8C1583.9 963.5 1585.1 964.4 1586.3 966.3C1587.5 968.3 1588.6 970.8 1589.8 973.5C1591 976.2 1592.2 978.8 1593.4 982.4C1594.6 986 1595.8 990.2 1597 994.9C1598.2 999.7 1599.4 1005.1 1600.6 1011.1C1601.8 1017 1603 1023.9 1604.2 1030.7C1605.4 1037.6 1606.5 1045.1 1607.7 1052.2C1608.9 1059.4 1610.1 1067.4 1611.3 1073.7C1612.5 1079.9 1613.7 1085.5 1614.9 1089.8C1616.1 1094.1 1617.3 1097.4 1618.5 1099.6C1619.7 1101.9 1620.9 1102.5 1622.1 1103.2C1623.2 1104 1624.1 1104.1 1625.6 1104.1C1627.1 1104.1 1629.2 1103.4 1631 1103.2C1632.8 1103 1634.6 1102.5 1636.4 1102.7C1638.2 1102.8 1639.9 1103.3 1641.7 1104.1C1643.5 1104.9 1645.3 1106.2 1647.1 1107.7C1648.9 1109.2 1650.7 1111.3 1652.5 1113.1C1654.3 1114.8 1656.1 1116.9 1657.8 1118.4C1659.6 1120 1661.6 1121.5 1663.2 1122.4C1664.9 1123.3 1666.2 1123.8 1667.7 1123.8C1669.2 1123.7 1670.8 1122.9 1672.2 1122C1673.5 1121.1 1674.5 1119.7 1675.7 1118.4C1676.9 1117.2 1677.8 1115.5 1679.3 1114.5C1680.8 1113.4 1682.9 1112.6 1684.7 1112.2C1686.5 1111.7 1688 1111.8 1690.1 1111.6C1692.1 1111.5 1694.8 1111.5 1697.2 1111.3C1699.6 1111.1 1702 1110.7 1704.4 1110.4C1706.8 1110.1 1709.4 1109.7 1711.5 1109.5C1713.6 1109.3 1715.1 1108.8 1716.9 1109.1C1718.7 1109.4 1720.5 1110.2 1722.3 1111.3C1724.1 1112.4 1725.8 1114.7 1727.6 1115.7C1729.4 1116.8 1731.2 1117.4 1733 1117.5C1734.8 1117.7 1736.6 1117.4 1738.4 1116.6C1740.2 1115.9 1741.9 1113.9 1743.7 1113.1C1745.5 1112.2 1747.3 1111.3 1749.1 1111.3C1750.9 1111.3 1752.7 1112.2 1754.5 1113.1C1756.3 1113.9 1758.5 1115.7 1759.8 1116.6C1761.2 1117.5 1762.1 1118.1 1762.5 1118.4" fill="none" stroke="#164b5e" stroke-width="4.8" stroke-linecap="round" stroke-linejoin="round"/>
<path d="M1506.6 1105C1507.7 1105.4 1510.4 1106.6 1512.9 1107.7C1515.4 1108.8 1518.9 1110.7 1521.8 1111.6C1524.8 1112.6 1527.8 1113 1530.8 1113.4C1533.8 1113.8 1536.8 1113.9 1539.7 1113.9C1542.7 1114 1545.7 1114.1 1548.7 1113.9C1551.7 1113.8 1554.6 1113.4 1557.6 1113.1C1560.6 1112.7 1563.6 1112.2 1566.6 1111.6C1569.6 1111 1572.5 1109.5 1575.5 1109.5C1578.5 1109.4 1581.5 1110.7 1584.5 1111.3C1587.5 1111.9 1590.4 1112.5 1593.4 1113.1C1596.4 1113.6 1599.7 1114.3 1602.4 1114.5C1605.1 1114.6 1607.4 1114.6 1609.5 1113.9C1611.6 1113.3 1613.1 1112.3 1614.9 1110.4C1616.7 1108.4 1618.5 1104.4 1620.3 1102.3C1622.1 1100.2 1623.8 1098.7 1625.6 1097.8C1627.4 1096.9 1629.2 1097.1 1631 1096.9C1632.8 1096.8 1634.9 1097.8 1636.4 1096.9C1637.9 1096.1 1638.8 1094.9 1639.9 1091.6C1641.1 1088.3 1642.3 1082.3 1643.5 1077.3C1644.7 1072.2 1645.9 1066.8 1647.1 1061.2C1648.3 1055.5 1649.5 1049.2 1650.7 1043.3C1651.9 1037.3 1653.1 1030.4 1654.3 1025.4C1655.5 1020.3 1656.6 1015.8 1657.8 1012.8C1659 1009.9 1660.2 1008.6 1661.4 1007.5C1662.6 1006.3 1663.8 1006.1 1665 1006C1666.2 1006 1667.4 1006.3 1668.6 1007.1C1669.8 1008 1671 1009.2 1672.2 1011.1C1673.4 1012.9 1674.2 1015.5 1675.7 1018.2C1677.2 1020.9 1679.3 1024.3 1681.1 1027.2C1682.9 1030 1684.7 1032.7 1686.5 1035.2C1688.3 1037.7 1690.1 1040.3 1691.8 1042.4C1693.6 1044.5 1695.4 1045.8 1697.2 1047.7C1699 1049.7 1700.8 1051.2 1702.6 1054C1704.4 1056.8 1706.5 1060.9 1707.9 1064.7C1709.4 1068.6 1710.3 1072.8 1711.5 1077.3C1712.7 1081.7 1713.9 1087.1 1715.1 1091.6C1716.3 1096.1 1717.5 1100.5 1718.7 1104.1C1719.9 1107.7 1721.1 1111 1722.3 1113.1C1723.5 1115.1 1724.6 1116.6 1725.8 1116.6C1727 1116.6 1727.9 1115.1 1729.4 1113.1C1730.9 1111 1733 1106.5 1734.8 1104.1C1736.6 1101.7 1738.4 1100.5 1740.2 1098.7C1741.9 1096.9 1743.7 1095.5 1745.5 1093.4C1747.3 1091.3 1749.1 1089.2 1750.9 1086.2C1752.7 1083.2 1754.6 1078.5 1756.3 1075.5C1757.9 1072.5 1759.7 1069.8 1760.7 1068.3C1761.8 1066.8 1762.2 1066.8 1762.5 1066.5" fill="none" stroke="#164b5e" stroke-width="4.8" stroke-linecap="round" stroke-linejoin="round" stroke-dasharray="13.8 10.5"/>
</g>
<text font-size="27.3" text-anchor="end" transform="translate(1480.6 811.6) scale(1 1.05)">150</text>
<text font-size="27.3" text-anchor="end" transform="translate(1480.6 1142.2) scale(1 1.05)">0</text>
<text font-size="27.3" text-anchor="middle" transform="translate(1505.1 1181.7) scale(1 1.05)">0</text>
<text font-size="27.3" text-anchor="middle" transform="translate(1840.6 1181.7) scale(1 1.05)">1000</text>
<text font-size="26.1" text-anchor="middle" transform="translate(1673.1 1181.7) scale(1 1.1)">Time (ms)</text>
<text font-size="25.9" text-anchor="middle" transform="translate(1468.7 968.7) rotate(-90) scale(1 1.1)">Velocity (cm/s)</text>
</g>
<g>
<clipPath id="c10"><rect x="1092.8" y="1268" width="340" height="333.3"/></clipPath>
<g clip-path="url(#c10)">
<path d="M1102 1548.3C1102.3 1545.6 1103 1538.8 1103.8 1532.2C1104.5 1525.6 1105.6 1516.4 1106.5 1508.9C1107.4 1501.5 1108.3 1494.6 1109.2 1487.5C1110.1 1480.3 1110.9 1473.2 1111.8 1466C1112.7 1458.8 1113.6 1451.7 1114.5 1444.5C1115.4 1437.4 1116.3 1429.6 1117.2 1423.1C1118.1 1416.5 1119 1410.2 1119.9 1405.2C1120.8 1400.1 1121.7 1396.1 1122.6 1392.6C1123.5 1389.2 1124.4 1386.4 1125.3 1384.6C1126.2 1382.8 1127.1 1382.2 1127.9 1381.9C1128.8 1381.6 1129.7 1381.6 1130.6 1382.8C1131.5 1384 1132.4 1386.2 1133.3 1389.1C1134.2 1391.9 1135.1 1396.2 1136 1399.8C1136.9 1403.4 1137.6 1406.6 1138.7 1410.5C1139.7 1414.4 1141.1 1419.2 1142.3 1423.1C1143.5 1426.9 1144.6 1430.2 1145.8 1433.8C1147 1437.4 1148.2 1440.4 1149.4 1444.5C1150.6 1448.7 1151.8 1453.5 1153 1458.8C1154.2 1464.2 1155.4 1470.2 1156.6 1476.7C1157.8 1483.3 1159 1490.5 1160.2 1498.2C1161.4 1506 1162.5 1514.9 1163.7 1523.3C1164.9 1531.6 1166.1 1540.9 1167.3 1548.3C1168.5 1555.8 1169.7 1562.8 1170.9 1568C1172.1 1573.2 1173.3 1576.8 1174.5 1579.6C1175.7 1582.5 1176.9 1583.7 1178.1 1585C1179.2 1586.3 1180.4 1586.9 1181.6 1587.7C1182.8 1588.4 1184 1588.7 1185.2 1589.5C1186.4 1590.2 1187.6 1591.3 1188.8 1592.2C1190 1593.1 1191.2 1594 1192.4 1594.8C1193.6 1595.6 1194.8 1596.5 1195.9 1597C1197.1 1597.5 1198.3 1598 1199.5 1598.1C1200.7 1598.2 1201.9 1597.9 1203.1 1597.5C1204.3 1597.1 1205.5 1596.2 1206.7 1595.7C1207.9 1595.2 1209.1 1594.6 1210.3 1594.5C1211.5 1594.3 1212.6 1594.6 1213.8 1594.8C1215 1595.1 1216.2 1595.4 1217.4 1595.7C1218.6 1596 1219.8 1596.6 1221 1596.6C1222.2 1596.6 1223.5 1596.6 1224.6 1595.7C1225.6 1594.8 1226.4 1593.5 1227.3 1591.3C1228.2 1589 1229.1 1585.3 1229.9 1582.3C1230.8 1579.3 1231.7 1576.1 1232.6 1573.4C1233.5 1570.7 1234.4 1568.1 1235.3 1566.2C1236.2 1564.3 1237.1 1562.9 1238 1561.7C1238.9 1560.6 1239.8 1559.9 1240.7 1559.4C1241.6 1558.9 1242.5 1558.6 1243.4 1558.7C1244.3 1558.8 1245 1559.1 1246.1 1559.9C1247.1 1560.8 1248.4 1562.3 1249.6 1563.5C1250.8 1564.7 1252 1566.1 1253.2 1567.1C1254.4 1568.1 1255.6 1569 1256.8 1569.8C1258 1570.5 1258.9 1570.8 1260.4 1571.6C1261.9 1572.3 1263.9 1573.2 1265.7 1574.3C1267.5 1575.3 1269.3 1576.6 1271.1 1577.8C1272.9 1579 1274.7 1580.4 1276.5 1581.4C1278.3 1582.5 1280.1 1583.3 1281.8 1584.1C1283.6 1584.9 1285.4 1585.7 1287.2 1586.3C1289 1586.8 1290.5 1587.3 1292.6 1587.7C1294.7 1588.1 1297.4 1588.3 1299.7 1588.6C1302.1 1588.8 1304.5 1589.1 1306.9 1589.1C1309.3 1589.1 1312 1588.8 1314.1 1588.6C1316.1 1588.3 1317.6 1587.7 1319.4 1587.7C1321.2 1587.7 1323 1588.1 1324.8 1588.6C1326.6 1589 1328.4 1590 1330.2 1590.4C1331.9 1590.8 1333.7 1591.1 1335.5 1590.9C1337.3 1590.8 1339.1 1590.2 1340.9 1589.5C1342.7 1588.8 1344.5 1587.3 1346.3 1586.8C1348.1 1586.3 1349.8 1586.2 1351.6 1586.3C1353.4 1586.3 1355.5 1587.4 1357 1587.3C1358.5 1587.3 1359.4 1587 1360.6 1585.9C1361.8 1584.8 1363 1582.9 1364.2 1580.5C1365.4 1578.1 1366.5 1574.6 1367.7 1571.6C1368.9 1568.6 1370.1 1565.3 1371.3 1562.6C1372.5 1560 1373.7 1557.6 1374.9 1555.8C1376.1 1554.1 1377.4 1553 1378.5 1552.3C1379.5 1551.5 1380.3 1551.4 1381.2 1551.5C1382.1 1551.7 1382.8 1552.3 1383.8 1553.3C1384.9 1554.3 1386.4 1556.1 1387.4 1557.6C1388.5 1559.2 1389.2 1561.1 1390.1 1562.6C1391 1564.2 1392.3 1566.4 1392.8 1567.1L1392.8 1599.3L1102 1599.3Z" fill="#8c774c" fill-opacity="0.29"/>
<path d="M1096.1 1576.9C1096.6 1577 1098.3 1577.3 1099.3 1577.3C1100.3 1577.3 1101.1 1577.9 1102 1576.9C1102.9 1576 1103.8 1574.3 1104.7 1571.6C1105.6 1568.9 1106.5 1565.9 1107.4 1560.8C1108.3 1555.8 1109.2 1549.2 1110.1 1541.2C1110.9 1533.1 1111.8 1522.7 1112.7 1512.5C1113.6 1502.4 1114.5 1491.4 1115.4 1480.3C1116.3 1469.3 1117.2 1457.4 1118.1 1446.3C1119 1435.3 1119.9 1423.9 1120.8 1414.1C1121.7 1404.3 1122.6 1394.3 1123.5 1387.3C1124.4 1380.3 1125.3 1375.2 1126.2 1372.1C1127.1 1368.9 1127.9 1368.8 1128.8 1368.5C1129.7 1368.2 1130.6 1368.6 1131.5 1370.3C1132.4 1371.9 1133.3 1375.2 1134.2 1378.3C1135.1 1381.4 1135.9 1385.2 1136.9 1389.1C1137.9 1392.9 1139.3 1397.4 1140.5 1401.6C1141.7 1405.8 1142.9 1410.2 1144.1 1414.1C1145.2 1418 1146.4 1421 1147.6 1424.8C1148.8 1428.7 1150 1433.2 1151.2 1437.4C1152.4 1441.5 1153.6 1445.4 1154.8 1449.9C1156 1454.4 1157.2 1459.4 1158.4 1464.2C1159.6 1469 1160.8 1473.5 1161.9 1478.5C1163.1 1483.6 1164.3 1489.3 1165.5 1494.6C1166.7 1500 1167.9 1505.7 1169.1 1510.7C1170.3 1515.8 1171.5 1520.6 1172.7 1525.1C1173.9 1529.5 1175.1 1533.7 1176.3 1537.6C1177.5 1541.5 1178.6 1545 1179.8 1548.3C1181 1551.6 1182.2 1554.6 1183.4 1557.3C1184.6 1559.9 1185.8 1562 1187 1564.4C1188.2 1566.8 1189.4 1569.3 1190.6 1571.6C1191.8 1573.8 1193 1575.8 1194.2 1577.8C1195.4 1579.9 1196.5 1582.2 1197.7 1584.1C1198.9 1586 1200.1 1588 1201.3 1589.5C1202.5 1591 1203.4 1592.1 1204.9 1593.1C1206.4 1594 1208.5 1594.6 1210.3 1595.2C1212.1 1595.8 1213.8 1596.2 1215.6 1596.6C1217.4 1597 1219.2 1597.4 1221 1597.5C1222.8 1597.7 1224.9 1597.8 1226.4 1597.5C1227.9 1597.2 1228.8 1596.6 1229.9 1595.7C1231.1 1594.8 1232.3 1593.8 1233.5 1592.2C1234.7 1590.5 1235.9 1588.1 1237.1 1585.9C1238.3 1583.7 1239.5 1581.4 1240.7 1578.7C1241.9 1576.1 1243.1 1572.8 1244.3 1569.8C1245.5 1566.8 1246.6 1563.5 1247.8 1560.8C1249 1558.2 1250.2 1555.5 1251.4 1553.7C1252.6 1551.8 1253.8 1550.8 1255 1549.7C1256.2 1548.7 1257.4 1547.9 1258.6 1547.4C1259.8 1546.9 1261 1546.8 1262.2 1546.9C1263.4 1547 1264.5 1547.3 1265.7 1548C1266.9 1548.6 1268.1 1549.6 1269.3 1551C1270.5 1552.4 1271.7 1554.4 1272.9 1556.4C1274.1 1558.3 1275.3 1560.5 1276.5 1562.6C1277.7 1564.7 1278.9 1567 1280.1 1568.9C1281.2 1570.8 1282.4 1572.8 1283.6 1574.3C1284.8 1575.8 1285.7 1576.7 1287.2 1577.8C1288.7 1578.9 1290.8 1580.1 1292.6 1580.9C1294.4 1581.6 1296.2 1581.8 1297.9 1582.3C1299.7 1582.8 1301.5 1583.2 1303.3 1583.7C1305.1 1584.3 1306.9 1584.9 1308.7 1585.5C1310.5 1586.1 1312.3 1586.8 1314.1 1587.3C1315.8 1587.8 1317.6 1588.3 1319.4 1588.6C1321.2 1588.9 1323 1589 1324.8 1589.1C1326.6 1589.2 1328.4 1589.4 1330.2 1589.1C1331.9 1588.9 1333.7 1588.5 1335.5 1587.7C1337.3 1586.8 1339.1 1585.4 1340.9 1584.1C1342.7 1582.8 1344.8 1580.8 1346.3 1579.6C1347.8 1578.4 1348.9 1577.5 1349.8 1576.9C1350.8 1576.4 1351.6 1576.2 1352 1576.1L1352 1599.3L1096.1 1599.3Z" fill="#164b5e" fill-opacity="0.27"/>
</g>
<path d="M1430.8 1268V1617.8M1094.8 1268V1617.8" fill="none" stroke="#686868" stroke-width="2.1"/>
<path d="M1075.6 1268H1431.8M1075.6 1599.3H1431.8" fill="none" stroke="#363636" stroke-width="1.7"/>
<path d="M1094.8 1599.3H1393" stroke="#0d0d0d" stroke-width="1.9"/>
<g clip-path="url(#c10)">
<path d="M1102 1548.3C1102.3 1545.6 1103 1538.8 1103.8 1532.2C1104.5 1525.6 1105.6 1516.4 1106.5 1508.9C1107.4 1501.5 1108.3 1494.6 1109.2 1487.5C1110.1 1480.3 1110.9 1473.2 1111.8 1466C1112.7 1458.8 1113.6 1451.7 1114.5 1444.5C1115.4 1437.4 1116.3 1429.6 1117.2 1423.1C1118.1 1416.5 1119 1410.2 1119.9 1405.2C1120.8 1400.1 1121.7 1396.1 1122.6 1392.6C1123.5 1389.2 1124.4 1386.4 1125.3 1384.6C1126.2 1382.8 1127.1 1382.2 1127.9 1381.9C1128.8 1381.6 1129.7 1381.6 1130.6 1382.8C1131.5 1384 1132.4 1386.2 1133.3 1389.1C1134.2 1391.9 1135.1 1396.2 1136 1399.8C1136.9 1403.4 1137.6 1406.6 1138.7 1410.5C1139.7 1414.4 1141.1 1419.2 1142.3 1423.1C1143.5 1426.9 1144.6 1430.2 1145.8 1433.8C1147 1437.4 1148.2 1440.4 1149.4 1444.5C1150.6 1448.7 1151.8 1453.5 1153 1458.8C1154.2 1464.2 1155.4 1470.2 1156.6 1476.7C1157.8 1483.3 1159 1490.5 1160.2 1498.2C1161.4 1506 1162.5 1514.9 1163.7 1523.3C1164.9 1531.6 1166.1 1540.9 1167.3 1548.3C1168.5 1555.8 1169.7 1562.8 1170.9 1568C1172.1 1573.2 1173.3 1576.8 1174.5 1579.6C1175.7 1582.5 1176.9 1583.7 1178.1 1585C1179.2 1586.3 1180.4 1586.9 1181.6 1587.7C1182.8 1588.4 1184 1588.7 1185.2 1589.5C1186.4 1590.2 1187.6 1591.3 1188.8 1592.2C1190 1593.1 1191.2 1594 1192.4 1594.8C1193.6 1595.6 1194.8 1596.5 1195.9 1597C1197.1 1597.5 1198.3 1598 1199.5 1598.1C1200.7 1598.2 1201.9 1597.9 1203.1 1597.5C1204.3 1597.1 1205.5 1596.2 1206.7 1595.7C1207.9 1595.2 1209.1 1594.6 1210.3 1594.5C1211.5 1594.3 1212.6 1594.6 1213.8 1594.8C1215 1595.1 1216.2 1595.4 1217.4 1595.7C1218.6 1596 1219.8 1596.6 1221 1596.6C1222.2 1596.6 1223.5 1596.6 1224.6 1595.7C1225.6 1594.8 1226.4 1593.5 1227.3 1591.3C1228.2 1589 1229.1 1585.3 1229.9 1582.3C1230.8 1579.3 1231.7 1576.1 1232.6 1573.4C1233.5 1570.7 1234.4 1568.1 1235.3 1566.2C1236.2 1564.3 1237.1 1562.9 1238 1561.7C1238.9 1560.6 1239.8 1559.9 1240.7 1559.4C1241.6 1558.9 1242.5 1558.6 1243.4 1558.7C1244.3 1558.8 1245 1559.1 1246.1 1559.9C1247.1 1560.8 1248.4 1562.3 1249.6 1563.5C1250.8 1564.7 1252 1566.1 1253.2 1567.1C1254.4 1568.1 1255.6 1569 1256.8 1569.8C1258 1570.5 1258.9 1570.8 1260.4 1571.6C1261.9 1572.3 1263.9 1573.2 1265.7 1574.3C1267.5 1575.3 1269.3 1576.6 1271.1 1577.8C1272.9 1579 1274.7 1580.4 1276.5 1581.4C1278.3 1582.5 1280.1 1583.3 1281.8 1584.1C1283.6 1584.9 1285.4 1585.7 1287.2 1586.3C1289 1586.8 1290.5 1587.3 1292.6 1587.7C1294.7 1588.1 1297.4 1588.3 1299.7 1588.6C1302.1 1588.8 1304.5 1589.1 1306.9 1589.1C1309.3 1589.1 1312 1588.8 1314.1 1588.6C1316.1 1588.3 1317.6 1587.7 1319.4 1587.7C1321.2 1587.7 1323 1588.1 1324.8 1588.6C1326.6 1589 1328.4 1590 1330.2 1590.4C1331.9 1590.8 1333.7 1591.1 1335.5 1590.9C1337.3 1590.8 1339.1 1590.2 1340.9 1589.5C1342.7 1588.8 1344.5 1587.3 1346.3 1586.8C1348.1 1586.3 1349.8 1586.2 1351.6 1586.3C1353.4 1586.3 1355.5 1587.4 1357 1587.3C1358.5 1587.3 1359.4 1587 1360.6 1585.9C1361.8 1584.8 1363 1582.9 1364.2 1580.5C1365.4 1578.1 1366.5 1574.6 1367.7 1571.6C1368.9 1568.6 1370.1 1565.3 1371.3 1562.6C1372.5 1560 1373.7 1557.6 1374.9 1555.8C1376.1 1554.1 1377.4 1553 1378.5 1552.3C1379.5 1551.5 1380.3 1551.4 1381.2 1551.5C1382.1 1551.7 1382.8 1552.3 1383.8 1553.3C1384.9 1554.3 1386.4 1556.1 1387.4 1557.6C1388.5 1559.2 1389.2 1561.1 1390.1 1562.6C1391 1564.2 1392.3 1566.4 1392.8 1567.1" fill="none" stroke="#8c774c" stroke-width="4.0" stroke-linecap="round" stroke-linejoin="round"/>
<path d="M1096.1 1576.9C1096.6 1577 1098.3 1577.3 1099.3 1577.3C1100.3 1577.3 1101.1 1577.9 1102 1576.9C1102.9 1576 1103.8 1574.3 1104.7 1571.6C1105.6 1568.9 1106.5 1565.9 1107.4 1560.8C1108.3 1555.8 1109.2 1549.2 1110.1 1541.2C1110.9 1533.1 1111.8 1522.7 1112.7 1512.5C1113.6 1502.4 1114.5 1491.4 1115.4 1480.3C1116.3 1469.3 1117.2 1457.4 1118.1 1446.3C1119 1435.3 1119.9 1423.9 1120.8 1414.1C1121.7 1404.3 1122.6 1394.3 1123.5 1387.3C1124.4 1380.3 1125.3 1375.2 1126.2 1372.1C1127.1 1368.9 1127.9 1368.8 1128.8 1368.5C1129.7 1368.2 1130.6 1368.6 1131.5 1370.3C1132.4 1371.9 1133.3 1375.2 1134.2 1378.3C1135.1 1381.4 1135.9 1385.2 1136.9 1389.1C1137.9 1392.9 1139.3 1397.4 1140.5 1401.6C1141.7 1405.8 1142.9 1410.2 1144.1 1414.1C1145.2 1418 1146.4 1421 1147.6 1424.8C1148.8 1428.7 1150 1433.2 1151.2 1437.4C1152.4 1441.5 1153.6 1445.4 1154.8 1449.9C1156 1454.4 1157.2 1459.4 1158.4 1464.2C1159.6 1469 1160.8 1473.5 1161.9 1478.5C1163.1 1483.6 1164.3 1489.3 1165.5 1494.6C1166.7 1500 1167.9 1505.7 1169.1 1510.7C1170.3 1515.8 1171.5 1520.6 1172.7 1525.1C1173.9 1529.5 1175.1 1533.7 1176.3 1537.6C1177.5 1541.5 1178.6 1545 1179.8 1548.3C1181 1551.6 1182.2 1554.6 1183.4 1557.3C1184.6 1559.9 1185.8 1562 1187 1564.4C1188.2 1566.8 1189.4 1569.3 1190.6 1571.6C1191.8 1573.8 1193 1575.8 1194.2 1577.8C1195.4 1579.9 1196.5 1582.2 1197.7 1584.1C1198.9 1586 1200.1 1588 1201.3 1589.5C1202.5 1591 1203.4 1592.1 1204.9 1593.1C1206.4 1594 1208.5 1594.6 1210.3 1595.2C1212.1 1595.8 1213.8 1596.2 1215.6 1596.6C1217.4 1597 1219.2 1597.4 1221 1597.5C1222.8 1597.7 1224.9 1597.8 1226.4 1597.5C1227.9 1597.2 1228.8 1596.6 1229.9 1595.7C1231.1 1594.8 1232.3 1593.8 1233.5 1592.2C1234.7 1590.5 1235.9 1588.1 1237.1 1585.9C1238.3 1583.7 1239.5 1581.4 1240.7 1578.7C1241.9 1576.1 1243.1 1572.8 1244.3 1569.8C1245.5 1566.8 1246.6 1563.5 1247.8 1560.8C1249 1558.2 1250.2 1555.5 1251.4 1553.7C1252.6 1551.8 1253.8 1550.8 1255 1549.7C1256.2 1548.7 1257.4 1547.9 1258.6 1547.4C1259.8 1546.9 1261 1546.8 1262.2 1546.9C1263.4 1547 1264.5 1547.3 1265.7 1548C1266.9 1548.6 1268.1 1549.6 1269.3 1551C1270.5 1552.4 1271.7 1554.4 1272.9 1556.4C1274.1 1558.3 1275.3 1560.5 1276.5 1562.6C1277.7 1564.7 1278.9 1567 1280.1 1568.9C1281.2 1570.8 1282.4 1572.8 1283.6 1574.3C1284.8 1575.8 1285.7 1576.7 1287.2 1577.8C1288.7 1578.9 1290.8 1580.1 1292.6 1580.9C1294.4 1581.6 1296.2 1581.8 1297.9 1582.3C1299.7 1582.8 1301.5 1583.2 1303.3 1583.7C1305.1 1584.3 1306.9 1584.9 1308.7 1585.5C1310.5 1586.1 1312.3 1586.8 1314.1 1587.3C1315.8 1587.8 1317.6 1588.3 1319.4 1588.6C1321.2 1588.9 1323 1589 1324.8 1589.1C1326.6 1589.2 1328.4 1589.4 1330.2 1589.1C1331.9 1588.9 1333.7 1588.5 1335.5 1587.7C1337.3 1586.8 1339.1 1585.4 1340.9 1584.1C1342.7 1582.8 1344.8 1580.8 1346.3 1579.6C1347.8 1578.4 1348.9 1577.5 1349.8 1576.9C1350.8 1576.4 1351.6 1576.2 1352 1576.1" fill="none" stroke="#164b5e" stroke-width="4.8" stroke-linecap="round" stroke-linejoin="round"/>
</g>
<text font-size="27.3" text-anchor="end" transform="translate(1070.8 1276.6) scale(1 1.05)">8000</text>
<text font-size="27.3" text-anchor="end" transform="translate(1070.8 1607.9) scale(1 1.05)">0</text>
<text font-size="27.3" text-anchor="middle" transform="translate(1094.8 1647.9) scale(1 1.05)">0</text>
<text font-size="27.3" text-anchor="middle" transform="translate(1430.8 1647.9) scale(1 1.05)">1000</text>
<text font-size="26.1" text-anchor="middle" transform="translate(1263.8 1647.9) scale(1 1.1)">Time (ms)</text>
<text font-size="25.9" text-anchor="middle" transform="translate(1043.6 1433.2) rotate(-90) scale(1 1.1)">Kinetic Energy (µJ)</text>
</g>
<defs><filter id="b3" x="-20%" y="-20%" width="140%" height="140%"><feGaussianBlur stdDeviation="3"/></filter><filter id="b25" x="-20%" y="-20%" width="140%" height="140%"><feGaussianBlur stdDeviation="2.6"/></filter><filter id="b2" x="-20%" y="-20%" width="140%" height="140%"><feGaussianBlur stdDeviation="1.6"/></filter><filter id="b1" x="-5%" y="-5%" width="110%" height="110%"><feGaussianBlur stdDeviation="0.7"/></filter><filter id="nw" x="0" y="0" width="100%" height="100%"><feTurbulence type="fractalNoise" baseFrequency="0.05 0.035" numOctaves="3" seed="11"/><feColorMatrix type="matrix" values="0 0 0 0 1  0 0 0 0 1  0 0 0 0 1  2.2 0 0 0 -0.95"/></filter><filter id="nk" x="0" y="0" width="100%" height="100%"><feTurbulence type="fractalNoise" baseFrequency="0.04 0.05" numOctaves="3" seed="29"/><feColorMatrix type="matrix" values="0 0 0 0 0  0 0 0 0 0  0 0 0 0 0  -2.2 0 0 0 1.0"/></filter><linearGradient id="rg" x1="0" y1="0" x2="1" y2="1"><stop offset="0" stop-color="#cb6152"/><stop offset="0.5" stop-color="#c35646"/><stop offset="1" stop-color="#c95f50"/></linearGradient></defs>
<clipPath id="m1"><rect x="584.6" y="1304.6" width="318.9" height="296.4"/></clipPath>
<g clip-path="url(#m1)">
<rect x="579.6" y="1300.6" width="328.9" height="305.4" fill="#1b1b1b"/>
<g filter="url(#b3)">
<path d="M580.4 1368.8C588.5 1367.4 615.4 1360.3 629.1 1360.3C642.9 1360.3 655.7 1361.7 663.1 1368.8C670.5 1375.8 672.6 1387.2 673.7 1402.7C674.7 1418.3 667.7 1441.6 669.4 1462.1C671.2 1482.6 677.6 1507.4 684.3 1525.7C691 1544.1 701.3 1559.7 709.7 1572.4C718.2 1585.1 756.8 1597.1 735.2 1602.1C713.6 1607 606.2 1602.1 580.4 1602.1Z" fill="#343434"/>
<path d="M580.4 1300.9L680.1 1300.9L684.3 1339.1L658.8 1364.5L616.4 1356.1L580.4 1368.8Z" fill="#131313"/>
<path d="M687.5 1303C703.9 1303 768.3 1297 786.1 1303C804 1309 794.2 1327.6 794.6 1339.1C794.9 1350.6 805.2 1366.8 788.2 1372C771.3 1377.1 709.9 1375 692.8 1369.8C675.6 1364.7 686.6 1346 685.4 1341.2Z" fill="#b2b2b2"/>
<ellipse cx="720.4" cy="1334.8" rx="27.6" ry="31.8" fill="#d4d4d4"/>
<ellipse cx="760.7" cy="1356.1" rx="19.1" ry="14.8" fill="#c8c8c8"/>
<ellipse cx="709.7" cy="1313.6" rx="12.7" ry="8.5" fill="#969696"/>
<path d="M794.6 1303C805.9 1303 851.9 1297.7 862.5 1303C873.1 1308.3 861.8 1324.6 858.2 1334.8C854.7 1345.1 846.9 1356.1 841.2 1364.5C835.6 1373 829.2 1385 824.3 1385.7C819.3 1386.5 815.8 1376.2 811.6 1368.8C807.3 1361.4 800.9 1345.8 798.8 1341.2Z" fill="#8c8c8c"/>
<ellipse cx="834.9" cy="1320" rx="19.1" ry="12.7" fill="#b2b2b2"/>
<ellipse cx="813.7" cy="1368.8" rx="12.7" ry="10.6" fill="#6e6e6e"/>
<path d="M866.7 1300.9L909.1 1300.9L909.1 1536.3L856.1 1525.7L847.6 1440.9L849.7 1377.3Z" fill="#141414"/>
<path d="M909.1 1532.1C909.1 1544.5 936 1594 909.1 1606.3C882.3 1618.7 768.4 1610.6 747.9 1606.3C727.4 1602.1 773.4 1593.3 786.1 1580.9C798.8 1568.5 815.1 1551.9 824.3 1532.1C833.5 1512.3 835.9 1470.2 841.2 1462.1C846.6 1454 851.1 1471.6 856.1 1483.3C861 1495 868.5 1524 870.9 1532.1Z" fill="#323232"/>
<path d="M909.1 1546.9C909.1 1551.9 922.6 1566.7 909.1 1576.6C895.7 1586.5 846.9 1601.4 828.5 1606.3C810.1 1611.3 795.3 1612.3 798.8 1606.3C802.4 1600.3 841.2 1576.3 849.7 1570.3Z" fill="#707070"/>
<ellipse cx="637.6" cy="1419.7" rx="23.3" ry="33.9" fill="#424242" transform="rotate(20 637.6 1419.7)"/>
<ellipse cx="622.8" cy="1515.1" rx="19.1" ry="12.7" fill="#1e1e1e" transform="rotate(-35 622.8 1515.1)"/>
<ellipse cx="663.1" cy="1557.5" rx="23.3" ry="12.7" fill="#3e3e3e" transform="rotate(40 663.1 1557.5)"/>
<ellipse cx="605.8" cy="1568.2" rx="19.1" ry="10.6" fill="#4b4b4b" transform="rotate(30 605.8 1568.2)"/>
</g>
<rect x="584.6" y="1305.6" width="318.9" height="295.4" filter="url(#nw)" opacity="0.17"/>
<rect x="584.6" y="1305.6" width="318.9" height="295.4" filter="url(#nk)" opacity="0.24"/>
<g filter="url(#b25)">
<path d="M688.5 1375.1C686.1 1379 677.2 1387.5 673.7 1398.5C670.2 1409.4 667.3 1426.8 667.3 1440.9C667.3 1455 670.2 1469.2 673.7 1483.3C677.2 1497.5 683.2 1512.3 688.5 1525.7C693.8 1539.2 699.1 1553.7 705.5 1563.9C711.9 1574.2 720.4 1582.1 726.7 1587.2C733.1 1592.4 737.3 1594.8 743.7 1594.7C750 1594.5 757.5 1591.7 764.9 1586.2C772.3 1580.7 781.5 1571.9 788.2 1561.8C794.9 1551.7 800.6 1538.8 805.2 1525.7C809.8 1512.7 813.7 1497.5 815.8 1483.3C817.9 1469.2 819 1453.6 817.9 1440.9C816.9 1428.2 813 1417.6 809.4 1407C805.9 1396.4 798.8 1382.2 796.7 1377.3" fill="none" stroke="#282828" stroke-width="9.8" stroke-linecap="round" stroke-linejoin="round" opacity="0.9"/>
<path d="M771.3 1315.8C773.7 1316.8 781.9 1318.2 786.1 1322.1C790.3 1326 794.1 1332.7 796.7 1339.1C799.4 1345.4 801.1 1356.8 802 1360.3" fill="none" stroke="#323232" stroke-width="6.4" stroke-linecap="round" stroke-linejoin="round" opacity="0.85"/>
<path d="M786.1 1320C787.5 1318.9 793.2 1314.7 794.6 1313.6" fill="none" stroke="#464646" stroke-width="3.8" stroke-linecap="round" stroke-linejoin="round" opacity="0.7"/>
</g>
<g filter="url(#b2)">
<path d="M838.1 1398.5C837.4 1405.5 835.6 1426.8 833.8 1440.9C832.1 1455 830.1 1469.5 827.5 1483.3C824.8 1497.1 822.7 1511.2 817.9 1523.6C813.1 1536 806.6 1546.9 798.8 1557.5C791.1 1568.2 779.7 1580.2 771.3 1587.2C762.8 1594.3 751.8 1597.8 747.9 1600" fill="none" stroke="#aaaaaa" stroke-width="3.2" stroke-linecap="round" stroke-linejoin="round"/>
<path d="M848.7 1377.3C848.5 1387.9 849 1419.7 847.6 1440.9C846.2 1462.1 844.6 1486.1 840.2 1504.5C835.8 1522.9 824.3 1543.4 821.1 1551.2" fill="none" stroke="#141414" stroke-width="9.3" stroke-linecap="round" stroke-linejoin="round"/>
<path d="M657.8 1387.9C659.4 1385.9 662.9 1379 667.3 1376.2C671.7 1373.4 681.5 1372.1 684.3 1371.3" fill="none" stroke="#d7d7d7" stroke-width="5.1" stroke-linecap="round" stroke-linejoin="round"/>
<path d="M651.4 1411.2C652.1 1408.7 655 1398.8 655.7 1396.4" fill="none" stroke="#787878" stroke-width="3.8" stroke-linecap="round" stroke-linejoin="round"/>
<path d="M644 1423.9C644.7 1417.6 644.7 1397.1 648.2 1385.7C651.8 1374.4 659.2 1363.1 665.2 1356.1C671.2 1349 681.1 1345.4 684.3 1343.3" fill="none" stroke="#555555" stroke-width="3.4" stroke-linecap="round" stroke-linejoin="round"/>
<path d="M635.5 1411.2C636.6 1404.1 637.3 1380.1 641.9 1368.8C646.5 1357.5 659.5 1347.6 663.1 1343.3" fill="none" stroke="#3c3c3c" stroke-width="3" stroke-linecap="round" stroke-linejoin="round"/>
<ellipse cx="594.1" cy="1480.1" rx="18" ry="8.5" fill="#b9b9b9" transform="rotate(-35 594.1 1480.1)"/>
<ellipse cx="593.1" cy="1521.5" rx="11.7" ry="4.2" fill="#646464" transform="rotate(-30 593.1 1521.5)"/>
<ellipse cx="647.2" cy="1541.6" rx="3.8" ry="9.5" fill="#737373" transform="rotate(-25 647.2 1541.6)"/>
<path d="M622.8 1568.2C626.3 1573.5 640.5 1594.7 644 1600" fill="none" stroke="#696969" stroke-width="5.1" stroke-linecap="round" stroke-linejoin="round"/>
<path d="M599.5 1557.5C602.3 1561.4 613.6 1577 616.4 1580.9" fill="none" stroke="#5a5a5a" stroke-width="3.8" stroke-linecap="round" stroke-linejoin="round"/>
<path d="M849.7 1589.4C853.3 1588.3 867.4 1584.1 870.9 1583" fill="none" stroke="#bebebe" stroke-width="4.2" stroke-linecap="round" stroke-linejoin="round"/>
<path d="M722.5 1599.5C725.3 1599.7 736.6 1600.3 739.4 1600.4" fill="none" stroke="#6e6e6e" stroke-width="3.4" stroke-linecap="round" stroke-linejoin="round"/>
</g>
<g filter="url(#b1)">
<path d="M736.7 1367.3L693.8 1367.3C693.2 1368.8 691.8 1373.8 690.2 1376.2C688.6 1378.6 686.3 1379.6 684.3 1381.9C682.3 1384.2 679.9 1386.5 678.4 1390C676.8 1393.5 675.8 1397.8 675 1402.7C674.1 1407.7 673.7 1413.3 673.3 1419.7C672.9 1426 672.6 1433.8 672.6 1440.9C672.7 1448 673 1455.7 673.7 1462.1C674.4 1468.5 675.6 1473.8 676.9 1479.1C678.1 1484.4 679.5 1488.6 681.1 1493.9C682.7 1499.2 684.6 1504.9 686.4 1510.9C688.2 1516.9 689.8 1524 691.7 1530C693.7 1536 695.8 1541.6 698.1 1546.9C700.4 1552.2 702.9 1557.2 705.5 1561.8C708.2 1566.4 711.2 1571 714 1574.5C716.8 1578.1 719.6 1580.8 722.5 1583C725.3 1585.2 728.6 1586.7 731 1587.7C733.3 1588.7 735.7 1588.7 736.7 1588.9Z" fill="url(#rg)"/>
<path d="M743.7 1369.8L787.2 1369.8C788 1371.8 790.7 1377.1 792.5 1381.5C794.2 1385.9 796 1391.4 797.8 1396.4C799.5 1401.3 801.5 1405.9 803.1 1411.2C804.7 1416.5 806.2 1422.5 807.3 1428.2C808.4 1433.8 809.3 1439.5 809.9 1445.1C810.4 1450.8 810.6 1456.4 810.5 1462.1C810.4 1467.8 810 1473.4 809.4 1479.1C808.9 1484.7 808.4 1490 807.3 1496C806.3 1502 804.8 1508.8 803.1 1515.1C801.3 1521.5 799.2 1527.9 796.7 1534.2C794.2 1540.6 791.4 1547.3 788.2 1553.3C785 1559.3 781.5 1565.7 777.6 1570.3C773.7 1574.9 768.8 1578.2 764.9 1580.9C761 1583.5 757.8 1584.8 754.3 1586.2C750.8 1587.5 745.4 1588.5 743.7 1588.9Z" fill="url(#rg)"/>
</g>
</g>
<rect x="584.6" y="1259.5" width="158.4" height="46.1" fill="#1d4a7c"/>
<rect x="743" y="1259.5" width="160.8" height="46.1" fill="#8a754a"/>
<rect x="736.7" y="1334.4" width="7" height="254.6" fill="#fff"/>
<text x="618.3" y="1293.9" font-size="31.7" fill="#fff">4D<tspan font-size="21.5" dy="1.3">prosp</tspan></text>
<text x="780.8" y="1293.9" font-size="31.7" fill="#fff">4D<tspan font-size="21.5" dy="1.3">retro</tspan></text>
<text x="673.2" y="1440.7" font-size="26.3" font-weight="bold" fill="#000">131<tspan font-size="13.5">ml</tspan></text>
<path d="M673 1443.7H734.1" stroke="#000" stroke-width="2.4"/>
<text x="746.6" y="1440.7" font-size="26.3" font-weight="bold" fill="#000">128<tspan font-size="13.5">ml</tspan></text>
<path d="M745.9 1443.7H806.1" stroke="#000" stroke-width="2.4"/>
<text x="674.4" y="1468.9" font-size="26.3" font-weight="bold" fill="#fff">100<tspan font-size="13.5">%</tspan></text>
<text x="754.2" y="1468.9" font-size="26.3" font-weight="bold" fill="#fff">98<tspan font-size="13.5">%</tspan></text>
<text x="743.6" y="1649.6" font-size="27" text-anchor="middle">EDV (ml)</text>
<clipPath id="m2"><rect x="1504.7" y="1304.1" width="316" height="294.9"/></clipPath>
<g clip-path="url(#m2)">
<rect x="1499.7" y="1300.1" width="326" height="303.9" fill="#1b1b1b"/>
<g filter="url(#b3)">
<path d="M1499.4 1300.9C1518.1 1300.9 1596.2 1294.5 1611.8 1300.9C1627.3 1307.3 1598.3 1324.9 1592.7 1339.1C1587 1353.2 1580.3 1368.8 1577.8 1385.7C1575.4 1402.7 1575.4 1421.1 1577.8 1440.9C1580.3 1460.7 1585.6 1484 1592.7 1504.5C1599.8 1525 1610 1548.4 1620.3 1563.9C1630.5 1579.5 1648.5 1590.8 1654.2 1597.8C1659.9 1604.9 1680 1604.9 1654.2 1606.3C1628.4 1607.7 1525.2 1606.3 1499.4 1606.3Z" fill="#3a3a3a"/>
<path d="M1516.3 1307.3C1528.7 1307.3 1578.9 1302 1590.6 1307.3C1602.2 1312.6 1590.6 1328.8 1586.3 1339.1C1582.1 1349.3 1573.6 1365.2 1565.1 1368.8C1556.6 1372.3 1542.8 1365.9 1535.4 1360.3C1528 1354.6 1523 1339.1 1520.6 1334.8Z" fill="#767676"/>
<path d="M1497.2 1360.3C1501.8 1361.7 1518.5 1358.9 1524.8 1368.8C1531.2 1378.7 1531.5 1402.4 1535.4 1419.7C1539.3 1437 1544.6 1456.8 1548.1 1472.7C1551.7 1488.6 1558 1505.2 1556.6 1515.1C1555.2 1525 1549.6 1534.6 1539.7 1532.1C1529.8 1529.6 1504.3 1505.6 1497.2 1500.3Z" fill="#121212"/>
<path d="M1613.9 1300.9C1630.9 1300.9 1698.4 1294.5 1715.7 1300.9C1733 1307.3 1726.7 1332.7 1717.8 1339.1C1709 1345.4 1671.9 1331.8 1662.7 1339.1C1653.5 1346.3 1674.3 1375.3 1662.7 1382.6C1651 1389.8 1603.3 1387.7 1592.7 1382.6C1582.1 1377.4 1596.4 1360.8 1599.1 1351.8C1601.7 1342.8 1607 1332.4 1608.6 1328.5Z" fill="#a0a0a0"/>
<ellipse cx="1641.5" cy="1320" rx="25.5" ry="12.7" fill="#acacac"/>
<path d="M1717.8 1300.9C1736.2 1300.9 1809.7 1250 1828.1 1300.9C1846.5 1351.8 1854.3 1555.4 1828.1 1606.3C1802 1657.2 1691.7 1611.3 1671.2 1606.3C1650.7 1601.4 1695.2 1590.1 1705.1 1576.6C1715 1563.2 1723.5 1544.8 1730.6 1525.7C1737.6 1506.6 1744 1479.8 1747.5 1462.1C1751.1 1444.4 1752.5 1433.1 1751.8 1419.7C1751.1 1406.2 1747.5 1392.1 1743.3 1381.5C1739 1370.9 1729.1 1360.3 1726.3 1356.1Z" fill="#2a2a2a"/>
<path d="M1730.6 1546.9C1740.5 1544.5 1779.3 1522.2 1789.9 1532.1C1800.5 1542 1808.3 1594 1794.2 1606.3C1780 1618.7 1719.9 1606.3 1705.1 1606.3Z" fill="#707070"/>
<ellipse cx="1775.1" cy="1483.3" rx="23.3" ry="36.1" fill="#181818"/>
<ellipse cx="1806.9" cy="1351.8" rx="17" ry="31.8" fill="#3a3a3a"/>
<ellipse cx="1764.5" cy="1320" rx="19.1" ry="12.7" fill="#3e3e3e"/>
<ellipse cx="1639.4" cy="1600" rx="27.6" ry="8.9" fill="#969696"/>
<ellipse cx="1546" cy="1563.9" rx="33.9" ry="14.8" fill="#484848" transform="rotate(20 1546 1563.9)"/>
<ellipse cx="1518.5" cy="1521.5" rx="25.5" ry="10.6" fill="#1a1a1a" transform="rotate(35 1518.5 1521.5)"/>
</g>
<rect x="1504.7" y="1305.1" width="316" height="293.9" filter="url(#nw)" opacity="0.17"/>
<rect x="1504.7" y="1305.1" width="316" height="293.9" filter="url(#nk)" opacity="0.24"/>
<g filter="url(#b25)">
<path d="M1618.1 1305.6C1615 1310.4 1604.7 1324.3 1599.1 1334.8C1593.4 1345.4 1587.7 1356.1 1584.2 1368.8C1580.7 1381.5 1578.7 1397.4 1577.8 1411.2C1577 1425 1577.5 1438.8 1578.9 1451.5C1580.3 1464.2 1583 1475.5 1586.3 1487.6C1589.7 1499.6 1594.1 1511.9 1599.1 1523.6C1604 1535.3 1609.7 1547.7 1616 1557.5C1622.4 1567.4 1629.5 1576.6 1637.2 1583C1645 1589.4 1654.9 1594.3 1662.7 1595.7C1670.5 1597.1 1676.8 1595.4 1683.9 1591.5C1691 1587.6 1698.7 1580.9 1705.1 1572.4C1711.5 1563.9 1716.8 1552.6 1722.1 1540.6C1727.4 1528.6 1732.3 1514.1 1736.9 1500.3C1741.5 1486.5 1747 1471.3 1749.6 1457.9C1752.3 1444.4 1753.5 1431.3 1752.8 1419.7C1752.1 1408 1748.8 1396.4 1745.4 1387.9C1742 1379.4 1735.9 1375.1 1732.7 1368.8C1729.5 1362.4 1727.4 1352.9 1726.3 1349.7" fill="none" stroke="#2c2c2c" stroke-width="11.5" stroke-linecap="round" stroke-linejoin="round" opacity="0.9"/>
<path d="M1558.8 1334.8C1558.5 1341.9 1556.9 1363.1 1557.1 1377.3C1557.2 1391.4 1558.1 1405.5 1559.8 1419.7C1561.5 1433.8 1564.5 1448 1567.2 1462.1C1570 1476.2 1572.6 1492.2 1576.1 1504.5C1579.7 1516.9 1586.4 1531 1588.4 1536.3" fill="none" stroke="#787878" stroke-width="14.8" stroke-linecap="round" stroke-linejoin="round" opacity="0.8"/>
<path d="M1557.9 1341.2C1557.8 1347.2 1556.7 1364.2 1557.1 1377.3C1557.4 1390.3 1558.3 1406.2 1559.8 1419.7C1561.3 1433.1 1563.9 1445.5 1566.2 1457.9C1568.5 1470.2 1572.4 1487.9 1573.6 1493.9" fill="none" stroke="#b9b9b9" stroke-width="6.4" stroke-linecap="round" stroke-linejoin="round" opacity="0.9"/>
<path d="M1557.3 1349.7C1557.2 1356.1 1556.7 1381.5 1556.6 1387.9" fill="none" stroke="#e1e1e1" stroke-width="5.5" stroke-linecap="round" stroke-linejoin="round"/>
</g>
<g filter="url(#b2)">
<path d="M1529.1 1320C1532.2 1318.9 1541.4 1313.6 1548.1 1313.6C1554.9 1313.6 1563.7 1316.5 1569.4 1320C1575 1323.5 1580 1332.4 1582.1 1334.8" fill="none" stroke="#787878" stroke-width="8.5" stroke-linecap="round" stroke-linejoin="round"/>
<path d="M1535.4 1339.1C1536.8 1344 1542.5 1363.8 1543.9 1368.8" fill="none" stroke="#787878" stroke-width="6.4" stroke-linecap="round" stroke-linejoin="round"/>
<ellipse cx="1600.1" cy="1314.7" rx="8.9" ry="6.8" fill="#c8c8c8"/>
<ellipse cx="1605" cy="1317.4" rx="3.8" ry="3.2" fill="#0f0f0f"/>
<path d="M1724.2 1334.8C1726.3 1336.3 1732 1340.5 1736.9 1343.3C1741.9 1346.2 1751.1 1350.4 1753.9 1351.8" fill="none" stroke="#d2d2d2" stroke-width="6.8" stroke-linecap="round" stroke-linejoin="round"/>
<ellipse cx="1732.7" cy="1333.1" rx="3.8" ry="3" fill="#1e1e1e"/>
<path d="M1792.1 1407C1794.5 1405.2 1804.4 1398.1 1806.9 1396.4" fill="none" stroke="#c3c3c3" stroke-width="7.6" stroke-linecap="round" stroke-linejoin="round"/>
<ellipse cx="1811.2" cy="1432.4" rx="6.4" ry="8.5" fill="#b4b4b4"/>
<path d="M1768.7 1385.7C1769.8 1382.9 1774 1371.6 1775.1 1368.8" fill="none" stroke="#8c8c8c" stroke-width="5.1" stroke-linecap="round" stroke-linejoin="round"/>
<path d="M1743.3 1305.6C1741.2 1308 1732.7 1317.6 1730.6 1320" fill="none" stroke="#828282" stroke-width="4.7" stroke-linecap="round" stroke-linejoin="round"/>
<ellipse cx="1794.2" cy="1466.3" rx="5.3" ry="5.3" fill="#646464"/>
<path d="M1514.2 1580.9C1524.8 1578.8 1567.2 1570.3 1577.8 1568.2" fill="none" stroke="#555555" stroke-width="6.4" stroke-linecap="round" stroke-linejoin="round"/>
<path d="M1800.5 1536.3C1801.6 1546.6 1805.9 1587.6 1806.9 1597.8" fill="none" stroke="#1c1c1c" stroke-width="8.5" stroke-linecap="round" stroke-linejoin="round"/>
<path d="M1622.4 1580.9C1623.4 1583.7 1627.7 1595 1628.7 1597.8" fill="none" stroke="#c8c8c8" stroke-width="5.5" stroke-linecap="round" stroke-linejoin="round"/>
</g>
<g filter="url(#b1)">
<path d="M1660.1 1381.5L1592.3 1381.5C1591.6 1383.6 1589.4 1389.3 1588.4 1394.2C1587.5 1399.2 1586.7 1405.2 1586.3 1411.2C1585.9 1417.2 1585.7 1423.9 1585.9 1430.3C1586.1 1436.7 1586.6 1443 1587.4 1449.4C1588.2 1455.7 1589.2 1462.1 1590.6 1468.5C1592 1474.8 1593.9 1481.2 1595.9 1487.6C1597.8 1493.9 1599.9 1500.3 1602.2 1506.6C1604.5 1513 1607 1519.4 1609.7 1525.7C1612.3 1532.1 1615.1 1538.8 1618.1 1544.8C1621.1 1550.8 1624.1 1556.5 1627.7 1561.8C1631.2 1567.1 1635.6 1572.6 1639.4 1576.6C1643.1 1580.7 1646.5 1584.1 1650 1586.2C1653.4 1588.2 1658.4 1588.5 1660.1 1588.9Z" fill="url(#rg)"/>
<path d="M1666.9 1337.6L1717.4 1337.6C1717.8 1339.3 1718.8 1344.1 1719.5 1347.6C1720.2 1351 1720.7 1354.6 1721.6 1358.2C1722.6 1361.7 1723.6 1365.2 1725.3 1368.8C1726.9 1372.3 1729.5 1375.1 1731.6 1379.4C1733.7 1383.6 1736.2 1389.3 1738 1394.2C1739.7 1399.2 1741.2 1403.8 1742.2 1409.1C1743.3 1414.4 1744.2 1420.4 1744.3 1426C1744.5 1431.7 1744 1437 1743.3 1443C1742.6 1449 1741.5 1455.4 1740.1 1462.1C1738.7 1468.8 1736.9 1476.2 1734.8 1483.3C1732.7 1490.4 1730 1497.5 1727.4 1504.5C1724.7 1511.6 1721.9 1518.7 1718.9 1525.7C1715.9 1532.8 1712.5 1540.2 1709.3 1546.9C1706.2 1553.7 1703.3 1560.4 1699.8 1566C1696.3 1571.7 1691.8 1577.3 1688.1 1580.9C1684.4 1584.4 1681.1 1585.9 1677.5 1587.2C1674 1588.6 1668.7 1588.7 1666.9 1588.9Z" fill="url(#rg)"/>
</g>
</g>
<rect x="1503.6" y="1258.9" width="157" height="46.2" fill="#1d4a7c"/>
<rect x="1660.6" y="1258.9" width="160.5" height="46.2" fill="#8a754a"/>
<rect x="1660.1" y="1334.2" width="6.8" height="254.8" fill="#fff"/>
<text x="1536.8" y="1293.9" font-size="31.7" fill="#fff">4D<tspan font-size="21.5" dy="1.3">prosp</tspan></text>
<text x="1698" y="1293.9" font-size="31.7" fill="#fff">4D<tspan font-size="21.5" dy="1.3">retro</tspan></text>
<text x="1596.2" y="1440.7" font-size="26.3" font-weight="bold" fill="#000">120<tspan font-size="13.5">ml</tspan></text>
<path d="M1596.3 1443.7H1656.7" stroke="#000" stroke-width="2.4"/>
<text x="1667.8" y="1440.7" font-size="26.3" font-weight="bold" fill="#000">143<tspan font-size="13.5">ml</tspan></text>
<path d="M1668 1443.7H1728.4" stroke="#000" stroke-width="2.4"/>
<text x="1604.4" y="1468.9" font-size="26.3" font-weight="bold" fill="#fff">83<tspan font-size="13.5">%</tspan></text>
<text x="1676.2" y="1468.9" font-size="26.3" font-weight="bold" fill="#fff">99<tspan font-size="13.5">%</tspan></text>
<text x="1662.8" y="1649.6" font-size="27" text-anchor="middle">EDV (ml)</text>
</g>
</svg>
</body></html>
